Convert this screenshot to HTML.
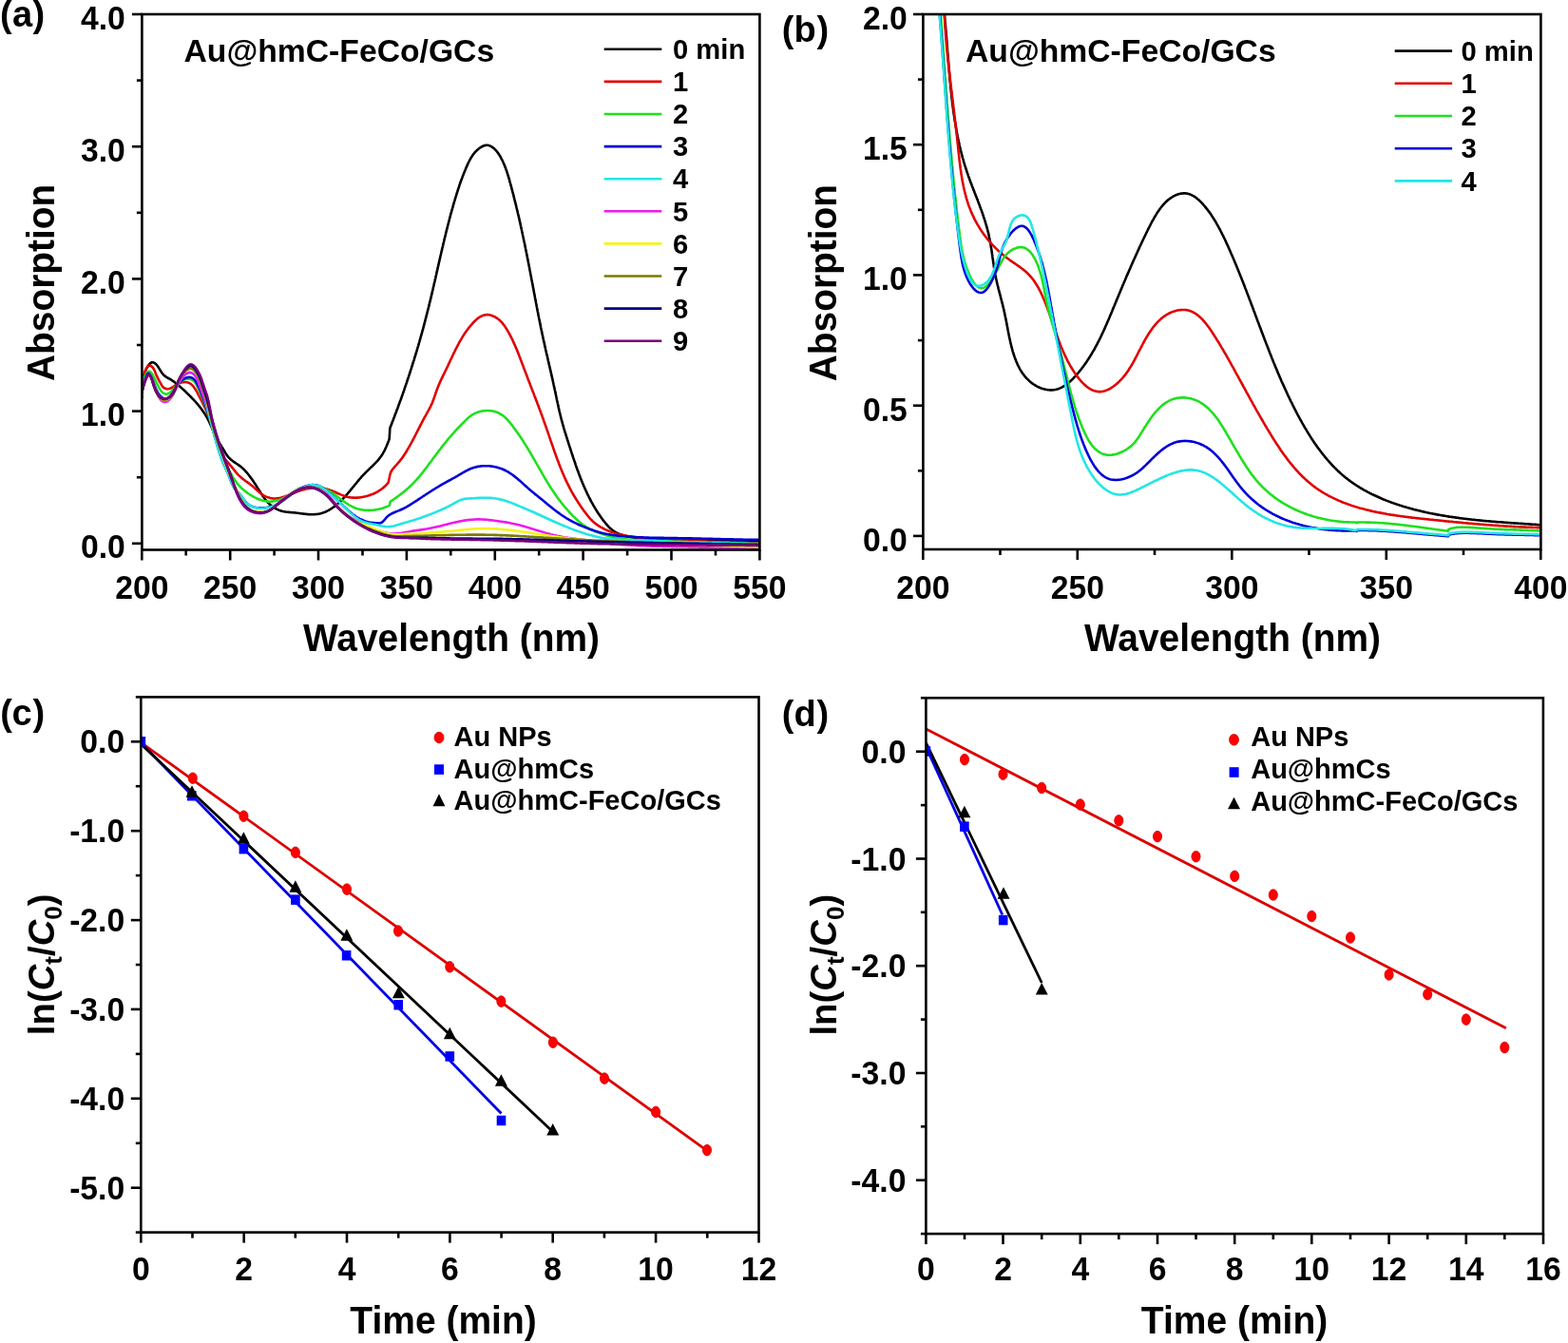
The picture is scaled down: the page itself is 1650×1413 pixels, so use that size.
<!DOCTYPE html>
<html><head><meta charset="utf-8"><title>Figure</title>
<style>html,body{margin:0;padding:0;background:#fff;width:1650px;height:1413px;overflow:hidden}svg{display:block}</style>
</head><body>
<svg width="1650" height="1413" viewBox="0 0 1650 1413">
<rect width="1650" height="1413" fill="#fff"/>
<defs>
<clipPath id="ca"><rect x="149.5" y="15" width="650" height="563.5"/></clipPath>
<clipPath id="cb"><rect x="971.5" y="15" width="650" height="563"/></clipPath>
<clipPath id="cc"><rect x="148.5" y="733.4" width="650.5" height="563.2"/></clipPath>
<clipPath id="cd"><rect x="974.5" y="734.3" width="649.5" height="563.8"/></clipPath>
</defs>
<g font-family="'Liberation Sans', Arial, Helvetica, sans-serif" font-weight="bold" fill="#000">
<path d="M149.5,402.3 149.8,401.2 150.2,400.1 150.5,398.9 150.8,397.7 151.1,396.6 151.4,395.4 151.7,394.2 152.1,393 152.5,391.9 152.9,390.7 153.3,389.6 153.8,388.5 154.4,387.4 155,386.3 155.6,385.3 156.3,384.3 157.1,383.3 157.9,382.4 158.9,381.7 159.8,381.3 160.8,381.2 161.8,381.5 162.8,382.1 163.7,382.8 164.6,383.6 165.3,384.5 166.1,385.5 166.8,386.6 167.5,387.7 168.2,388.9 168.9,390 169.5,391 170.2,392 170.9,393 171.6,393.8 172.4,394.7 173.3,395.4 174.2,396.1 175.2,396.8 176.2,397.4 177.3,398 178.4,398.6 179.4,399.2 180.5,399.9 181.5,400.6 182.5,401.2 183.5,401.9 184.5,402.7 185.4,403.4 186.4,404.1 187.3,404.9 188.2,405.7 189.1,406.5 190,407.3 190.9,408.1 191.8,408.9 192.7,409.7 193.6,410.5 194.5,411.3 195.3,412.1 196.2,413 197,413.8 197.9,414.7 198.8,415.5 199.6,416.4 200.5,417.2 201.3,418.1 202.2,419 203,419.8 203.8,420.7 204.7,421.6 205.5,422.5 206.3,423.4 207.1,424.3 207.9,425.2 208.7,426.2 209.4,427.1 210.2,428 210.9,429 211.7,429.9 212.4,430.9 213.1,431.9 213.8,432.9 214.5,433.9 215.2,434.9 215.8,435.9 216.4,436.9 217.1,438 217.7,439 218.2,440.1 218.8,441.1 219.3,442.2 219.9,443.3 220.4,444.4 220.9,445.5 221.4,446.6 221.9,447.7 222.4,448.8 222.9,449.9 223.3,451 223.8,452.1 224.3,453.2 224.8,454.3 225.3,455.4 225.8,456.5 226.3,457.6 226.8,458.7 227.3,459.8 227.9,460.9 228.4,461.9 229,463 229.6,464 230.2,465 230.9,466.1 231.5,467.1 232.1,468.1 232.8,469.1 233.4,470.1 234.1,471.2 234.7,472.2 235.3,473.2 236,474.3 236.6,475.3 237.2,476.4 237.8,477.4 238.5,478.4 239.2,479.4 239.9,480.4 240.7,481.3 241.5,482.1 242.4,483 243.3,483.7 244.2,484.5 245.2,485.2 246.1,485.9 247.1,486.6 248.1,487.3 249.1,488 250.2,488.7 251.2,489.4 252.2,490.1 253.1,490.8 254.1,491.6 255,492.4 255.9,493.2 256.8,494 257.6,494.9 258.4,495.8 259.2,496.7 260,497.6 260.8,498.5 261.5,499.5 262.3,500.4 263,501.4 263.7,502.4 264.4,503.3 265.1,504.3 265.8,505.3 266.5,506.3 267.2,507.3 267.8,508.3 268.5,509.3 269.2,510.3 269.8,511.3 270.5,512.4 271.1,513.4 271.8,514.4 272.4,515.4 273.1,516.4 273.7,517.5 274.4,518.5 275,519.5 275.7,520.5 276.3,521.5 277,522.5 277.7,523.5 278.4,524.5 279.1,525.5 279.9,526.4 280.7,527.4 281.5,528.3 282.3,529.1 283.1,530 284,530.8 285,531.6 285.9,532.4 286.9,533.1 287.9,533.8 288.9,534.4 290,535 291.1,535.6 292.2,536.1 293.3,536.6 294.4,537 295.6,537.4 296.8,537.8 297.9,538.1 299.1,538.3 300.3,538.5 301.5,538.7 302.7,538.8 303.9,538.9 305.1,539 306.3,539.1 307.5,539.2 308.7,539.3 309.9,539.4 311.1,539.5 312.3,539.7 313.5,539.8 314.7,540 315.9,540.2 317.1,540.3 318.3,540.5 319.5,540.6 320.7,540.8 321.9,540.9 323.1,541 324.3,541.1 325.5,541.2 326.7,541.2 328,541.3 329.2,541.3 330.4,541.2 331.6,541.1 332.8,541 334,540.9 335.2,540.7 336.4,540.5 337.5,540.2 338.7,539.9 339.8,539.5 341,539.1 342.1,538.7 343.2,538.2 344.3,537.6 345.4,537.1 346.5,536.5 347.5,535.9 348.6,535.2 349.6,534.5 350.6,533.8 351.6,533.1 352.5,532.4 353.5,531.6 354.4,530.8 355.3,530 356.3,529.2 357.1,528.4 358,527.6 358.9,526.8 359.7,525.9 360.6,525.1 361.4,524.2 362.2,523.3 363.1,522.4 363.9,521.6 364.7,520.7 365.5,519.7 366.2,518.8 367,517.9 367.8,517 368.6,516.1 369.3,515.1 370.1,514.2 370.8,513.3 371.6,512.3 372.4,511.4 373.1,510.5 373.9,509.5 374.7,508.6 375.4,507.7 376.2,506.7 377,505.8 377.7,504.9 378.5,504 379.3,503.1 380.1,502.1 380.9,501.2 381.7,500.4 382.5,499.5 383.4,498.6 384.2,497.7 385.1,496.9 385.9,496 386.8,495.2 387.7,494.3 388.6,493.5 389.4,492.6 390.3,491.8 391.2,491 392.1,490.1 392.9,489.3 393.8,488.4 394.6,487.6 395.5,486.7 396.3,485.8 397.1,485 397.9,484.1 398.7,483.1 399.4,482.2 400.1,481.3 400.9,480.3 401.5,479.3 402.2,478.3 402.8,477.3 403.4,476.2 404,475.2 404.6,474.1 405.1,473 405.6,471.9 406.1,470.8 406.6,469.7 407.1,468.5 407.5,467.4 408,466.3 408.4,465.2 408.9,464 409.3,462.9 409.7,461.8L409.7,461.8 409.8,460 409.9,458.3 410,456.5 410.1,454.7 410.2,453 410.3,451.2L410.3,451.2 410.5,450 411,448.9 411.4,447.8 411.8,446.7 412.3,445.5 412.7,444.4 413.1,443.3 413.6,442.2 414,441 414.4,439.9 414.9,438.8 415.3,437.7 415.7,436.5 416.1,435.4 416.6,434.3 417,433.2 417.4,432 417.8,430.9 418.3,429.8 418.7,428.7 419.1,427.5 419.5,426.4 419.9,425.3 420.3,424.1 420.7,423 421.1,421.9 421.6,420.7 422,419.6 422.4,418.5 422.8,417.3 423.2,416.2 423.6,415.1 424,413.9 424.4,412.8 424.8,411.7 425.2,410.5 425.6,409.4 425.9,408.3 426.3,407.1 426.7,406 427.1,404.9 427.5,403.7 427.9,402.6 428.3,401.4 428.7,400.3 429,399.2 429.4,398 429.8,396.9 430.2,395.7 430.5,394.6 430.9,393.5 431.3,392.3 431.7,391.2 432,390 432.4,388.9 432.8,387.7 433.1,386.6 433.5,385.4 433.9,384.3 434.2,383.2 434.6,382 434.9,380.9 435.3,379.7 435.7,378.6 436,377.4 436.4,376.3 436.7,375.1 437.1,374 437.4,372.8 437.8,371.7 438.1,370.5 438.5,369.4 438.8,368.2 439.1,367.1 439.5,365.9 439.8,364.8 440.2,363.6 440.5,362.4 440.8,361.3 441.2,360.1 441.5,359 441.8,357.8 442.2,356.7 442.5,355.5 442.8,354.4 443.1,353.2 443.5,352 443.8,350.9 444.1,349.7 444.4,348.6 444.7,347.4 445.1,346.2 445.4,345.1 445.7,343.9 446,342.8 446.3,341.6 446.6,340.4 446.9,339.3 447.2,338.1 447.5,336.9 447.8,335.8 448.1,334.6 448.4,333.5 448.7,332.3 449,331.1 449.3,330 449.6,328.8 449.9,327.6 450.2,326.5 450.5,325.3 450.8,324.1 451.1,323 451.4,321.8 451.7,320.6 451.9,319.4 452.2,318.3 452.5,317.1 452.8,315.9 453.1,314.8 453.4,313.6 453.6,312.4 453.9,311.3 454.2,310.1 454.5,308.9 454.7,307.7 455,306.6 455.3,305.4 455.6,304.2 455.8,303 456.1,301.9 456.4,300.7 456.6,299.5 456.9,298.4 457.2,297.2 457.5,296 457.7,294.8 458,293.7 458.3,292.5 458.5,291.3 458.8,290.1 459.1,289 459.3,287.8 459.6,286.6 459.9,285.4 460.1,284.3 460.4,283.1 460.7,281.9 460.9,280.7 461.2,279.6 461.5,278.4 461.7,277.2 462,276.1 462.3,274.9 462.5,273.7 462.8,272.5 463.1,271.4 463.3,270.2 463.6,269 463.9,267.8 464.1,266.7 464.4,265.5 464.7,264.3 465,263.2 465.2,262 465.5,260.8 465.8,259.6 466.1,258.5 466.3,257.3 466.6,256.1 466.9,255 467.2,253.8 467.4,252.6 467.7,251.5 468,250.3 468.3,249.1 468.6,247.9 468.9,246.8 469.1,245.6 469.4,244.4 469.7,243.3 470,242.1 470.3,240.9 470.6,239.8 470.9,238.6 471.2,237.5 471.5,236.3 471.8,235.1 472.1,234 472.4,232.8 472.7,231.6 473,230.5 473.3,229.3 473.6,228.2 473.9,227 474.2,225.8 474.5,224.7 474.9,223.5 475.2,222.4 475.5,221.2 475.8,220.1 476.2,218.9 476.5,217.7 476.8,216.6 477.1,215.4 477.5,214.3 477.8,213.1 478.1,212 478.5,210.8 478.8,209.7 479.2,208.5 479.5,207.4 479.9,206.2 480.2,205.1 480.6,204 480.9,202.8 481.3,201.7 481.7,200.5 482,199.4 482.4,198.2 482.8,197.1 483.2,196 483.5,194.8 483.9,193.7 484.3,192.5 484.7,191.4 485.1,190.3 485.5,189.1 486,188 486.4,186.9 486.8,185.7 487.2,184.6 487.7,183.5 488.1,182.3 488.6,181.2 489,180.1 489.5,179 490,177.8 490.4,176.7 490.9,175.6 491.4,174.5 491.9,173.4 492.4,172.2 492.9,171.1 493.5,170 494,169 494.6,167.9 495.2,166.8 495.8,165.8 496.5,164.8 497.1,163.8 497.8,162.8 498.5,161.8 499.3,160.9 500,160 500.9,159.1 501.7,158.3 502.6,157.5 503.5,156.7 504.4,156 505.4,155.3 506.5,154.6 507.6,154 508.7,153.5 509.8,153.1 510.9,152.9 512,152.8 513.2,152.8 514.3,153 515.4,153.4 516.5,153.9 517.6,154.5 518.6,155.2 519.5,155.9 520.5,156.8 521.3,157.6 522.2,158.5 522.9,159.5 523.7,160.5 524.4,161.5 525.1,162.5 525.7,163.6 526.4,164.6 527,165.7 527.5,166.8 528.1,167.9 528.7,169 529.2,170 529.7,171.2 530.2,172.3 530.6,173.4 531.1,174.5 531.5,175.6 532,176.7 532.4,177.9 532.8,179 533.2,180.1 533.6,181.3 533.9,182.4 534.3,183.5 534.6,184.7 535,185.8 535.3,187 535.7,188.1 536,189.3 536.3,190.4 536.6,191.6 537,192.8 537.3,193.9 537.6,195.1 537.9,196.2 538.2,197.4 538.5,198.6 538.8,199.7 539.1,200.9 539.4,202 539.7,203.2 540.1,204.4 540.4,205.5 540.6,206.7 540.9,207.8 541.2,209 541.5,210.2 541.8,211.3 542.1,212.5 542.4,213.7 542.7,214.8 543,216 543.3,217.2 543.5,218.3 543.8,219.5 544.1,220.7 544.4,221.8 544.7,223 544.9,224.2 545.2,225.4 545.5,226.5 545.8,227.7 546,228.9 546.3,230 546.6,231.2 546.8,232.4 547.1,233.6 547.4,234.7 547.6,235.9 547.9,237.1 548.1,238.3 548.4,239.4 548.7,240.6 548.9,241.8 549.2,243 549.4,244.1 549.7,245.3 549.9,246.5 550.2,247.7 550.4,248.8 550.7,250 550.9,251.2 551.2,252.4 551.4,253.5 551.7,254.7 551.9,255.9 552.2,257.1 552.4,258.3 552.6,259.4 552.9,260.6 553.1,261.8 553.4,263 553.6,264.2 553.8,265.3 554.1,266.5 554.3,267.7 554.5,268.9 554.8,270.1 555,271.2 555.2,272.4 555.5,273.6 555.7,274.8 555.9,276 556.2,277.1 556.4,278.3 556.6,279.5 556.9,280.7 557.1,281.9 557.3,283.1 557.5,284.2 557.8,285.4 558,286.6 558.2,287.8 558.4,289 558.7,290.1 558.9,291.3 559.1,292.5 559.3,293.7 559.6,294.9 559.8,296.1 560,297.2 560.2,298.4 560.5,299.6 560.7,300.8 560.9,302 561.1,303.2 561.4,304.3 561.6,305.5 561.8,306.7 562,307.9 562.2,309.1 562.5,310.2 562.7,311.4 562.9,312.6 563.1,313.8 563.4,315 563.6,316.1 563.8,317.3 564,318.5 564.3,319.7 564.5,320.9 564.7,322.1 564.9,323.2 565.2,324.4 565.4,325.6 565.6,326.8 565.8,328 566.1,329.1 566.3,330.3 566.5,331.5 566.8,332.7 567,333.9 567.2,335 567.5,336.2 567.7,337.4 567.9,338.6 568.2,339.7 568.4,340.9 568.7,342.1 568.9,343.3 569.1,344.5 569.4,345.6 569.6,346.8 569.9,348 570.1,349.2 570.4,350.3 570.6,351.5 570.9,352.7 571.1,353.9 571.4,355 571.6,356.2 571.9,357.4 572.1,358.6 572.4,359.7 572.7,360.9 572.9,362.1 573.2,363.3 573.4,364.4 573.7,365.6 574,366.8 574.2,368 574.5,369.1 574.8,370.3 575,371.5 575.3,372.6 575.6,373.8 575.9,375 576.1,376.2 576.4,377.3 576.7,378.5 576.9,379.7 577.2,380.9 577.5,382 577.7,383.2 578,384.4 578.3,385.5 578.6,386.7 578.8,387.9 579.1,389.1 579.4,390.2 579.6,391.4 579.9,392.6 580.2,393.8 580.4,394.9 580.7,396.1 581,397.3 581.2,398.4 581.5,399.6 581.8,400.8 582,402 582.3,403.1 582.5,404.3 582.8,405.5 583,406.7 583.3,407.8 583.6,409 583.8,410.2 584.1,411.4 584.3,412.6 584.6,413.7 584.8,414.9 585.1,416.1 585.3,417.3 585.6,418.4 585.8,419.6 586,420.8 586.3,422 586.6,423.1 586.8,424.3 587.1,425.5 587.3,426.7 587.6,427.8 587.8,429 588.1,430.2 588.4,431.4 588.6,432.5 588.9,433.7 589.2,434.9 589.5,436 589.8,437.2 590,438.4 590.3,439.5 590.6,440.7 590.9,441.9 591.3,443 591.6,444.2 591.9,445.3 592.2,446.5 592.5,447.7 592.9,448.8 593.2,450 593.5,451.1 593.9,452.3 594.2,453.4 594.6,454.6 594.9,455.7 595.3,456.9 595.6,458 596,459.2 596.4,460.3 596.7,461.5 597.1,462.6 597.4,463.8 597.8,464.9 598.2,466.1 598.5,467.2 598.9,468.3 599.3,469.5 599.7,470.6 600,471.8 600.4,472.9 600.8,474.1 601.1,475.2 601.5,476.4 601.9,477.5 602.3,478.6 602.6,479.8 603,480.9 603.4,482.1 603.8,483.2 604.2,484.4 604.6,485.5 605,486.6 605.3,487.8 605.7,488.9 606.1,490.1 606.5,491.2 606.9,492.3 607.3,493.5 607.7,494.6 608.2,495.7 608.6,496.8 609,498 609.4,499.1 609.8,500.2 610.3,501.3 610.7,502.5 611.1,503.6 611.6,504.7 612,505.8 612.5,506.9 612.9,508 613.4,509.1 613.9,510.2 614.3,511.3 614.8,512.4 615.3,513.5 615.8,514.6 616.3,515.7 616.8,516.8 617.3,517.9 617.8,519 618.3,520.1 618.8,521.2 619.4,522.2 619.9,523.3 620.5,524.4 621,525.5 621.6,526.5 622.1,527.6 622.7,528.6 623.3,529.7 623.9,530.7 624.5,531.8 625.1,532.8 625.7,533.9 626.3,534.9 626.9,535.9 627.6,537 628.2,538 628.9,539 629.5,540 630.2,541 630.9,542 631.6,543 632.3,544 633,545 633.7,545.9 634.4,546.9 635.1,547.9 635.9,548.8 636.7,549.8 637.4,550.7 638.2,551.6 639,552.6 639.8,553.4 640.6,554.3 641.5,555.2 642.4,556 643.3,556.8 644.2,557.5 645.1,558.3 646.1,558.9 647.1,559.6 648.1,560.2 649.2,560.7 650.2,561.2 651.4,561.7 652.5,562.2 653.6,562.6 654.8,562.9 655.9,563.3 657.1,563.6 658.3,563.9 659.5,564.2 660.7,564.5 661.9,564.7 663.1,564.9 664.2,565.1 665.4,565.3 666.6,565.5 667.8,565.7 669,565.9 670.2,566 671.4,566.2 672.6,566.3 673.8,566.4 675,566.5 676.2,566.6 677.4,566.7 678.6,566.8 679.8,566.9 681,566.9 682.2,567 683.4,567.1 684.6,567.1 685.8,567.2 687,567.2 688.2,567.3 689.4,567.4 690.6,567.4 691.8,567.5 693,567.5 694.2,567.6 695.4,567.6 696.6,567.6 697.8,567.7 699,567.7 700.2,567.8 701.4,567.8 702.6,567.9 703.8,567.9 705,568 706.2,568 707.4,568.1 708.6,568.1 709.8,568.1 711,568.2 712.2,568.2 713.4,568.2 714.6,568.3 715.8,568.3 717,568.3 718.2,568.4 719.4,568.4 720.6,568.4 721.8,568.5 723,568.5 724.2,568.5 725.4,568.5 726.6,568.6 727.8,568.6 729,568.6 730.2,568.6 731.5,568.7 732.7,568.7 733.9,568.7 735.1,568.7 736.3,568.7 737.5,568.8 738.7,568.8 739.9,568.8 741.1,568.8 742.3,568.8 743.5,568.8 744.7,568.8 745.9,568.9 747.1,568.9 748.3,568.9 749.5,568.9 750.7,568.9 751.9,568.9 753.1,568.9 754.3,569 755.5,569 756.7,569 757.9,569 759.1,569 760.3,569 761.5,569 762.7,569 763.9,569.1 765.1,569.1 766.3,569.1 767.5,569.1 768.7,569.1 769.9,569.1 771.1,569.1 772.3,569.1 773.5,569.1 774.7,569.2 775.9,569.2 777.1,569.2 778.4,569.2 779.6,569.2 780.8,569.2 782,569.2 783.2,569.3 784.4,569.3 785.6,569.3 786.8,569.3 788,569.3 789.2,569.3 790.4,569.4 791.6,569.4 792.8,569.4 794,569.4 795.2,569.4 796.4,569.5 797.6,569.5 798.8,569.5 800,569.5" fill="none" stroke="#000000" stroke-width="2.6" stroke-linejoin="round" stroke-linecap="round" clip-path="url(#ca)"/>
<path d="M149.5,402.3 150,401.3 150.4,400.2 150.8,399.1 151.1,397.9 151.3,396.7 151.6,395.5 151.8,394.2 152,393 152.3,391.8 152.7,390.6 153.1,389.4 153.6,388.3 154.2,387.2 155,386.2 155.8,385.3 156.7,384.8 157.7,384.6 158.7,384.9 159.7,385.6 160.6,386.5 161.3,387.5 161.9,388.5 162.5,389.7 163,390.8 163.5,392 163.9,393.2 164.4,394.3 164.9,395.4 165.4,396.4 165.9,397.5 166.4,398.5 166.9,399.6 167.5,400.6 168.1,401.7 168.7,402.7 169.3,403.8 169.9,404.9 170.6,406 171.3,407 172.2,407.9 173.2,408.5 174.2,408.9 175.4,409.1 176.6,409.2 177.7,409 178.9,408.7 180,408.2 181.1,407.7 182.1,407 183.1,406.3 184.2,405.6 185.2,405 186.2,404.3 187.2,403.8 188.3,403.3 189.4,402.9 190.6,402.5 191.8,402.2 193.1,402.1 194.3,402 195.5,402 196.7,402.2 197.9,402.5 198.9,402.9 199.9,403.4 200.9,404 201.8,404.8 202.6,405.6 203.4,406.4 204.1,407.4 204.8,408.4 205.5,409.4 206.1,410.5 206.8,411.6 207.4,412.7 208,413.8 208.5,414.9 209.1,416 209.7,417.1 210.3,418.2 210.8,419.3 211.4,420.3 212,421.4 212.5,422.5 213,423.5 213.6,424.6 214.1,425.6 214.6,426.7 215.1,427.8 215.6,428.9 216.1,429.9 216.6,431 217.1,432.1 217.5,433.2 218,434.3 218.4,435.4 218.9,436.5 219.3,437.7 219.7,438.8 220.2,439.9 220.6,441 221,442.2 221.4,443.3 221.8,444.4 222.2,445.6 222.6,446.7 223,447.9 223.4,449 223.8,450.2 224.2,451.3 224.5,452.5 224.9,453.6 225.3,454.8 225.7,455.9 226,457.1 226.4,458.2 226.8,459.4 227.2,460.5 227.5,461.7 227.9,462.8 228.3,464 228.7,465.2 229,466.3 229.4,467.5 229.8,468.6 230.2,469.7 230.6,470.9 231,472 231.4,473.1 231.9,474.2 232.4,475.3 232.9,476.4 233.4,477.5 233.9,478.5 234.5,479.6 235.1,480.6 235.8,481.6 236.5,482.6 237.2,483.5 238,484.4 238.8,485.4 239.6,486.3 240.3,487.2 241.2,488.1 241.9,489.1 242.7,490 243.5,490.9 244.3,491.9 245,492.8 245.8,493.8 246.5,494.7 247.3,495.6 248,496.6 248.8,497.5 249.6,498.4 250.4,499.3 251.2,500.1 252.1,500.9 253,501.7 253.9,502.5 254.8,503.3 255.7,504 256.7,504.8 257.7,505.5 258.6,506.2 259.6,506.9 260.6,507.6 261.6,508.3 262.6,509.1 263.5,509.8 264.5,510.5 265.4,511.3 266.4,512.1 267.3,512.9 268.2,513.7 269.1,514.5 270,515.3 270.8,516.1 271.7,516.9 272.6,517.7 273.6,518.5 274.5,519.2 275.5,520 276.4,520.6 277.5,521.3 278.5,521.9 279.6,522.4 280.8,522.9 281.9,523.3 283.1,523.6 284.3,524 285.5,524.2 286.7,524.4 288,524.5 289.2,524.5 290.4,524.5 291.6,524.4 292.7,524.3 293.9,524.1 295.1,523.8 296.2,523.5 297.4,523.1 298.5,522.8 299.6,522.4 300.8,522 301.9,521.5 303,521.1 304.2,520.6 305.3,520.2 306.4,519.7 307.6,519.3 308.7,518.9 309.8,518.4 311,518 312.1,517.6 313.3,517.1 314.4,516.7 315.6,516.3 316.7,516 317.9,515.6 319,515.3 320.2,514.9 321.3,514.6 322.5,514.3 323.7,514.1 324.8,513.9 326,513.7 327.2,513.5 328.3,513.3 329.5,513.2 330.7,513.1 331.9,513.1 333.1,513.1 334.3,513.1 335.5,513.2 336.7,513.3 337.9,513.4 339.1,513.6 340.3,513.8 341.5,514 342.7,514.3 343.9,514.6 345,514.9 346.2,515.3 347.4,515.7 348.5,516.1 349.7,516.5 350.8,517 352,517.5 353.1,518 354.2,518.5 355.3,519 356.4,519.5 357.5,519.9 358.6,520.4 359.8,520.9 360.9,521.3 362,521.7 363.1,522.1 364.3,522.4 365.4,522.7 366.6,523 367.8,523.2 368.9,523.4 370.1,523.5 371.3,523.6 372.5,523.6 373.7,523.7 374.9,523.6 376.1,523.6 377.3,523.5 378.5,523.4 379.7,523.2 380.9,523.1 382.1,522.8 383.3,522.6 384.5,522.3 385.6,522 386.8,521.7 388,521.3 389.1,521 390.3,520.5 391.4,520.1 392.5,519.7 393.6,519.2 394.7,518.7 395.8,518.1 396.8,517.6 397.9,517 398.9,516.3 399.9,515.7 400.9,515 401.9,514.3 402.8,513.6 403.7,512.8 404.6,512 405.5,511.2 406.3,510.3 407.2,509.4 407.9,508.5 408.7,507.5L408.7,507.5 409,506.2 409.2,505 409.5,503.8 409.8,502.5 410,501.3 410.3,500L410.3,500 410.6,498.8 411,497.6 411.4,496.5 412,495.5 412.6,494.5 413.3,493.5 414.1,492.6 414.8,491.7 415.6,490.8 416.5,489.9 417.3,489 418.1,488.1 418.9,487.2 419.7,486.2 420.5,485.3 421.2,484.4 421.9,483.4 422.7,482.5 423.4,481.5 424.1,480.5 424.8,479.5 425.4,478.5 426.1,477.5 426.7,476.5 427.4,475.5 428,474.5 428.6,473.4 429.2,472.4 429.8,471.4 430.4,470.3 431,469.3 431.6,468.2 432.2,467.2 432.8,466.1 433.3,465.1 433.9,464 434.5,463 435,461.9 435.6,460.8 436.1,459.8 436.7,458.7 437.2,457.6 437.8,456.5 438.3,455.5 438.9,454.4 439.4,453.3 440,452.2 440.5,451.2 441.1,450.1 441.6,449 442.2,448 442.7,446.9 443.3,445.8 443.8,444.7 444.4,443.7 444.9,442.6 445.5,441.5 446.1,440.5 446.6,439.4 447.2,438.4 447.8,437.3 448.4,436.3 449,435.2 449.6,434.2 450.1,433.1 450.7,432.1 451.3,431 451.9,430 452.4,428.9 453,427.8 453.5,426.7 454,425.7 454.5,424.6 455,423.5 455.4,422.3 455.8,421.2 456.3,420.1 456.7,418.9 457.1,417.8 457.5,416.7 457.9,415.5 458.2,414.4 458.6,413.3 459,412.1 459.4,411 459.9,409.9 460.3,408.7 460.7,407.6 461.1,406.5 461.6,405.4 462.1,404.3 462.5,403.2 463,402.1 463.5,401 464,399.9 464.5,398.8 465.1,397.7 465.6,396.6 466.1,395.5 466.6,394.4 467.2,393.4 467.7,392.3 468.2,391.2 468.8,390.1 469.3,389 469.8,387.9 470.4,386.9 470.9,385.8 471.4,384.7 471.9,383.6 472.4,382.5 472.9,381.4 473.4,380.3 473.9,379.2 474.4,378.1 475,377.1 475.5,376 476,374.9 476.5,373.8 477,372.7 477.5,371.6 478,370.6 478.6,369.5 479.1,368.4 479.6,367.3 480.2,366.3 480.7,365.2 481.3,364.1 481.8,363.1 482.4,362 482.9,361 483.5,359.9 484.1,358.9 484.7,357.8 485.3,356.8 485.9,355.8 486.5,354.7 487.2,353.7 487.8,352.7 488.5,351.7 489.1,350.7 489.8,349.7 490.5,348.7 491.2,347.7 491.9,346.8 492.7,345.8 493.4,344.8 494.2,343.9 495,342.9 495.8,342 496.6,341.1 497.4,340.2 498.3,339.2 499.1,338.3 500,337.5 500.9,336.6 501.8,335.8 502.8,335 503.7,334.3 504.7,333.7 505.7,333.1 506.8,332.5 507.8,332.1 508.9,331.7 509.9,331.4 511.1,331.2 512.2,331.1 513.3,331.1 514.5,331.3 515.7,331.5 516.9,331.8 518.1,332.2 519.2,332.7 520.4,333.2 521.5,333.9 522.6,334.5 523.6,335.3 524.6,336 525.6,336.8 526.5,337.6 527.4,338.5 528.2,339.4 529,340.3 529.7,341.3 530.5,342.2 531.2,343.2 531.8,344.2 532.5,345.2 533.1,346.2 533.8,347.3 534.4,348.3 535,349.4 535.6,350.4 536.1,351.5 536.7,352.5 537.3,353.6 537.8,354.7 538.3,355.7 538.9,356.8 539.4,357.9 539.9,359 540.4,360.1 540.9,361.2 541.4,362.3 541.9,363.4 542.4,364.5 542.8,365.6 543.3,366.7 543.8,367.8 544.2,368.9 544.7,370 545.1,371.1 545.5,372.3 546,373.4 546.4,374.5 546.9,375.6 547.3,376.8 547.7,377.9 548.1,379 548.6,380.1 549,381.3 549.4,382.4 549.8,383.5 550.3,384.6 550.7,385.8 551.1,386.9 551.5,388 552,389.1 552.4,390.3 552.8,391.4 553.3,392.5 553.7,393.6 554.1,394.8 554.6,395.9 555,397 555.4,398.1 555.8,399.2 556.3,400.4 556.7,401.5 557.1,402.6 557.6,403.7 558,404.8 558.4,406 558.9,407.1 559.3,408.2 559.7,409.3 560.2,410.5 560.6,411.6 561,412.7 561.5,413.8 561.9,414.9 562.3,416.1 562.7,417.2 563.2,418.3 563.6,419.4 564,420.5 564.5,421.7 564.9,422.8 565.3,423.9 565.7,425 566.2,426.2 566.6,427.3 567,428.4 567.4,429.5 567.8,430.7 568.3,431.8 568.7,432.9 569.1,434 569.5,435.2 569.9,436.3 570.4,437.4 570.8,438.6 571.2,439.7 571.6,440.8 572,441.9 572.4,443.1 572.8,444.2 573.2,445.3 573.6,446.5 574,447.6 574.4,448.8 574.8,449.9 575.2,451 575.6,452.2 576,453.3 576.4,454.4 576.8,455.6 577.2,456.7 577.6,457.9 578,459 578.3,460.1 578.7,461.3 579.1,462.4 579.5,463.6 579.9,464.7 580.3,465.9 580.7,467 581.1,468.1 581.5,469.3 581.9,470.4 582.3,471.6 582.7,472.7 583.1,473.8 583.5,475 583.9,476.1 584.3,477.2 584.7,478.4 585.1,479.5 585.5,480.6 585.9,481.8 586.3,482.9 586.7,484 587.2,485.1 587.6,486.3 588,487.4 588.4,488.5 588.9,489.6 589.3,490.7 589.8,491.9 590.2,493 590.7,494.1 591.1,495.2 591.6,496.3 592,497.4 592.5,498.5 593,499.6 593.5,500.7 593.9,501.8 594.4,502.9 594.9,504 595.4,505.1 595.9,506.2 596.4,507.2 597,508.3 597.5,509.4 598,510.5 598.6,511.5 599.1,512.6 599.6,513.7 600.2,514.7 600.8,515.8 601.3,516.8 601.9,517.9 602.5,518.9 603.1,520 603.7,521 604.3,522 604.9,523.1 605.6,524.1 606.2,525.1 606.8,526.1 607.5,527.1 608.1,528.2 608.8,529.2 609.5,530.2 610.1,531.2 610.8,532.2 611.5,533.2 612.2,534.2 612.9,535.2 613.6,536.2 614.3,537.2 615,538.2 615.8,539.1 616.5,540.1 617.3,541.1 618,542.1 618.8,543 619.6,544 620.3,544.9 621.2,545.8 622,546.7 622.8,547.5 623.7,548.4 624.6,549.2 625.5,549.9 626.4,550.7 627.3,551.4 628.3,552.1 629.3,552.8 630.2,553.4 631.2,554.1 632.3,554.7 633.3,555.2 634.3,555.8 635.4,556.3 636.4,556.9 637.5,557.4 638.6,557.8 639.7,558.3 640.8,558.7 641.9,559.2 643,559.6 644.2,560 645.3,560.3 646.5,560.7 647.6,561 648.8,561.4 650,561.7 651.1,562 652.3,562.3 653.5,562.6 654.7,562.8 655.9,563.1 657.1,563.3 658.3,563.5 659.5,563.7 660.7,564 661.9,564.2 663.1,564.3 664.3,564.5 665.5,564.7 666.8,564.9 668,565 669.2,565.2 670.4,565.3 671.6,565.5 672.8,565.6 674,565.7 675.2,565.9 676.4,566 677.6,566.1 678.8,566.2 680,566.3 681.1,566.4 682.3,566.5 683.5,566.6 684.7,566.7 685.9,566.8 687.1,566.8 688.3,566.9 689.5,567 690.7,567.1 691.9,567.1 693.1,567.2 694.3,567.3 695.5,567.3 696.7,567.4 697.8,567.4 699,567.5 700.2,567.6 701.4,567.6 702.6,567.7 703.8,567.7 705,567.8 706.2,567.8 707.4,567.9 708.6,567.9 709.8,568 711,568.1 712.2,568.1 713.4,568.2 714.6,568.2 715.8,568.3 717,568.3 718.2,568.4 719.4,568.5 720.6,568.5 721.8,568.6 723,568.6 724.2,568.7 725.4,568.8 726.6,568.8 727.9,568.9 729.1,568.9 730.3,569 731.5,569.1 732.7,569.1 733.9,569.2 735.1,569.2 736.3,569.3 737.5,569.3 738.7,569.4 739.9,569.5 741.1,569.5 742.3,569.6 743.5,569.6 744.7,569.7 745.9,569.7 747.1,569.7 748.3,569.8 749.5,569.8 750.7,569.9 751.9,569.9 753.1,570 754.3,570 755.5,570 756.7,570.1 757.9,570.1 759.1,570.2 760.3,570.2 761.5,570.2 762.7,570.3 763.9,570.3 765.1,570.4 766.3,570.4 767.5,570.4 768.7,570.5 769.9,570.5 771.1,570.5 772.3,570.6 773.5,570.6 774.7,570.7 775.9,570.7 777.1,570.7 778.3,570.8 779.5,570.8 780.7,570.8 781.9,570.9 783.1,570.9 784.4,571 785.6,571 786.8,571 788,571.1 789.2,571.1 790.4,571.2 791.6,571.2 792.8,571.2 794,571.3 795.2,571.3 796.4,571.4 797.6,571.4 798.8,571.5 800,571.5" fill="none" stroke="#e00000" stroke-width="2.6" stroke-linejoin="round" stroke-linecap="round" clip-path="url(#ca)"/>
<path d="M149.5,405 149.5,404.8 149.7,404.3 149.9,403.3 150.3,402.2 150.7,400.8 151.2,399.3 151.8,397.7 152.5,396.1 153.2,394.6 153.9,393.3 154.7,392.2 155.5,391.3 156.3,390.8 157.1,390.7 158,391 158.8,391.7 159.6,392.7 160.3,393.8 161.1,395.1 161.7,396.4 162.4,397.6 163,398.8 163.5,400 164,401 164.5,402.1 165,403.1 165.5,404.1 166,405.2 166.5,406.2 167.1,407.3 167.7,408.4 168.4,409.6 169.1,410.7 169.8,411.7 170.7,412.6 171.6,413.4 172.5,414 173.5,414.4 174.5,414.6 175.6,414.5 176.7,414.2 177.9,413.6 179,412.9 180,412.1 180.9,411.3 181.7,410.4 182.5,409.5 183.2,408.6 183.9,407.6 184.6,406.7 185.4,405.8 186.2,404.9 187.1,404 188,403.1 189,402.3 190,401.5 191.1,400.8 192.2,400.2 193.3,399.6 194.4,399.2 195.6,398.9 196.7,398.7 197.9,398.6 199,398.7 200.2,398.9 201.3,399.3 202.3,399.9 203.3,400.5 204.2,401.3 205,402.2 205.7,403.1 206.3,404.2 206.9,405.2 207.5,406.3 208,407.4 208.5,408.6 209,409.7 209.5,410.8 210,411.9 210.5,413.1 211,414.2 211.5,415.3 212,416.4 212.4,417.6 212.9,418.7 213.3,419.8 213.8,420.9 214.2,422.1 214.6,423.2 215,424.3 215.5,425.5 215.9,426.6 216.3,427.7 216.7,428.8 217.1,430 217.5,431.1 217.9,432.2 218.3,433.4 218.6,434.5 219,435.7 219.4,436.8 219.8,437.9 220.1,439.1 220.5,440.2 220.9,441.4 221.2,442.5 221.6,443.7 221.9,444.8 222.3,446 222.6,447.1 223,448.3 223.3,449.4 223.7,450.6 224,451.7 224.4,452.9 224.7,454.1 225.1,455.2 225.4,456.4 225.7,457.6 226.1,458.7 226.4,459.9 226.8,461 227.2,462.2 227.6,463.4 227.9,464.5 228.3,465.7 228.7,466.8 229.1,467.9 229.6,469 230,470.2 230.5,471.3 230.9,472.4 231.4,473.5 231.9,474.6 232.4,475.7 232.9,476.7 233.4,477.8 233.9,478.9 234.4,480 234.9,481.1 235.4,482.2 235.9,483.3 236.4,484.4 236.9,485.5 237.4,486.6 237.9,487.7 238.4,488.8 238.9,489.9 239.5,491 240,492.2 240.5,493.3 241,494.3 241.6,495.4 242.1,496.5 242.7,497.6 243.2,498.7 243.8,499.7 244.4,500.8 245,501.8 245.6,502.9 246.3,503.9 246.9,504.9 247.6,505.9 248.3,506.8 249,507.8 249.7,508.8 250.5,509.7 251.3,510.6 252.1,511.5 252.9,512.3 253.8,513.2 254.7,514 255.6,514.8 256.5,515.6 257.4,516.4 258.4,517.1 259.3,517.9 260.3,518.6 261.3,519.3 262.4,520 263.4,520.6 264.4,521.3 265.5,521.9 266.6,522.5 267.7,523.1 268.7,523.6 269.9,524.2 271,524.7 272.1,525.2 273.2,525.6 274.4,526 275.5,526.4 276.7,526.7 277.8,527 279,527.2 280.2,527.4 281.4,527.6 282.6,527.6 283.8,527.7 285,527.6 286.2,527.6 287.5,527.4 288.7,527.2 289.9,527 291.1,526.7 292.3,526.4 293.4,526.1 294.6,525.7 295.7,525.2 296.8,524.7 297.9,524.2 299,523.6 300.1,523.1 301.1,522.4 302.1,521.8 303.1,521.2 304.1,520.5 305.2,519.8 306.2,519.2 307.2,518.5 308.2,517.8 309.2,517.2 310.2,516.6 311.3,516 312.3,515.4 313.4,514.8 314.5,514.3 315.6,513.8 316.8,513.4 317.9,512.9 319.1,512.6 320.3,512.2 321.5,511.9 322.7,511.7 323.9,511.5 325.1,511.3 326.3,511.2 327.5,511.2 328.7,511.1 329.9,511.2 331.1,511.3 332.3,511.4 333.5,511.6 334.6,511.9 335.8,512.2 337,512.5 338.1,512.8 339.3,513.2 340.4,513.7 341.5,514.2 342.6,514.7 343.7,515.2 344.8,515.8 345.9,516.4 346.9,517 348,517.6 349,518.3 350,518.9 351,519.6 352,520.3 353,521.1 354,521.8 355,522.5 356,523.2 357,524 357.9,524.7 358.9,525.4 359.9,526.2 360.9,526.9 361.9,527.6 362.9,528.3 363.8,529 364.8,529.7 365.9,530.3 366.9,531 367.9,531.6 368.9,532.1 370,532.7 371,533.2 372.1,533.7 373.2,534.2 374.3,534.6 375.4,535 376.6,535.4 377.7,535.7 378.9,535.9 380.1,536.2 381.3,536.4 382.5,536.5 383.7,536.7 384.9,536.8 386.1,536.8 387.3,536.9 388.6,536.9 389.8,536.8 391,536.8 392.3,536.7 393.5,536.5 394.7,536.4 395.9,536.2 397.1,536 398.3,535.8 399.5,535.5 400.7,535.2 401.9,534.9 403.1,534.5 404.2,534.1 405.3,533.7 406.4,533.3 407.5,532.9 408.6,532.4 409.7,531.9L409.7,531.9 409.9,531.2 410.1,530.5 410.2,529.8 410.4,529.1 410.6,528.4 410.8,527.7L410.8,527.7 411.8,527 412.8,526.4 413.8,525.7 414.8,525 415.8,524.3 416.8,523.6 417.8,522.9 418.7,522.2 419.7,521.5 420.7,520.8 421.6,520.1 422.6,519.3 423.5,518.6 424.5,517.8 425.4,517.1 426.4,516.3 427.3,515.5 428.2,514.7 429.1,513.9 430,513.1 430.9,512.3 431.7,511.5 432.6,510.7 433.5,509.8 434.3,509 435.2,508.1 436,507.3 436.8,506.4 437.6,505.5 438.4,504.6 439.2,503.7 440,502.8 440.8,501.9 441.6,501 442.3,500 443.1,499.1 443.9,498.2 444.6,497.2 445.4,496.3 446.1,495.3 446.8,494.4 447.6,493.4 448.3,492.5 449,491.5 449.8,490.5 450.5,489.6 451.2,488.6 451.9,487.6 452.6,486.7 453.4,485.7 454.1,484.7 454.8,483.8 455.5,482.8 456.2,481.8 457,480.8 457.7,479.9 458.4,478.9 459.1,477.9 459.8,477 460.6,476 461.3,475.1 462,474.1 462.8,473.1 463.5,472.2 464.2,471.2 465,470.3 465.7,469.3 466.5,468.4 467.2,467.4 468,466.5 468.7,465.6 469.5,464.6 470.2,463.7 471,462.8 471.8,461.8 472.5,460.9 473.3,460 474.1,459.1 474.9,458.2 475.7,457.3 476.5,456.4 477.3,455.5 478.1,454.6 478.9,453.7 479.7,452.8 480.5,451.9 481.3,451 482.1,450.2 483,449.3 483.8,448.4 484.7,447.6 485.5,446.7 486.4,445.8 487.2,445 488.1,444.1 488.9,443.3 489.8,442.4 490.7,441.6 491.5,440.7 492.4,439.9 493.3,439.1 494.3,438.4 495.2,437.6 496.2,436.9 497.2,436.3 498.3,435.7 499.3,435.1 500.4,434.6 501.5,434.1 502.7,433.7 503.8,433.3 505,433 506.2,432.7 507.4,432.5 508.6,432.3 509.9,432.2 511.1,432.1 512.3,432 513.5,432 514.7,432.1 516,432.2 517.2,432.3 518.4,432.5 519.5,432.8 520.7,433.1 521.9,433.4 523,433.8 524.1,434.3 525.2,434.8 526.2,435.4 527.3,436 528.2,436.6 529.2,437.3 530.2,438 531.1,438.8 532,439.6 532.8,440.5 533.7,441.3 534.5,442.2 535.3,443.1 536.1,444.1 536.9,445 537.7,446 538.5,447 539.2,448 540,448.9 540.7,449.9 541.4,450.9 542.1,451.9 542.9,452.9 543.6,453.9 544.3,454.9 545,455.9 545.6,456.9 546.3,457.8 547,458.8 547.7,459.8 548.4,460.8 549,461.8 549.7,462.8 550.3,463.8 551,464.8 551.6,465.9 552.3,466.9 552.9,467.9 553.5,468.9 554.2,469.9 554.8,470.9 555.4,472 556,473 556.6,474 557.2,475.1 557.9,476.1 558.5,477.1 559.1,478.2 559.7,479.2 560.3,480.3 560.9,481.3 561.5,482.3 562.1,483.4 562.7,484.4 563.3,485.5 563.9,486.5 564.5,487.6 565.1,488.6 565.7,489.7 566.3,490.7 566.9,491.8 567.5,492.8 568.1,493.9 568.7,494.9 569.3,496 569.9,497 570.5,498.1 571.1,499.1 571.7,500.1 572.3,501.2 572.9,502.2 573.5,503.3 574.1,504.3 574.8,505.3 575.4,506.4 576,507.4 576.6,508.4 577.3,509.4 577.9,510.5 578.5,511.5 579.2,512.5 579.8,513.5 580.5,514.5 581.2,515.5 581.8,516.5 582.5,517.5 583.2,518.5 583.8,519.5 584.5,520.5 585.2,521.5 585.9,522.5 586.6,523.5 587.3,524.4 588,525.4 588.8,526.4 589.5,527.3 590.2,528.3 591,529.2 591.7,530.2 592.5,531.1 593.2,532.1 594,533 594.8,533.9 595.6,534.8 596.4,535.7 597.2,536.6 598,537.5 598.8,538.4 599.6,539.3 600.4,540.2 601.3,541.1 602.1,541.9 603,542.8 603.8,543.6 604.7,544.5 605.6,545.3 606.4,546.1 607.3,547 608.2,547.8 609.1,548.6 610.1,549.4 611,550.1 611.9,550.9 612.9,551.6 613.8,552.4 614.8,553.1 615.8,553.8 616.8,554.4 617.8,555.1 618.8,555.7 619.9,556.3 620.9,556.8 622,557.4 623.1,557.9 624.2,558.4 625.3,558.8 626.4,559.3 627.6,559.7 628.7,560.1 629.8,560.5 631,560.9 632.1,561.3 633.3,561.6 634.4,562 635.6,562.4 636.7,562.8 637.9,563.2 639,563.5 640.2,563.9 641.4,564.2 642.5,564.5 643.7,564.8 644.9,565.1 646,565.4 647.2,565.6 648.4,565.8 649.6,566.1 650.7,566.3 651.9,566.5 653.1,566.6 654.3,566.8 655.5,567 656.7,567.1 657.9,567.2 659.1,567.4 660.3,567.5 661.5,567.6 662.7,567.7 663.9,567.8 665.1,567.9 666.3,567.9 667.5,568 668.7,568.1 669.9,568.1 671.1,568.2 672.3,568.2 673.5,568.3 674.7,568.3 675.9,568.4 677.1,568.4 678.3,568.5 679.6,568.5 680.8,568.6 682,568.6 683.2,568.7 684.4,568.7 685.6,568.8 686.8,568.8 688,568.9 689.2,568.9 690.4,569 691.6,569 692.8,569.1 694,569.1 695.2,569.2 696.4,569.2 697.6,569.3 698.8,569.3 700,569.4 701.2,569.4 702.4,569.5 703.6,569.5 704.8,569.5 706,569.6 707.2,569.6 708.4,569.7 709.6,569.7 710.9,569.8 712.1,569.8 713.3,569.8 714.5,569.9 715.7,569.9 716.9,569.9 718.1,570 719.3,570 720.5,570.1 721.7,570.1 722.9,570.1 724.1,570.2 725.3,570.2 726.5,570.2 727.7,570.3 728.9,570.3 730.1,570.3 731.3,570.3 732.5,570.4 733.7,570.4 734.9,570.4 736.1,570.5 737.3,570.5 738.6,570.5 739.8,570.5 741,570.6 742.2,570.6 743.4,570.6 744.6,570.7 745.8,570.7 747,570.7 748.2,570.7 749.4,570.8 750.6,570.8 751.8,570.8 753,570.8 754.2,570.9 755.4,570.9 756.6,570.9 757.8,570.9 759,571 760.2,571 761.5,571 762.7,571 763.9,571.1 765.1,571.1 766.3,571.1 767.5,571.2 768.7,571.2 769.9,571.2 771.1,571.2 772.3,571.3 773.5,571.3 774.7,571.3 775.9,571.4 777.1,571.4 778.3,571.4 779.5,571.4 780.7,571.5 781.9,571.5 783.1,571.5 784.3,571.6 785.5,571.6 786.8,571.6 788,571.7 789.2,571.7 790.4,571.7 791.6,571.8 792.8,571.8 794,571.8 795.2,571.9 796.4,571.9 797.6,572 798.8,572 800,572" fill="none" stroke="#1ee01e" stroke-width="2.6" stroke-linejoin="round" stroke-linecap="round" clip-path="url(#ca)"/>
<path d="M149.5,410 147.5,415.6 146.2,418.7 145.7,419.8 145.8,419.2 146.4,417.2 147.3,414.1 148.5,410.5 149.9,406.5 151.3,402.6 152.5,399.2 153.6,396.5 154.5,394.6 155.3,393.5 155.9,392.9 156.4,392.9 157,393.2 157.6,393.8 158.1,394.6 158.7,395.7 159.3,396.8 159.9,398.1 160.4,399.4 161,400.7 161.5,402 161.9,403.3 162.4,404.5 162.8,405.7 163.3,406.9 163.7,408 164.1,409.1 164.6,410.1 165.1,411.2 165.6,412.2 166.2,413.1 166.8,414.1 167.4,415 168.2,415.9 169,416.7 169.8,417.5 170.8,418.3 171.9,419.1 173,419.6 174.1,420 175.2,419.9 176.3,419.5 177.3,418.8 178.3,417.9 179.2,416.9 180.1,415.9 180.9,414.8 181.6,413.8 182.3,412.7 182.9,411.7 183.5,410.7 184.1,409.7 184.7,408.7 185.3,407.7 185.9,406.7 186.5,405.8 187.1,404.8 187.8,403.8 188.6,402.9 189.4,402 190.2,401.1 191.2,400.3 192.1,399.5 193.2,398.8 194.3,398.2 195.5,397.6 196.7,397.2 197.9,397 199.1,396.9 200.2,396.9 201.3,397.2 202.3,397.7 203.2,398.3 204.1,399 204.9,399.9 205.6,400.8 206.3,401.9 207,403 207.6,404.1 208.2,405.3 208.8,406.4 209.3,407.6 209.8,408.7 210.3,409.8 210.8,410.9 211.2,412.1 211.6,413.2 212,414.3 212.4,415.4 212.8,416.5 213.2,417.6 213.6,418.7 214,419.8 214.4,420.9 214.8,422 215.2,423.1 215.5,424.3 215.9,425.4 216.3,426.5 216.7,427.7 217.1,428.8 217.4,429.9 217.8,431.1 218.2,432.2 218.6,433.4 218.9,434.5 219.3,435.7 219.7,436.8 220,438 220.4,439.2 220.7,440.3 221.1,441.5 221.4,442.6 221.8,443.8 222.1,445 222.4,446.1 222.8,447.3 223.1,448.4 223.4,449.6 223.7,450.8 224.1,451.9 224.4,453.1 224.7,454.3 225,455.4 225.3,456.6 225.6,457.7 225.9,458.9 226.3,460.1 226.6,461.2 226.9,462.4 227.2,463.5 227.5,464.7 227.9,465.8 228.2,467 228.5,468.2 228.9,469.3 229.2,470.5 229.5,471.6 229.9,472.7 230.2,473.9 230.6,475 231,476.2 231.3,477.3 231.7,478.4 232.1,479.6 232.5,480.7 232.9,481.8 233.3,483 233.7,484.1 234.2,485.2 234.6,486.3 235.1,487.4 235.5,488.5 236,489.6 236.5,490.7 237,491.8 237.5,492.9 238,494 238.5,495.1 239,496.2 239.5,497.3 240,498.4 240.5,499.5 240.9,500.7 241.4,501.8 241.8,502.9 242.2,504.1 242.6,505.2 243.1,506.3 243.5,507.5 244,508.6 244.5,509.6 245,510.7 245.6,511.7 246.2,512.7 246.9,513.7 247.6,514.6 248.4,515.6 249.2,516.5 250,517.4 250.8,518.3 251.6,519.2 252.4,520.1 253.2,521 254,522 254.7,523 255.4,524 256.1,525 256.8,526 257.6,526.9 258.3,527.9 259.1,528.7 259.9,529.6 260.8,530.4 261.7,531.1 262.7,531.7 263.8,532.2 264.8,532.7 266,533.1 267.1,533.5 268.3,533.8 269.6,534 270.8,534.2 272.1,534.3 273.3,534.4 274.6,534.4 275.8,534.4 277.1,534.4 278.3,534.3 279.5,534.2 280.7,534 281.9,533.8 283.1,533.6 284.3,533.4 285.4,533.1 286.6,532.7 287.7,532.3 288.8,531.9 289.9,531.5 290.9,530.9 292,530.4 293.1,529.8 294.1,529.2 295.1,528.5 296.1,527.8 297.1,527.1 298.1,526.4 299.1,525.6 300.1,524.9 301,524.1 302,523.4 302.9,522.7 303.8,521.9 304.8,521.2 305.7,520.5 306.7,519.8 307.6,519.1 308.6,518.4 309.5,517.7 310.5,517 311.5,516.4 312.5,515.8 313.6,515.1 314.6,514.5 315.7,514 316.8,513.4 318,512.9 319.1,512.4 320.2,512 321.4,511.6 322.6,511.2 323.7,510.9 324.9,510.6 326.1,510.4 327.3,510.2 328.5,510.1 329.6,510.1 330.8,510.2 332,510.3 333.1,510.5 334.3,510.7 335.4,511.1 336.5,511.6 337.5,512.1 338.6,512.7 339.6,513.4 340.7,514.1 341.7,514.9 342.6,515.7 343.6,516.5 344.6,517.2 345.5,518 346.4,518.8 347.4,519.5 348.3,520.3 349.2,521.1 350.1,521.8 351,522.6 351.8,523.4 352.7,524.1 353.6,524.9 354.5,525.7 355.3,526.6 356.2,527.4 357.1,528.2 357.9,529 358.8,529.9 359.7,530.7 360.6,531.6 361.4,532.4 362.3,533.2 363.2,534.1 364.1,534.9 365,535.7 365.9,536.6 366.8,537.4 367.7,538.2 368.6,538.9 369.6,539.7 370.5,540.5 371.4,541.2 372.4,541.9 373.4,542.6 374.3,543.3 375.3,544 376.3,544.6 377.4,545.2 378.4,545.8 379.4,546.3 380.5,546.8 381.6,547.3 382.7,547.8 383.8,548.2 384.9,548.6 386.1,548.9 387.2,549.2 388.4,549.5 389.6,549.7 390.8,549.9 392.1,550 393.3,550.1 394.6,550.2 395.8,550.3 397.1,550.4 398.3,550.5 399.4,550.4 400.5,550.2 401.6,549.8 402.5,549.2 403.3,548.4 404.2,547.5 405,546.5 405.8,545.5 406.6,544.5 407.5,543.6 408.4,542.8 409.4,542.1 410.4,541.4 411.4,540.8 412.5,540.2 413.6,539.7 414.7,539.2 415.8,538.8 416.9,538.3 418,537.9 419.2,537.4 420.3,537 421.4,536.5 422.5,536 423.6,535.5 424.7,535 425.8,534.5 426.8,533.9 427.9,533.3 428.9,532.7 429.9,532.1 431,531.5 432,530.8 433,530.2 434,529.5 435,528.9 436.1,528.2 437.1,527.6 438.1,526.9 439.1,526.3 440.1,525.6 441.1,524.9 442.1,524.3 443.1,523.6 444.1,523 445.1,522.3 446.1,521.6 447.1,521 448.1,520.3 449.1,519.6 450.1,519 451.2,518.3 452.2,517.7 453.2,517 454.2,516.4 455.2,515.7 456.2,515.1 457.2,514.5 458.3,513.8 459.3,513.2 460.3,512.6 461.3,512 462.4,511.3 463.4,510.7 464.4,510.1 465.5,509.5 466.5,508.9 467.6,508.4 468.6,507.8 469.6,507.2 470.7,506.6 471.8,506 472.8,505.5 473.9,504.9 474.9,504.3 476,503.7 477,503.2 478.1,502.6 479.1,502 480.2,501.4 481.2,500.8 482.3,500.1 483.3,499.5 484.4,498.9 485.4,498.3 486.4,497.7 487.5,497.1 488.5,496.5 489.6,495.9 490.7,495.3 491.7,494.8 492.8,494.2 493.9,493.7 495,493.3 496.1,492.8 497.2,492.4 498.4,492 499.5,491.7 500.7,491.4 501.8,491.1 503,490.9 504.2,490.7 505.4,490.5 506.6,490.4 507.8,490.3 509,490.2 510.2,490.2 511.4,490.2 512.6,490.2 513.8,490.3 515,490.3 516.2,490.5 517.4,490.6 518.6,490.8 519.8,491 521,491.3 522.2,491.5 523.4,491.8 524.6,492.2 525.7,492.5 526.9,492.9 528,493.3 529.1,493.8 530.2,494.3 531.3,494.8 532.4,495.3 533.4,495.9 534.5,496.4 535.5,497.1 536.5,497.7 537.5,498.4 538.5,499 539.5,499.7 540.4,500.4 541.4,501.2 542.3,501.9 543.3,502.7 544.2,503.4 545.1,504.2 546,505 547,505.8 547.9,506.6 548.8,507.4 549.7,508.2 550.6,509.1 551.5,509.9 552.4,510.7 553.3,511.5 554.2,512.3 555.1,513.1 556,513.9 556.9,514.7 557.8,515.5 558.7,516.2 559.6,517 560.5,517.8 561.5,518.5 562.4,519.3 563.3,520.1 564.2,520.8 565.2,521.6 566.1,522.3 567,523.1 568,523.8 568.9,524.6 569.8,525.3 570.8,526.1 571.7,526.8 572.6,527.6 573.6,528.4 574.5,529.1 575.4,529.9 576.4,530.7 577.3,531.4 578.2,532.2 579.2,532.9 580.1,533.7 581.1,534.5 582,535.2 583,536 583.9,536.7 584.9,537.4 585.8,538.2 586.8,538.9 587.8,539.6 588.7,540.3 589.7,541 590.7,541.7 591.7,542.4 592.7,543 593.7,543.7 594.7,544.3 595.7,545 596.7,545.6 597.8,546.2 598.8,546.8 599.9,547.4 600.9,548 602,548.5 603,549.1 604.1,549.6 605.2,550.1 606.3,550.7 607.3,551.2 608.4,551.7 609.5,552.2 610.6,552.7 611.7,553.1 612.8,553.6 614,554.1 615.1,554.5 616.2,555 617.3,555.4 618.4,555.8 619.6,556.2 620.7,556.7 621.8,557.1 623,557.5 624.1,557.9 625.2,558.3 626.4,558.7 627.5,559 628.7,559.4 629.8,559.8 631,560.1 632.1,560.4 633.3,560.7 634.5,561 635.6,561.3 636.8,561.5 638,561.8 639.2,562 640.3,562.2 641.5,562.4 642.7,562.6 643.9,562.8 645.1,563 646.3,563.2 647.5,563.3 648.6,563.5 649.8,563.6 651,563.7 652.2,563.9 653.4,564 654.6,564.1 655.8,564.2 657,564.3 658.2,564.4 659.4,564.5 660.6,564.6 661.8,564.7 663,564.8 664.2,564.8 665.4,564.9 666.6,565 667.8,565.1 669,565.1 670.2,565.2 671.4,565.2 672.6,565.3 673.8,565.3 675,565.4 676.2,565.4 677.4,565.5 678.6,565.5 679.8,565.6 681,565.6 682.2,565.6 683.4,565.7 684.6,565.7 685.8,565.7 687,565.8 688.2,565.8 689.4,565.8 690.6,565.8 691.8,565.9 693,565.9 694.2,565.9 695.4,565.9 696.6,565.9 697.8,565.9 699,566 700.2,566 701.4,566 702.6,566 703.8,566 705.1,566 706.3,566.1 707.5,566.1 708.7,566.1 709.9,566.1 711.1,566.1 712.3,566.1 713.5,566.2 714.7,566.2 715.9,566.2 717.1,566.2 718.3,566.2 719.5,566.3 720.7,566.3 721.9,566.3 723.1,566.3 724.3,566.4 725.5,566.4 726.7,566.4 727.9,566.4 729.1,566.5 730.3,566.5 731.5,566.5 732.7,566.5 733.9,566.6 735.1,566.6 736.3,566.6 737.5,566.6 738.7,566.7 739.9,566.7 741.1,566.7 742.3,566.8 743.5,566.8 744.7,566.8 745.9,566.8 747.1,566.9 748.3,566.9 749.5,566.9 750.7,567 751.9,567 753.1,567 754.3,567 755.5,567.1 756.7,567.1 757.9,567.1 759.1,567.2 760.3,567.2 761.5,567.2 762.7,567.2 763.9,567.3 765.1,567.3 766.3,567.3 767.5,567.4 768.7,567.4 770,567.4 771.2,567.4 772.4,567.5 773.6,567.5 774.8,567.5 776,567.5 777.2,567.6 778.4,567.6 779.6,567.6 780.8,567.6 782,567.7 783.2,567.7 784.4,567.7 785.6,567.7 786.8,567.8 788,567.8 789.2,567.8 790.4,567.8 791.6,567.8 792.8,567.9 794,567.9 795.2,567.9 796.4,567.9 797.6,567.9 798.8,567.9 800,568" fill="none" stroke="#0000d8" stroke-width="2.6" stroke-linejoin="round" stroke-linecap="round" clip-path="url(#ca)"/>
<path d="M149.5,412 149.2,412.1 149.1,411.8 149.2,411.1 149.3,410.1 149.6,408.8 150,407.4 150.4,405.8 150.9,404.1 151.5,402.4 152.2,400.7 152.9,399.1 153.6,397.7 154.3,396.4 155.1,395.4 155.8,394.7 156.5,394.3 157.2,394.3 157.8,394.8 158.5,395.5 159,396.6 159.6,397.8 160.1,399.1 160.6,400.5 161,401.9 161.5,403.2 161.9,404.5 162.3,405.7 162.7,406.9 163.1,408.1 163.5,409.2 163.9,410.2 164.4,411.3 164.9,412.3 165.5,413.4 166.1,414.4 166.8,415.4 167.6,416.4 168.5,417.4 169.4,418.2 170.3,418.9 171.4,419.5 172.4,419.8 173.5,420 174.6,419.9 175.7,419.6 176.8,419.1 177.8,418.5 178.8,417.7 179.7,416.8 180.5,415.9 181.3,415 182.1,414 182.7,413 183.4,411.9 184,410.9 184.6,409.8 185.1,408.7 185.7,407.7 186.2,406.6 186.7,405.5 187.3,404.4 187.8,403.3 188.4,402.3 189,401.2 189.6,400.2 190.3,399.2 191,398.2 191.8,397.2 192.6,396.3 193.5,395.4 194.5,394.5 195.5,393.7 196.6,393.1 197.6,392.5 198.7,392.2 199.8,392.1 200.9,392.2 202,392.5 203,393.1 203.9,393.8 204.8,394.6 205.6,395.6 206.3,396.6 206.9,397.6 207.5,398.7 208,399.9 208.4,401 208.9,402.2 209.3,403.4 209.7,404.6 210.2,405.7 210.6,406.9 211,408 211.4,409.2 211.8,410.3 212.2,411.4 212.6,412.6 213,413.7 213.4,414.8 213.8,415.9 214.1,417 214.5,418.2 214.9,419.3 215.3,420.4 215.6,421.6 216,422.7 216.3,423.8 216.7,425 217,426.1 217.3,427.3 217.7,428.4 218,429.6 218.3,430.7 218.6,431.9 219,433.1 219.3,434.2 219.6,435.4 219.9,436.6 220.2,437.7 220.5,438.9 220.8,440.1 221.1,441.2 221.4,442.4 221.8,443.6 222.1,444.7 222.4,445.9 222.7,447.1 223,448.3 223.3,449.4 223.6,450.6 223.9,451.8 224.2,452.9 224.5,454.1 224.8,455.3 225.1,456.4 225.4,457.6 225.7,458.8 226,459.9 226.3,461.1 226.7,462.2 227,463.4 227.3,464.6 227.6,465.7 228,466.9 228.3,468 228.7,469.2 229,470.3 229.4,471.5 229.7,472.6 230.1,473.7 230.5,474.9 230.8,476 231.2,477.2 231.6,478.3 232,479.4 232.4,480.6 232.8,481.7 233.2,482.8 233.7,483.9 234.1,485 234.6,486.2 235,487.3 235.5,488.4 235.9,489.5 236.4,490.6 236.9,491.7 237.4,492.8 237.9,493.9 238.4,495 238.9,496.1 239.4,497.2 239.9,498.3 240.4,499.4 240.9,500.5 241.3,501.6 241.8,502.8 242.2,503.9 242.6,505 243,506.2 243.5,507.3 243.9,508.4 244.4,509.5 244.9,510.6 245.5,511.6 246.1,512.6 246.8,513.6 247.5,514.5 248.3,515.5 249.1,516.4 249.9,517.3 250.7,518.2 251.5,519.1 252.3,520 253.1,521 253.8,521.9 254.6,522.9 255.3,523.9 256,524.8 256.8,525.8 257.5,526.8 258.2,527.7 259,528.6 259.8,529.4 260.7,530.2 261.6,530.9 262.6,531.6 263.7,532.2 264.7,532.7 265.9,533.2 267,533.6 268.2,533.9 269.4,534.2 270.7,534.4 271.9,534.6 273.2,534.7 274.5,534.8 275.7,534.8 276.9,534.8 278.2,534.7 279.4,534.5 280.6,534.4 281.8,534.1 283,533.9 284.1,533.6 285.3,533.2 286.4,532.8 287.5,532.4 288.6,532 289.7,531.5 290.8,531 291.9,530.4 292.9,529.9 294,529.3 295,528.7 296,528 297,527.4 298,526.7 299,526 300,525.3 300.9,524.6 301.9,523.9 302.8,523.1 303.8,522.4 304.7,521.7 305.6,520.9 306.6,520.2 307.5,519.5 308.5,518.7 309.4,518 310.4,517.3 311.4,516.6 312.4,516 313.5,515.3 314.5,514.7 315.6,514.1 316.7,513.6 317.8,513.1 319,512.6 320.1,512.1 321.3,511.7 322.5,511.4 323.6,511 324.8,510.8 326,510.6 327.2,510.4 328.4,510.4 329.6,510.3 330.7,510.4 331.9,510.5 333,510.7 334.2,511 335.3,511.3 336.4,511.8 337.5,512.3 338.5,512.9 339.5,513.6 340.6,514.3 341.6,515 342.5,515.8 343.5,516.6 344.5,517.3 345.4,518.1 346.4,518.9 347.3,519.7 348.2,520.4 349.1,521.2 350,522 350.9,522.7 351.8,523.5 352.7,524.3 353.6,525.1 354.5,525.9 355.3,526.7 356.2,527.6 357.1,528.4 357.9,529.2 358.8,530.1 359.6,530.9 360.5,531.7 361.3,532.6 362.2,533.4 363.1,534.3 363.9,535.1 364.8,536 365.7,536.8 366.6,537.6 367.4,538.4 368.3,539.3 369.2,540.1 370.1,540.9 371.1,541.6 372,542.4 372.9,543.2 373.9,543.9 374.8,544.7 375.8,545.4 376.8,546.1 377.8,546.7 378.9,547.3 379.9,547.9 381,548.4 382.1,548.8 383.2,549.2 384.3,549.6 385.5,549.9 386.6,550.2 387.8,550.5 389,550.7 390.2,551 391.4,551.2 392.6,551.5 393.8,551.7 395,551.9 396.2,552.2 397.4,552.4 398.6,552.7 399.8,553 401,553.3 402.1,553.5 403.3,553.7 404.5,553.9 405.7,554.1 406.9,554.2 408.1,554.2 409.2,554.2 410.4,554.1 411.6,553.9 412.8,553.7 413.9,553.5 415.1,553.2 416.3,552.9 417.4,552.6 418.6,552.2 419.8,551.8 420.9,551.5 422.1,551.1 423.3,550.7 424.4,550.4 425.6,550 426.8,549.7 427.9,549.4 429.1,549.1 430.2,548.7 431.4,548.4 432.5,548.1 433.7,547.7 434.8,547.4 436,547 437.1,546.7 438.3,546.3 439.4,545.9 440.6,545.5 441.7,545.2 442.8,544.8 444,544.4 445.1,544 446.2,543.5 447.4,543.1 448.5,542.7 449.6,542.3 450.7,541.9 451.9,541.4 453,541 454.1,540.6 455.2,540.1 456.4,539.7 457.5,539.3 458.6,538.8 459.7,538.4 460.8,537.9 461.9,537.4 463,537 464.1,536.5 465.2,536 466.3,535.5 467.4,535 468.5,534.5 469.6,534 470.7,533.4 471.7,532.9 472.8,532.3 473.9,531.8 474.9,531.2 476,530.6 477,530 478.1,529.4 479.1,528.8 480.2,528.2 481.3,527.6 482.3,527.1 483.4,526.6 484.5,526.1 485.7,525.7 486.8,525.4 488,525.1 489.1,524.9 490.3,524.8 491.5,524.6 492.7,524.5 494,524.5 495.2,524.4 496.4,524.4 497.6,524.3 498.8,524.2 500,524.1 501.2,524 502.4,524 503.6,523.9 504.8,523.8 506,523.8 507.2,523.7 508.4,523.7 509.6,523.7 510.8,523.7 512,523.7 513.2,523.7 514.4,523.8 515.6,523.9 516.8,523.9 518,524.1 519.2,524.2 520.4,524.3 521.6,524.5 522.8,524.7 524,524.9 525.2,525.1 526.3,525.4 527.5,525.7 528.7,525.9 529.9,526.3 531,526.6 532.2,526.9 533.3,527.3 534.4,527.7 535.6,528.1 536.7,528.5 537.8,528.9 538.9,529.4 540,529.8 541.2,530.3 542.3,530.7 543.4,531.2 544.5,531.7 545.6,532.1 546.7,532.6 547.8,533.1 548.9,533.5 550,534 551.1,534.5 552.2,535 553.4,535.4 554.5,535.9 555.6,536.4 556.7,536.9 557.8,537.4 558.9,537.8 560,538.3 561.1,538.8 562.2,539.3 563.3,539.8 564.4,540.3 565.5,540.8 566.6,541.3 567.7,541.8 568.8,542.3 569.9,542.8 571,543.3 572,543.8 573.1,544.3 574.2,544.8 575.3,545.3 576.4,545.8 577.5,546.2 578.6,546.7 579.7,547.2 580.8,547.7 581.9,548.2 583,548.7 584.1,549.2 585.2,549.7 586.3,550.2 587.4,550.6 588.5,551.1 589.6,551.6 590.7,552.1 591.8,552.5 592.9,553 594,553.4 595.2,553.9 596.3,554.4 597.4,554.8 598.5,555.3 599.6,555.7 600.7,556.1 601.9,556.6 603,557 604.1,557.4 605.2,557.8 606.4,558.2 607.5,558.7 608.6,559.1 609.8,559.4 610.9,559.8 612.1,560.2 613.2,560.6 614.4,561 615.5,561.3 616.7,561.7 617.8,562 619,562.4 620.1,562.7 621.3,563 622.5,563.3 623.6,563.6 624.8,563.9 626,564.2 627.1,564.5 628.3,564.8 629.5,565 630.7,565.3 631.8,565.5 633,565.7 634.2,566 635.4,566.2 636.6,566.4 637.7,566.5 638.9,566.7 640.1,566.9 641.3,567 642.5,567.2 643.7,567.3 644.9,567.4 646.1,567.5 647.3,567.6 648.5,567.7 649.7,567.8 650.9,567.9 652.1,568 653.3,568 654.5,568.1 655.7,568.2 656.9,568.2 658.1,568.3 659.3,568.3 660.5,568.4 661.7,568.4 662.9,568.5 664.1,568.5 665.3,568.5 666.5,568.6 667.7,568.6 668.9,568.7 670.1,568.7 671.3,568.8 672.5,568.8 673.7,568.9 674.9,568.9 676.1,569 677.3,569 678.5,569 679.7,569.1 680.9,569.1 682.1,569.2 683.3,569.2 684.5,569.3 685.7,569.3 686.9,569.4 688.2,569.4 689.4,569.5 690.6,569.5 691.8,569.6 693,569.6 694.2,569.7 695.4,569.7 696.6,569.8 697.8,569.8 699,569.8 700.2,569.9 701.4,569.9 702.6,570 703.8,570 705,570.1 706.2,570.1 707.4,570.1 708.6,570.2 709.8,570.2 711,570.3 712.2,570.3 713.4,570.3 714.6,570.4 715.8,570.4 717,570.5 718.2,570.5 719.4,570.5 720.6,570.6 721.8,570.6 723,570.6 724.2,570.7 725.4,570.7 726.6,570.7 727.8,570.8 729,570.8 730.2,570.8 731.4,570.8 732.6,570.9 733.8,570.9 735,570.9 736.2,571 737.5,571 738.7,571 739.9,571 741.1,571.1 742.3,571.1 743.5,571.1 744.7,571.2 745.9,571.2 747.1,571.2 748.3,571.2 749.5,571.3 750.7,571.3 751.9,571.3 753.1,571.3 754.3,571.4 755.5,571.4 756.7,571.4 757.9,571.4 759.1,571.5 760.3,571.5 761.5,571.5 762.7,571.6 763.9,571.6 765.1,571.6 766.3,571.6 767.5,571.7 768.7,571.7 769.9,571.7 771.1,571.7 772.3,571.8 773.5,571.8 774.7,571.8 775.9,571.9 777.1,571.9 778.4,571.9 779.6,571.9 780.8,572 782,572 783.2,572 784.4,572.1 785.6,572.1 786.8,572.1 788,572.2 789.2,572.2 790.4,572.2 791.6,572.3 792.8,572.3 794,572.3 795.2,572.4 796.4,572.4 797.6,572.5 798.8,572.5 800,572.5" fill="none" stroke="#22e6e6" stroke-width="2.6" stroke-linejoin="round" stroke-linecap="round" clip-path="url(#ca)"/>
<path d="M149.5,414 149.3,414.4 149.2,414.3 149.2,413.8 149.3,413 149.6,411.8 149.9,410.4 150.3,408.9 150.7,407.1 151.2,405.3 151.8,403.5 152.4,401.7 153,400 153.7,398.4 154.3,396.9 155,395.8 155.7,394.9 156.3,394.4 156.9,394.3 157.5,394.6 158.1,395.3 158.7,396.2 159.2,397.4 159.7,398.8 160.2,400.2 160.6,401.7 161.1,403.1 161.5,404.5 161.9,405.8 162.3,407 162.8,408.1 163.2,409.2 163.6,410.2 164,411.3 164.5,412.3 164.9,413.3 165.4,414.4 165.9,415.5 166.5,416.6 167,417.7 167.7,418.8 168.4,419.9 169.2,420.8 170.1,421.6 171,422.3 172.1,422.7 173.2,423 174.4,422.9 175.4,422.6 176.5,422.1 177.4,421.4 178.3,420.5 179.2,419.5 180,418.5 180.7,417.5 181.4,416.4 182,415.3 182.6,414.3 183.2,413.2 183.7,412.1 184.2,411.1 184.7,410 185.2,408.9 185.7,407.8 186.2,406.8 186.7,405.7 187.2,404.6 187.7,403.6 188.2,402.5 188.8,401.5 189.4,400.5 190.1,399.5 190.8,398.5 191.6,397.5 192.4,396.5 193.3,395.5 194.3,394.6 195.3,393.8 196.4,393 197.4,392.5 198.6,392.1 199.7,391.9 200.8,392 201.9,392.4 202.9,393 203.9,393.7 204.8,394.6 205.5,395.6 206.2,396.6 206.9,397.6 207.4,398.7 207.9,399.8 208.3,400.9 208.8,402.1 209.2,403.2 209.6,404.4 210,405.5 210.4,406.7 210.8,407.8 211.2,409 211.6,410.1 212,411.2 212.5,412.3 212.9,413.5 213.3,414.6 213.8,415.7 214.2,416.8 214.6,418 215,419.1 215.5,420.2 215.9,421.3 216.3,422.4 216.8,423.6 217.2,424.7 217.6,425.8 218,426.9 218.4,428.1 218.8,429.2 219.2,430.3 219.6,431.4 220,432.6 220.4,433.7 220.8,434.9 221.1,436 221.5,437.1 221.9,438.3 222.2,439.4 222.6,440.6 222.9,441.7 223.3,442.9 223.6,444.1 223.9,445.2 224.3,446.4 224.6,447.5 224.9,448.7 225.3,449.8 225.6,451 225.9,452.2 226.3,453.3 226.6,454.5 226.9,455.6 227.3,456.8 227.6,458 228,459.1 228.3,460.3 228.7,461.4 229,462.6 229.4,463.7 229.7,464.9 230.1,466 230.5,467.2 230.9,468.3 231.2,469.4 231.6,470.6 232,471.7 232.4,472.8 232.8,474 233.2,475.1 233.6,476.2 234.1,477.4 234.5,478.5 234.9,479.6 235.3,480.7 235.7,481.9 236.1,483 236.6,484.1 237,485.3 237.4,486.4 237.8,487.5 238.2,488.6 238.6,489.8 239.1,490.9 239.5,492 239.9,493.2 240.3,494.3 240.7,495.4 241.1,496.6 241.5,497.7 241.9,498.8 242.4,500 242.8,501.1 243.2,502.2 243.6,503.4 244,504.5 244.4,505.6 244.8,506.8 245.2,507.9 245.6,509 246,510.2 246.4,511.3 246.8,512.4 247.2,513.5 247.6,514.7 248,515.8 248.4,516.9 248.8,518 249.3,519.2 249.7,520.3 250.2,521.4 250.7,522.5 251.2,523.6 251.8,524.7 252.3,525.8 252.9,526.9 253.6,528 254.2,529 254.9,530.1 255.6,531 256.3,532 257.1,532.9 258,533.8 258.8,534.6 259.7,535.4 260.7,536.1 261.7,536.8 262.7,537.4 263.8,538 264.9,538.4 266,538.9 267.2,539.2 268.4,539.5 269.6,539.8 270.8,539.9 272,540 273.3,540.1 274.5,540.1 275.7,540 276.9,539.8 278.1,539.6 279.3,539.3 280.4,538.9 281.5,538.4 282.6,537.9 283.6,537.3 284.6,536.6 285.6,535.9 286.5,535.2 287.4,534.4 288.3,533.6 289.2,532.7 290.1,531.9 291,531 291.9,530.2 292.8,529.4 293.7,528.6 294.6,527.8 295.5,527 296.4,526.3 297.4,525.5 298.3,524.8 299.2,524.1 300.2,523.4 301.2,522.7 302.2,522 303.2,521.3 304.2,520.7 305.2,520 306.2,519.4 307.3,518.7 308.3,518.1 309.4,517.5 310.5,516.8 311.6,516.3 312.7,515.7 313.8,515.1 315,514.6 316.1,514.1 317.3,513.7 318.4,513.3 319.6,513 320.8,512.7 321.9,512.5 323.1,512.3 324.3,512.3 325.5,512.3 326.6,512.3 327.8,512.4 329,512.6 330.1,512.8 331.3,513.1 332.4,513.5 333.6,513.9 334.7,514.3 335.8,514.8 336.9,515.3 337.9,515.9 339,516.5 340,517.2 341,517.9 342,518.6 343,519.4 343.9,520.1 344.8,520.9 345.7,521.8 346.6,522.6 347.4,523.5 348.2,524.3 349,525.2 349.8,526.1 350.6,527 351.4,527.9 352.2,528.8 353,529.7 353.8,530.6 354.6,531.5 355.4,532.4 356.3,533.3 357.1,534.2 358,535 358.8,535.9 359.7,536.7 360.6,537.5 361.5,538.4 362.4,539.2 363.3,539.9 364.2,540.7 365.1,541.5 366.1,542.2 367,543 368,543.7 369,544.4 370,545 371,545.7 372,546.3 373,546.9 374,547.6 375,548.2 376.1,548.8 377.1,549.4 378.2,550 379.2,550.6 380.2,551.2 381.3,551.8 382.3,552.5 383.3,553.1 384.4,553.7 385.4,554.3 386.5,554.9 387.6,555.4 388.7,555.9 389.8,556.4 390.9,556.8 392,557.1 393.2,557.5 394.4,557.8 395.5,558 396.7,558.3 397.9,558.6 399.1,558.8 400.2,559.1 401.4,559.4 402.6,559.7 403.8,560 404.9,560.3 406.1,560.6 407.3,560.8 408.5,561.1 409.6,561.3 410.8,561.4 412,561.5 413.2,561.6 414.4,561.6 415.6,561.6 416.7,561.5 417.9,561.4 419.1,561.3 420.3,561.2 421.5,561 422.7,560.8 423.9,560.6 425.1,560.4 426.3,560.1 427.5,559.9 428.7,559.7 429.9,559.5 431.1,559.2 432.3,559 433.5,558.8 434.7,558.6 435.9,558.4 437.1,558.3 438.3,558.1 439.4,557.9 440.6,557.8 441.8,557.6 443,557.4 444.2,557.3 445.3,557.1 446.5,556.9 447.7,556.7 448.9,556.5 450.1,556.2 451.3,556 452.4,555.8 453.6,555.6 454.8,555.3 456,555.1 457.2,554.8 458.4,554.6 459.5,554.3 460.7,554 461.9,553.7 463.1,553.5 464.2,553.2 465.4,552.9 466.6,552.6 467.7,552.3 468.9,552 470.1,551.7 471.2,551.4 472.4,551.1 473.6,550.8 474.7,550.6 475.9,550.3 477.1,550 478.2,549.7 479.4,549.4 480.6,549.2 481.7,548.9 482.9,548.7 484.1,548.4 485.3,548.2 486.5,548 487.6,547.8 488.8,547.6 490,547.4 491.2,547.3 492.4,547.1 493.6,547 494.8,546.9 496,546.8 497.2,546.7 498.4,546.6 499.6,546.5 500.8,546.5 502,546.4 503.2,546.4 504.4,546.4 505.6,546.4 506.8,546.5 508,546.5 509.2,546.6 510.4,546.6 511.6,546.7 512.8,546.8 514,547 515.2,547.1 516.4,547.2 517.6,547.4 518.8,547.5 520,547.7 521.2,547.9 522.4,548 523.6,548.2 524.7,548.4 525.9,548.5 527.1,548.7 528.3,548.9 529.5,549 530.7,549.2 531.9,549.4 533.1,549.6 534.3,549.8 535.4,550 536.6,550.2 537.8,550.5 539,550.7 540.2,551 541.3,551.2 542.5,551.5 543.7,551.8 544.8,552.1 546,552.3 547.2,552.6 548.3,553 549.5,553.3 550.6,553.6 551.8,553.9 553,554.2 554.1,554.6 555.3,554.9 556.4,555.3 557.6,555.6 558.7,556 559.9,556.3 561,556.7 562.2,557 563.3,557.4 564.5,557.7 565.6,558.1 566.8,558.4 568,558.8 569.1,559.1 570.3,559.5 571.4,559.8 572.6,560.2 573.7,560.5 574.9,560.9 576,561.2 577.2,561.5 578.4,561.8 579.5,562.2 580.7,562.5 581.8,562.8 583,563.1 584.2,563.3 585.4,563.6 586.5,563.9 587.7,564.1 588.9,564.4 590,564.6 591.2,564.8 592.4,565.1 593.6,565.3 594.8,565.5 596,565.6 597.2,565.8 598.3,566 599.5,566.1 600.7,566.3 601.9,566.5 603.1,566.6 604.3,566.8 605.5,566.9 606.7,567.1 607.9,567.2 609.1,567.4 610.3,567.5 611.5,567.7 612.7,567.8 613.9,568 615.1,568.1 616.2,568.3 617.4,568.5 618.6,568.6 619.8,568.8 621,569 622.2,569.1 623.4,569.3 624.6,569.5 625.8,569.6 627,569.8 628.2,570 629.4,570.1 630.6,570.3 631.7,570.5 632.9,570.6 634.1,570.8 635.3,571 636.5,571.1 637.7,571.3 638.9,571.4 640.1,571.6 641.3,571.7 642.5,571.8 643.7,572 644.9,572.1 646.1,572.2 647.3,572.3 648.5,572.5 649.7,572.6 650.9,572.7 652.1,572.8 653.3,572.9 654.5,573 655.7,573.1 656.9,573.2 658.1,573.2 659.3,573.3 660.5,573.4 661.7,573.5 662.9,573.5 664.1,573.6 665.3,573.7 666.5,573.8 667.7,573.8 668.9,573.9 670.1,573.9 671.3,574 672.5,574.1 673.7,574.1 674.9,574.2 676.1,574.2 677.3,574.3 678.5,574.3 679.7,574.4 680.9,574.4 682.1,574.4 683.3,574.5 684.5,574.5 685.7,574.6 686.9,574.6 688.1,574.6 689.3,574.7 690.5,574.7 691.7,574.7 692.9,574.8 694.1,574.8 695.3,574.8 696.5,574.8 697.7,574.9 698.9,574.9 700.1,574.9 701.3,575 702.5,575 703.7,575 704.9,575 706.1,575 707.4,575.1 708.6,575.1 709.8,575.1 711,575.1 712.2,575.2 713.4,575.2 714.6,575.2 715.8,575.2 717,575.2 718.2,575.3 719.4,575.3 720.6,575.3 721.8,575.3 723,575.3 724.2,575.4 725.4,575.4 726.6,575.4 727.8,575.4 729,575.4 730.2,575.5 731.4,575.5 732.6,575.5 733.8,575.5 735,575.5 736.2,575.6 737.4,575.6 738.6,575.6 739.8,575.6 741,575.6 742.2,575.6 743.4,575.7 744.7,575.7 745.9,575.7 747.1,575.7 748.3,575.7 749.5,575.8 750.7,575.8 751.9,575.8 753.1,575.8 754.3,575.8 755.5,575.8 756.7,575.9 757.9,575.9 759.1,575.9 760.3,575.9 761.5,575.9 762.7,575.9 763.9,576 765.1,576 766.3,576 767.5,576 768.7,576 769.9,576 771.1,576.1 772.3,576.1 773.5,576.1 774.7,576.1 775.9,576.1 777.1,576.2 778.3,576.2 779.5,576.2 780.7,576.2 782,576.2 783.2,576.2 784.4,576.3 785.6,576.3 786.8,576.3 788,576.3 789.2,576.3 790.4,576.4 791.6,576.4 792.8,576.4 794,576.4 795.2,576.4 796.4,576.4 797.6,576.5 798.8,576.5 800,576.5" fill="none" stroke="#ee1aee" stroke-width="2.6" stroke-linejoin="round" stroke-linecap="round" clip-path="url(#ca)"/>
<path d="M149.5,416 149.2,416.5 149,416.5 148.9,416.2 148.9,415.5 149.1,414.4 149.3,413.2 149.6,411.7 149.9,410 150.4,408.2 150.9,406.4 151.4,404.5 152,402.7 152.6,400.9 153.3,399.3 153.9,397.8 154.6,396.5 155.2,395.5 155.9,394.8 156.5,394.5 157.2,394.5 157.8,394.9 158.3,395.7 158.9,396.7 159.4,397.9 159.9,399.2 160.4,400.7 160.8,402.1 161.2,403.5 161.6,404.8 162,406.1 162.4,407.3 162.8,408.4 163.2,409.5 163.7,410.6 164.1,411.7 164.6,412.8 165.1,413.8 165.7,414.9 166.4,415.9 167.1,417 167.8,418 168.7,418.9 169.5,419.7 170.5,420.3 171.5,420.8 172.6,421 173.7,421 174.8,420.8 175.9,420.4 176.9,419.8 177.9,419.1 178.9,418.2 179.8,417.3 180.6,416.3 181.3,415.3 182,414.3 182.7,413.3 183.2,412.2 183.8,411.1 184.3,410.1 184.7,409 185.2,407.9 185.6,406.8 186,405.6 186.4,404.5 186.9,403.4 187.3,402.3 187.7,401.2 188.2,400.1 188.7,399 189.2,397.9 189.8,396.8 190.4,395.8 191.1,394.7 191.9,393.7 192.7,392.7 193.6,391.7 194.6,390.7 195.6,389.9 196.6,389.1 197.7,388.5 198.8,388 199.8,387.8 200.9,387.8 201.9,388 202.8,388.5 203.7,389.2 204.5,390 205.4,391 206.1,392 206.8,393.1 207.5,394.3 208.2,395.4 208.8,396.5 209.3,397.6 209.9,398.7 210.4,399.8 210.9,401 211.3,402.1 211.8,403.2 212.2,404.3 212.6,405.4 213,406.5 213.4,407.7 213.8,408.8 214.1,409.9 214.5,411.1 214.8,412.2 215.2,413.4 215.5,414.5 215.8,415.7 216.1,416.8 216.5,418 216.8,419.1 217.1,420.3 217.4,421.4 217.7,422.6 218,423.8 218.2,424.9 218.5,426.1 218.8,427.3 219.1,428.5 219.4,429.6 219.7,430.8 220,432 220.2,433.1 220.5,434.3 220.8,435.5 221.1,436.6 221.4,437.8 221.7,439 222,440.1 222.3,441.3 222.7,442.5 223,443.6 223.3,444.8 223.6,445.9 223.9,447.1 224.3,448.3 224.6,449.4 224.9,450.6 225.2,451.7 225.6,452.9 225.9,454 226.3,455.2 226.6,456.3 227,457.5 227.3,458.6 227.7,459.8 228,460.9 228.4,462.1 228.8,463.2 229.1,464.4 229.5,465.5 229.9,466.7 230.2,467.8 230.6,468.9 231,470.1 231.4,471.2 231.8,472.4 232.1,473.5 232.5,474.6 232.9,475.8 233.3,476.9 233.7,478 234.1,479.2 234.5,480.3 234.9,481.4 235.3,482.6 235.7,483.7 236.2,484.8 236.6,485.9 237,487.1 237.4,488.2 237.8,489.3 238.3,490.4 238.7,491.5 239.1,492.7 239.5,493.8 240,494.9 240.4,496 240.9,497.1 241.3,498.2 241.8,499.4 242.2,500.5 242.7,501.6 243.1,502.7 243.6,503.8 244.1,504.9 244.5,506 245,507.1 245.5,508.3 246,509.4 246.5,510.5 247,511.6 247.4,512.7 247.9,513.8 248.4,514.9 249,516 249.5,517.1 250,518.2 250.5,519.3 251,520.4 251.5,521.5 252.1,522.6 252.6,523.7 253.2,524.8 253.8,525.8 254.4,526.9 255,527.9 255.6,528.9 256.3,529.9 257,530.8 257.8,531.7 258.6,532.5 259.5,533.3 260.4,534.1 261.4,534.8 262.4,535.4 263.5,536 264.6,536.6 265.7,537 266.9,537.5 268.1,537.8 269.4,538.1 270.6,538.3 271.8,538.5 273.1,538.6 274.3,538.7 275.5,538.7 276.7,538.6 277.9,538.5 279.1,538.3 280.2,538 281.3,537.7 282.4,537.2 283.5,536.7 284.5,536.2 285.6,535.5 286.6,534.9 287.5,534.2 288.5,533.4 289.5,532.7 290.4,531.9 291.4,531.1 292.3,530.3 293.3,529.5 294.2,528.8 295.1,528 296.1,527.2 297,526.5 298,525.7 298.9,525 299.9,524.3 300.8,523.6 301.8,522.9 302.8,522.2 303.7,521.5 304.7,520.8 305.7,520.2 306.8,519.5 307.8,518.9 308.8,518.3 309.9,517.7 310.9,517.1 312,516.5 313.1,516 314.2,515.5 315.4,515 316.5,514.6 317.6,514.2 318.8,513.9 320,513.6 321.1,513.3 322.3,513.1 323.5,512.9 324.7,512.8 326,512.8 327.2,512.8 328.4,512.9 329.6,513.1 330.8,513.3 332,513.6 333.1,513.9 334.2,514.4 335.3,514.9 336.4,515.4 337.4,516 338.4,516.7 339.4,517.4 340.4,518.1 341.3,518.9 342.2,519.7 343.1,520.6 344,521.4 344.9,522.3 345.7,523.2 346.5,524 347.3,524.9 348.1,525.8 348.9,526.7 349.8,527.6 350.6,528.5 351.4,529.4 352.2,530.3 353,531.1 353.9,531.9 354.7,532.8 355.6,533.6 356.5,534.3 357.4,535.1 358.3,535.9 359.2,536.7 360.1,537.5 361.1,538.3 362,539.1 362.9,539.9 363.8,540.7 364.7,541.5 365.6,542.4 366.5,543.2 367.4,543.9 368.4,544.7 369.3,545.4 370.3,546.1 371.3,546.8 372.3,547.4 373.3,548 374.4,548.5 375.5,549.1 376.5,549.6 377.6,550 378.7,550.5 379.8,550.9 381,551.4 382.1,551.8 383.2,552.2 384.3,552.6 385.5,553 386.6,553.4 387.8,553.8 388.9,554.3 390,554.7 391.2,555.1 392.3,555.6 393.4,556 394.6,556.5 395.7,557 396.8,557.4 397.9,557.9 399.1,558.4 400.2,558.8 401.3,559.2 402.4,559.7 403.6,560.1 404.7,560.4 405.8,560.8 407,561.1 408.1,561.4 409.3,561.6 410.4,561.8 411.6,562 412.8,562.1 414,562.2 415.2,562.3 416.4,562.3 417.6,562.3 418.8,562.3 420,562.2 421.2,562.2 422.4,562.1 423.6,562 424.9,562 426.1,561.9 427.3,561.9 428.5,561.8 429.7,561.8 430.9,561.8 432.1,561.7 433.3,561.7 434.5,561.7 435.7,561.7 436.9,561.6 438.1,561.6 439.3,561.5 440.5,561.5 441.7,561.4 442.9,561.3 444.1,561.2 445.3,561.1 446.5,561 447.7,560.9 448.9,560.8 450.1,560.7 451.3,560.6 452.5,560.5 453.7,560.4 454.9,560.3 456.1,560.2 457.3,560.1 458.5,560 459.7,559.9 460.9,559.8 462.1,559.7 463.3,559.6 464.5,559.5 465.7,559.5 466.9,559.4 468.1,559.3 469.3,559.2 470.5,559.1 471.7,559 472.8,558.9 474,558.8 475.2,558.7 476.4,558.6 477.6,558.5 478.8,558.3 480,558.2 481.2,558.1 482.4,558 483.6,557.8 484.8,557.7 486,557.6 487.2,557.4 488.4,557.3 489.6,557.2 490.8,557.1 492,557 493.2,556.9 494.4,556.7 495.6,556.6 496.8,556.6 498,556.5 499.2,556.4 500.4,556.3 501.6,556.3 502.8,556.2 504,556.2 505.2,556.2 506.4,556.1 507.6,556.1 508.8,556.1 510,556.1 511.2,556.1 512.4,556.1 513.6,556.1 514.8,556.1 516,556.2 517.2,556.2 518.4,556.3 519.6,556.3 520.8,556.4 522,556.4 523.2,556.5 524.4,556.6 525.6,556.7 526.8,556.8 528,556.9 529.2,557 530.4,557.1 531.6,557.2 532.8,557.3 534,557.4 535.2,557.6 536.4,557.7 537.6,557.8 538.7,558 539.9,558.1 541.1,558.3 542.3,558.4 543.5,558.6 544.7,558.7 545.9,558.9 547.1,559 548.3,559.2 549.5,559.4 550.7,559.5 551.8,559.7 553,559.9 554.2,560.1 555.4,560.3 556.6,560.4 557.8,560.6 559,560.8 560.2,561 561.4,561.2 562.6,561.4 563.7,561.5 564.9,561.7 566.1,561.9 567.3,562.1 568.5,562.3 569.7,562.5 570.9,562.6 572.1,562.8 573.3,563 574.4,563.2 575.6,563.4 576.8,563.6 578,563.7 579.2,563.9 580.4,564.1 581.6,564.2 582.8,564.4 584,564.6 585.2,564.7 586.4,564.9 587.5,565.1 588.7,565.2 589.9,565.4 591.1,565.5 592.3,565.7 593.5,565.8 594.7,566 595.9,566.1 597.1,566.3 598.3,566.4 599.5,566.6 600.7,566.7 601.9,566.8 603.1,567 604.3,567.1 605.5,567.2 606.6,567.4 607.8,567.5 609,567.6 610.2,567.7 611.4,567.8 612.6,568 613.8,568.1 615,568.2 616.2,568.3 617.4,568.4 618.6,568.5 619.8,568.6 621,568.7 622.2,568.8 623.4,568.9 624.6,569 625.8,569.1 627,569.2 628.2,569.3 629.4,569.4 630.6,569.5 631.8,569.6 633,569.7 634.2,569.8 635.4,569.8 636.6,569.9 637.8,570 639,570.1 640.2,570.2 641.4,570.2 642.6,570.3 643.8,570.4 645,570.4 646.2,570.5 647.4,570.6 648.6,570.6 649.8,570.7 651,570.8 652.2,570.8 653.4,570.9 654.6,571 655.8,571 657,571.1 658.2,571.1 659.4,571.2 660.6,571.2 661.8,571.3 663,571.3 664.2,571.4 665.4,571.4 666.6,571.5 667.8,571.5 669,571.6 670.2,571.6 671.4,571.7 672.6,571.7 673.8,571.8 675,571.8 676.2,571.9 677.4,571.9 678.6,571.9 679.8,572 681,572 682.2,572.1 683.4,572.1 684.6,572.1 685.8,572.2 687,572.2 688.2,572.2 689.4,572.3 690.6,572.3 691.8,572.3 693,572.4 694.2,572.4 695.4,572.4 696.6,572.5 697.8,572.5 699,572.5 700.2,572.6 701.4,572.6 702.6,572.6 703.9,572.7 705.1,572.7 706.3,572.7 707.5,572.8 708.7,572.8 709.9,572.8 711.1,572.9 712.3,572.9 713.5,572.9 714.7,573 715.9,573 717.1,573 718.3,573.1 719.5,573.1 720.7,573.1 721.9,573.2 723.1,573.2 724.3,573.2 725.5,573.3 726.7,573.3 727.9,573.3 729.1,573.4 730.3,573.4 731.5,573.5 732.7,573.5 733.9,573.5 735.1,573.6 736.3,573.6 737.5,573.6 738.7,573.7 739.9,573.7 741.1,573.7 742.3,573.8 743.5,573.8 744.7,573.8 745.9,573.9 747.1,573.9 748.3,574 749.5,574 750.7,574 751.9,574.1 753.1,574.1 754.3,574.1 755.5,574.2 756.7,574.2 757.9,574.2 759.1,574.3 760.3,574.3 761.5,574.4 762.7,574.4 763.9,574.4 765.1,574.5 766.3,574.5 767.5,574.5 768.7,574.6 769.9,574.6 771.2,574.7 772.4,574.7 773.6,574.7 774.8,574.8 776,574.8 777.2,574.8 778.4,574.9 779.6,574.9 780.8,574.9 782,575 783.2,575 784.4,575 785.6,575.1 786.8,575.1 788,575.2 789.2,575.2 790.4,575.2 791.6,575.3 792.8,575.3 794,575.3 795.2,575.4 796.4,575.4 797.6,575.4 798.8,575.5 800,575.5" fill="none" stroke="#f4f41a" stroke-width="2.6" stroke-linejoin="round" stroke-linecap="round" clip-path="url(#ca)"/>
<path d="M149.5,417 149.1,417.6 148.9,417.8 148.7,417.6 148.7,416.9 148.8,416 149,414.8 149.2,413.3 149.6,411.7 150,410 150.4,408.1 150.9,406.2 151.5,404.3 152.1,402.4 152.7,400.6 153.4,399 154,397.5 154.7,396.3 155.4,395.3 156,394.7 156.7,394.4 157.3,394.5 157.9,395 158.4,395.8 159,396.9 159.5,398.1 160,399.5 160.4,400.9 160.9,402.3 161.3,403.7 161.7,405 162.1,406.3 162.5,407.5 162.9,408.6 163.3,409.7 163.8,410.8 164.3,411.9 164.8,412.9 165.3,414 165.9,415 166.6,416.1 167.3,417.2 168.1,418.1 169,419 169.9,419.7 170.8,420.2 171.9,420.5 172.9,420.6 174,420.5 175.2,420.2 176.3,419.7 177.3,419.1 178.4,418.4 179.4,417.6 180.3,416.7 181.1,415.8 181.8,414.8 182.5,413.8 183.1,412.7 183.6,411.7 184.1,410.5 184.6,409.4 185,408.3 185.4,407.1 185.8,406 186.2,404.8 186.6,403.7 187.1,402.6 187.5,401.5 188,400.4 188.5,399.3 189,398.3 189.6,397.2 190.2,396.2 190.9,395.1 191.6,394.1 192.4,393.1 193.3,392.1 194.2,391.1 195.2,390.2 196.2,389.4 197.2,388.7 198.3,388.2 199.4,387.8 200.4,387.7 201.4,387.9 202.4,388.3 203.4,388.9 204.3,389.6 205.2,390.6 206,391.6 206.7,392.7 207.5,393.8 208.1,394.9 208.7,396.1 209.2,397.2 209.7,398.3 210.2,399.4 210.6,400.6 211,401.7 211.4,402.8 211.8,403.9 212.2,405 212.5,406.2 212.9,407.3 213.3,408.4 213.7,409.5 214,410.7 214.4,411.8 214.8,412.9 215.2,414.1 215.5,415.2 215.9,416.4 216.3,417.5 216.6,418.7 217,419.8 217.4,421 217.7,422.1 218,423.3 218.4,424.4 218.7,425.6 219,426.8 219.3,427.9 219.6,429.1 219.8,430.3 220.1,431.4 220.4,432.6 220.7,433.8 220.9,435 221.2,436.1 221.4,437.3 221.7,438.5 222,439.7 222.2,440.8 222.5,442 222.8,443.2 223.1,444.4 223.3,445.5 223.6,446.7 223.9,447.8 224.2,449 224.6,450.2 224.9,451.3 225.2,452.5 225.5,453.6 225.9,454.8 226.2,455.9 226.6,457.1 226.9,458.2 227.3,459.4 227.7,460.5 228.1,461.7 228.4,462.8 228.8,463.9 229.2,465.1 229.6,466.2 230,467.3 230.4,468.5 230.8,469.6 231.2,470.7 231.6,471.9 232,473 232.5,474.1 232.9,475.3 233.3,476.4 233.7,477.5 234.1,478.6 234.6,479.8 235,480.9 235.4,482 235.9,483.1 236.3,484.3 236.7,485.4 237.2,486.5 237.6,487.6 238,488.7 238.4,489.9 238.9,491 239.3,492.1 239.7,493.2 240.2,494.3 240.6,495.5 241,496.6 241.4,497.7 241.8,498.8 242.3,500 242.7,501.1 243.1,502.2 243.5,503.3 243.9,504.4 244.4,505.6 244.8,506.7 245.2,507.8 245.7,508.9 246.1,510 246.6,511.1 247,512.3 247.5,513.4 248,514.5 248.4,515.6 248.9,516.7 249.4,517.8 249.9,518.9 250.4,520 251,521.1 251.5,522.2 252.1,523.3 252.6,524.4 253.2,525.5 253.8,526.5 254.4,527.6 255.1,528.6 255.8,529.6 256.5,530.5 257.3,531.5 258.1,532.3 258.9,533.2 259.8,534 260.7,534.7 261.7,535.4 262.7,536.1 263.8,536.6 264.9,537.2 266,537.6 267.1,538 268.3,538.4 269.5,538.6 270.7,538.9 272,539 273.2,539.1 274.4,539.1 275.6,539.1 276.9,539 278.1,538.8 279.2,538.5 280.4,538.2 281.5,537.8 282.6,537.4 283.7,536.8 284.7,536.2 285.7,535.6 286.7,534.9 287.7,534.2 288.7,533.5 289.6,532.7 290.5,531.9 291.5,531.1 292.4,530.3 293.3,529.6 294.3,528.8 295.2,528 296.2,527.3 297.1,526.6 298.1,525.8 299,525.1 300,524.4 300.9,523.7 301.9,523 302.9,522.3 303.9,521.6 304.9,521 305.9,520.3 306.9,519.6 307.9,519 309,518.4 310,517.7 311.1,517.1 312.2,516.6 313.2,516 314.3,515.5 315.4,515 316.6,514.5 317.7,514.1 318.9,513.8 320,513.5 321.2,513.2 322.4,513 323.6,512.9 324.8,512.8 326.1,512.8 327.3,512.9 328.5,513 329.7,513.2 330.9,513.5 332.1,513.8 333.2,514.2 334.3,514.6 335.4,515.1 336.5,515.7 337.5,516.3 338.5,516.9 339.4,517.6 340.4,518.3 341.3,519 342.2,519.8 343.1,520.6 343.9,521.5 344.8,522.3 345.6,523.2 346.5,524.1 347.3,525 348.1,525.9 348.9,526.8 349.7,527.8 350.6,528.7 351.4,529.6 352.2,530.5 353,531.4 353.9,532.3 354.7,533.1 355.5,534 356.4,534.8 357.3,535.6 358.2,536.4 359.1,537.2 359.9,538 360.9,538.8 361.8,539.5 362.7,540.3 363.6,541 364.5,541.8 365.5,542.5 366.4,543.2 367.4,544 368.4,544.7 369.3,545.4 370.3,546.1 371.3,546.8 372.3,547.5 373.3,548.1 374.3,548.8 375.3,549.4 376.4,550 377.4,550.7 378.4,551.3 379.5,551.8 380.5,552.4 381.6,553 382.7,553.5 383.8,554 384.8,554.6 385.9,555.1 387,555.6 388.1,556 389.2,556.5 390.4,557 391.5,557.4 392.6,557.9 393.7,558.3 394.9,558.7 396,559.1 397.1,559.5 398.3,559.9 399.4,560.3 400.5,560.7 401.7,561.1 402.8,561.5 404,561.9 405.1,562.2 406.3,562.6 407.4,562.9 408.6,563.2 409.7,563.4 410.9,563.6 412.1,563.8 413.2,564 414.4,564.1 415.6,564.2 416.8,564.2 418,564.2 419.2,564.2 420.4,564.2 421.6,564.2 422.8,564.2 424.1,564.2 425.3,564.1 426.5,564.1 427.7,564.1 428.9,564.1 430.1,564 431.3,564 432.5,564 433.7,564 434.9,563.9 436.1,563.9 437.3,563.9 438.5,563.9 439.7,563.8 440.9,563.8 442.1,563.8 443.3,563.7 444.5,563.7 445.7,563.7 446.9,563.6 448.1,563.6 449.3,563.6 450.5,563.5 451.7,563.5 452.9,563.5 454.1,563.4 455.3,563.4 456.5,563.4 457.7,563.3 458.9,563.3 460.1,563.3 461.3,563.2 462.5,563.2 463.7,563.2 464.9,563.2 466.1,563.1 467.3,563.1 468.5,563.1 469.7,563 470.9,563 472.1,563 473.3,562.9 474.5,562.9 475.8,562.9 477,562.9 478.2,562.8 479.4,562.8 480.6,562.8 481.8,562.8 483,562.8 484.2,562.7 485.4,562.7 486.6,562.7 487.8,562.7 489,562.7 490.2,562.7 491.4,562.6 492.6,562.6 493.8,562.6 495,562.6 496.2,562.6 497.4,562.6 498.6,562.6 499.8,562.6 501,562.6 502.2,562.6 503.4,562.6 504.6,562.6 505.8,562.6 507,562.6 508.2,562.6 509.4,562.6 510.6,562.7 511.8,562.7 513,562.7 514.2,562.7 515.4,562.7 516.6,562.8 517.8,562.8 519,562.8 520.2,562.9 521.4,562.9 522.6,562.9 523.8,563 525,563 526.2,563.1 527.4,563.1 528.6,563.1 529.8,563.2 531,563.2 532.2,563.3 533.4,563.4 534.6,563.4 535.8,563.5 537,563.5 538.2,563.6 539.4,563.6 540.6,563.7 541.8,563.8 543,563.8 544.2,563.9 545.4,564 546.6,564 547.8,564.1 549,564.2 550.2,564.2 551.4,564.3 552.6,564.4 553.8,564.5 555,564.5 556.2,564.6 557.4,564.7 558.6,564.8 559.8,564.8 561,564.9 562.2,565 563.4,565.1 564.6,565.1 565.8,565.2 567,565.3 568.2,565.4 569.4,565.4 570.6,565.5 571.8,565.6 573,565.7 574.2,565.7 575.4,565.8 576.6,565.9 577.8,566 579,566 580.2,566.1 581.4,566.2 582.6,566.3 583.8,566.3 585,566.4 586.2,566.5 587.4,566.5 588.6,566.6 589.8,566.7 591,566.8 592.2,566.8 593.4,566.9 594.6,567 595.8,567 597,567.1 598.2,567.2 599.4,567.2 600.6,567.3 601.8,567.4 603,567.4 604.2,567.5 605.4,567.6 606.6,567.6 607.8,567.7 609,567.8 610.2,567.8 611.4,567.9 612.6,568 613.8,568 615,568.1 616.2,568.1 617.4,568.2 618.6,568.3 619.8,568.3 621,568.4 622.2,568.4 623.4,568.5 624.6,568.5 625.8,568.6 627,568.7 628.2,568.7 629.4,568.8 630.6,568.8 631.8,568.9 633,568.9 634.2,569 635.4,569 636.6,569.1 637.8,569.1 639,569.2 640.2,569.2 641.4,569.3 642.6,569.3 643.8,569.4 645,569.4 646.2,569.5 647.4,569.5 648.6,569.6 649.8,569.6 651,569.7 652.2,569.7 653.4,569.8 654.6,569.8 655.8,569.9 657,569.9 658.2,570 659.4,570 660.6,570.1 661.8,570.1 663,570.1 664.2,570.2 665.4,570.2 666.6,570.3 667.8,570.3 669,570.4 670.2,570.4 671.4,570.4 672.6,570.5 673.8,570.5 675,570.6 676.2,570.6 677.4,570.6 678.7,570.7 679.9,570.7 681.1,570.8 682.3,570.8 683.5,570.8 684.7,570.9 685.9,570.9 687.1,571 688.3,571 689.5,571 690.7,571.1 691.9,571.1 693.1,571.1 694.3,571.2 695.5,571.2 696.7,571.2 697.9,571.3 699.1,571.3 700.3,571.4 701.5,571.4 702.7,571.4 703.9,571.5 705.1,571.5 706.3,571.5 707.5,571.6 708.7,571.6 709.9,571.6 711.1,571.7 712.3,571.7 713.5,571.7 714.7,571.8 715.9,571.8 717.1,571.8 718.3,571.9 719.5,571.9 720.7,571.9 721.9,572 723.1,572 724.3,572 725.5,572.1 726.7,572.1 727.9,572.1 729.1,572.1 730.3,572.2 731.5,572.2 732.7,572.2 733.9,572.3 735.1,572.3 736.3,572.3 737.5,572.4 738.7,572.4 739.9,572.4 741.1,572.5 742.3,572.5 743.5,572.5 744.7,572.5 745.9,572.6 747.1,572.6 748.3,572.6 749.5,572.7 750.7,572.7 751.9,572.7 753.1,572.8 754.3,572.8 755.5,572.8 756.7,572.9 757.9,572.9 759.1,572.9 760.4,572.9 761.6,573 762.8,573 764,573 765.2,573.1 766.4,573.1 767.6,573.1 768.8,573.2 770,573.2 771.2,573.2 772.4,573.2 773.6,573.3 774.8,573.3 776,573.3 777.2,573.4 778.4,573.4 779.6,573.4 780.8,573.5 782,573.5 783.2,573.5 784.4,573.6 785.6,573.6 786.8,573.6 788,573.7 789.2,573.7 790.4,573.7 791.6,573.8 792.8,573.8 794,573.8 795.2,573.8 796.4,573.9 797.6,573.9 798.8,573.9 800,574" fill="none" stroke="#7a7a00" stroke-width="2.6" stroke-linejoin="round" stroke-linecap="round" clip-path="url(#ca)"/>
<path d="M149.5,418 149.1,418.8 148.8,419.2 148.6,419.1 148.5,418.6 148.6,417.7 148.7,416.6 148.9,415.2 149.2,413.6 149.6,411.9 150,410 150.5,408 151,406 151.6,404 152.2,402.1 152.8,400.3 153.5,398.7 154.2,397.2 154.8,396 155.5,395.1 156.2,394.6 156.8,394.4 157.4,394.6 158,395.1 158.5,396 159.1,397.1 159.6,398.4 160.1,399.8 160.5,401.3 161,402.7 161.4,404.1 161.8,405.4 162.2,406.6 162.6,407.7 163,408.9 163.4,410 163.9,411 164.4,412 165,413.1 165.6,414.1 166.3,415.1 167,416.2 167.8,417.1 168.7,418 169.7,418.8 170.7,419.3 171.7,419.6 172.8,419.8 173.9,419.7 175.1,419.4 176.2,419 177.3,418.5 178.3,417.8 179.3,417.1 180.2,416.2 181,415.3 181.7,414.3 182.4,413.3 183,412.2 183.6,411.1 184.1,410 184.5,408.9 185,407.7 185.4,406.6 185.8,405.4 186.2,404.3 186.7,403.2 187.1,402.1 187.6,401.1 188,400 188.5,399 189.1,397.9 189.6,396.9 190.2,395.8 190.8,394.7 191.5,393.7 192.2,392.6 193,391.5 193.8,390.4 194.7,389.3 195.6,388.2 196.5,387.3 197.4,386.5 198.4,385.8 199.4,385.3 200.3,385.1 201.3,385.1 202.2,385.5 203.1,386 204,386.8 204.9,387.7 205.7,388.8 206.5,389.9 207.2,391.1 207.9,392.3 208.6,393.5 209.2,394.7 209.7,395.8 210.2,396.9 210.7,398.1 211.1,399.2 211.5,400.3 211.9,401.4 212.3,402.5 212.6,403.6 213,404.7 213.4,405.8 213.7,406.9 214.1,408 214.5,409.2 214.8,410.3 215.2,411.4 215.6,412.6 216,413.7 216.3,414.9 216.7,416 217,417.2 217.4,418.4 217.7,419.5 218,420.7 218.3,421.9 218.6,423 218.9,424.2 219.2,425.4 219.5,426.5 219.8,427.7 220.1,428.9 220.3,430 220.6,431.2 220.9,432.4 221.2,433.5 221.5,434.7 221.7,435.9 222,437 222.3,438.2 222.6,439.4 222.9,440.5 223.2,441.7 223.5,442.9 223.8,444 224.1,445.2 224.5,446.3 224.8,447.5 225.1,448.7 225.4,449.8 225.8,451 226.1,452.1 226.4,453.3 226.8,454.4 227.1,455.6 227.5,456.7 227.8,457.9 228.2,459 228.5,460.2 228.9,461.3 229.2,462.5 229.6,463.6 230,464.8 230.3,465.9 230.7,467.1 231.1,468.2 231.5,469.4 231.8,470.5 232.2,471.6 232.6,472.8 233,473.9 233.4,475.1 233.8,476.2 234.2,477.3 234.6,478.5 235,479.6 235.4,480.7 235.8,481.9 236.2,483 236.7,484.1 237.1,485.2 237.5,486.4 237.9,487.5 238.3,488.6 238.8,489.8 239.2,490.9 239.6,492 240.1,493.1 240.5,494.3 240.9,495.4 241.3,496.5 241.8,497.6 242.2,498.8 242.6,499.9 243,501 243.4,502.1 243.8,503.3 244.3,504.4 244.7,505.5 245.1,506.7 245.5,507.8 245.8,508.9 246.2,510.1 246.6,511.2 247,512.3 247.4,513.5 247.8,514.6 248.2,515.7 248.6,516.9 249,518 249.5,519.1 250,520.2 250.5,521.3 251,522.4 251.6,523.5 252.2,524.6 252.8,525.7 253.5,526.7 254.1,527.7 254.9,528.8 255.6,529.7 256.4,530.7 257.2,531.6 258,532.5 258.9,533.3 259.8,534.1 260.7,534.9 261.6,535.6 262.6,536.2 263.6,536.8 264.7,537.4 265.7,537.9 266.8,538.3 267.9,538.7 269.1,539 270.3,539.2 271.5,539.3 272.7,539.4 273.9,539.4 275.2,539.3 276.5,539.2 277.7,539 278.9,538.7 280.2,538.4 281.3,538 282.5,537.5 283.6,537 284.6,536.4 285.6,535.8 286.6,535.1 287.6,534.4 288.5,533.6 289.5,532.9 290.4,532.1 291.3,531.4 292.2,530.6 293.1,529.9 294,529.1 295,528.4 295.9,527.6 296.8,526.9 297.7,526.2 298.7,525.4 299.6,524.7 300.6,524 301.6,523.3 302.6,522.6 303.6,522 304.6,521.3 305.6,520.6 306.6,519.9 307.7,519.3 308.8,518.6 309.8,518 310.9,517.3 312,516.7 313.2,516.1 314.3,515.6 315.4,515.1 316.6,514.6 317.7,514.2 318.9,513.8 320,513.5 321.2,513.2 322.4,513 323.6,512.9 324.7,512.8 325.9,512.9 327,512.9 328.2,513.1 329.4,513.3 330.5,513.6 331.6,513.9 332.8,514.3 333.9,514.8 335,515.3 336,515.8 337.1,516.4 338.2,517 339.2,517.7 340.2,518.4 341.2,519.1 342.1,519.9 343.1,520.6 344,521.5 344.9,522.3 345.7,523.1 346.6,524 347.4,524.9 348.2,525.8 349,526.7 349.8,527.6 350.5,528.5 351.3,529.4 352.1,530.3 352.9,531.2 353.7,532.1 354.5,533 355.4,533.9 356.2,534.7 357.1,535.6 357.9,536.4 358.8,537.2 359.7,538 360.6,538.8 361.5,539.6 362.4,540.4 363.4,541.2 364.3,541.9 365.2,542.7 366.2,543.4 367.2,544.1 368.1,544.9 369.1,545.6 370.1,546.3 371.1,547 372,547.7 373,548.3 374,549 375.1,549.7 376.1,550.3 377.1,551 378.1,551.6 379.1,552.2 380.2,552.8 381.2,553.4 382.3,554 383.3,554.6 384.4,555.2 385.4,555.7 386.5,556.3 387.6,556.8 388.7,557.3 389.8,557.8 390.9,558.3 392,558.8 393.1,559.2 394.2,559.7 395.3,560.1 396.5,560.5 397.6,560.9 398.7,561.3 399.9,561.7 401,562 402.2,562.4 403.3,562.7 404.5,563 405.7,563.3 406.8,563.6 408,563.8 409.2,564 410.4,564.3 411.6,564.5 412.7,564.7 413.9,564.8 415.1,565 416.3,565.1 417.5,565.2 418.7,565.4 419.9,565.4 421.1,565.5 422.3,565.6 423.5,565.7 424.7,565.7 425.9,565.8 427.1,565.8 428.3,565.8 429.5,565.8 430.7,565.8 431.9,565.9 433.1,565.9 434.3,565.9 435.5,565.9 436.7,565.9 437.9,565.9 439.1,565.8 440.3,565.8 441.5,565.8 442.8,565.8 444,565.9 445.2,565.9 446.4,565.9 447.6,565.9 448.8,565.9 450,565.9 451.2,566 452.4,566 453.6,566 454.8,566 456,566.1 457.2,566.1 458.4,566.1 459.6,566.2 460.8,566.2 462,566.2 463.2,566.2 464.4,566.3 465.6,566.3 466.8,566.3 468,566.4 469.2,566.4 470.4,566.4 471.6,566.4 472.8,566.4 474,566.5 475.2,566.5 476.4,566.5 477.6,566.5 478.8,566.5 480,566.5 481.2,566.5 482.4,566.6 483.6,566.6 484.8,566.6 486,566.6 487.2,566.6 488.4,566.6 489.7,566.6 490.9,566.6 492.1,566.6 493.3,566.6 494.5,566.6 495.7,566.6 496.9,566.6 498.1,566.7 499.3,566.7 500.5,566.7 501.7,566.7 502.9,566.7 504.1,566.7 505.3,566.7 506.5,566.7 507.7,566.7 508.9,566.7 510.1,566.7 511.3,566.7 512.5,566.7 513.7,566.8 514.9,566.8 516.1,566.8 517.3,566.8 518.5,566.8 519.7,566.8 520.9,566.8 522.1,566.8 523.3,566.9 524.5,566.9 525.8,566.9 527,566.9 528.2,566.9 529.4,567 530.6,567 531.8,567 533,567 534.2,567.1 535.4,567.1 536.6,567.1 537.8,567.1 539,567.2 540.2,567.2 541.4,567.2 542.6,567.2 543.8,567.3 545,567.3 546.2,567.3 547.4,567.4 548.6,567.4 549.8,567.4 551,567.5 552.2,567.5 553.4,567.5 554.6,567.6 555.8,567.6 557,567.6 558.2,567.7 559.4,567.7 560.6,567.7 561.8,567.8 563,567.8 564.2,567.8 565.4,567.9 566.6,567.9 567.8,568 569.1,568 570.3,568 571.5,568.1 572.7,568.1 573.9,568.1 575.1,568.2 576.3,568.2 577.5,568.3 578.7,568.3 579.9,568.3 581.1,568.4 582.3,568.4 583.5,568.5 584.7,568.5 585.9,568.5 587.1,568.6 588.3,568.6 589.5,568.7 590.7,568.7 591.9,568.7 593.1,568.8 594.3,568.8 595.5,568.9 596.7,568.9 597.9,568.9 599.1,569 600.3,569 601.5,569.1 602.7,569.1 603.9,569.1 605.1,569.2 606.3,569.2 607.5,569.2 608.7,569.3 609.9,569.3 611.1,569.4 612.3,569.4 613.5,569.4 614.7,569.5 616,569.5 617.2,569.5 618.4,569.6 619.6,569.6 620.8,569.6 622,569.7 623.2,569.7 624.4,569.7 625.6,569.8 626.8,569.8 628,569.8 629.2,569.9 630.4,569.9 631.6,569.9 632.8,570 634,570 635.2,570 636.4,570.1 637.6,570.1 638.8,570.1 640,570.1 641.2,570.2 642.4,570.2 643.6,570.2 644.8,570.3 646,570.3 647.2,570.3 648.4,570.3 649.6,570.4 650.8,570.4 652,570.4 653.2,570.5 654.4,570.5 655.6,570.5 656.8,570.5 658,570.6 659.2,570.6 660.5,570.6 661.7,570.6 662.9,570.7 664.1,570.7 665.3,570.7 666.5,570.7 667.7,570.8 668.9,570.8 670.1,570.8 671.3,570.8 672.5,570.9 673.7,570.9 674.9,570.9 676.1,570.9 677.3,571 678.5,571 679.7,571 680.9,571 682.1,571 683.3,571.1 684.5,571.1 685.7,571.1 686.9,571.1 688.1,571.2 689.3,571.2 690.5,571.2 691.7,571.2 692.9,571.2 694.1,571.3 695.3,571.3 696.5,571.3 697.7,571.3 698.9,571.3 700.1,571.4 701.4,571.4 702.6,571.4 703.8,571.4 705,571.5 706.2,571.5 707.4,571.5 708.6,571.5 709.8,571.5 711,571.6 712.2,571.6 713.4,571.6 714.6,571.6 715.8,571.6 717,571.6 718.2,571.7 719.4,571.7 720.6,571.7 721.8,571.7 723,571.7 724.2,571.8 725.4,571.8 726.6,571.8 727.8,571.8 729,571.8 730.2,571.9 731.4,571.9 732.6,571.9 733.8,571.9 735,571.9 736.2,572 737.4,572 738.6,572 739.8,572 741.1,572 742.3,572 743.5,572.1 744.7,572.1 745.9,572.1 747.1,572.1 748.3,572.1 749.5,572.2 750.7,572.2 751.9,572.2 753.1,572.2 754.3,572.2 755.5,572.3 756.7,572.3 757.9,572.3 759.1,572.3 760.3,572.3 761.5,572.4 762.7,572.4 763.9,572.4 765.1,572.4 766.3,572.4 767.5,572.4 768.7,572.5 769.9,572.5 771.1,572.5 772.3,572.5 773.5,572.5 774.7,572.6 775.9,572.6 777.1,572.6 778.3,572.6 779.5,572.6 780.8,572.7 782,572.7 783.2,572.7 784.4,572.7 785.6,572.8 786.8,572.8 788,572.8 789.2,572.8 790.4,572.8 791.6,572.9 792.8,572.9 794,572.9 795.2,572.9 796.4,572.9 797.6,573 798.8,573 800,573" fill="none" stroke="#000080" stroke-width="2.6" stroke-linejoin="round" stroke-linecap="round" clip-path="url(#ca)"/>
<path d="M148.6,418.5 148.3,419.5 148.1,419.9 148,419.9 147.9,419.5 148,418.8 148.2,417.7 148.4,416.4 148.8,414.8 149.2,413.1 149.6,411.2 150.1,409.2 150.6,407.2 151.2,405.2 151.8,403.2 152.5,401.4 153.1,399.6 153.8,398 154.5,396.7 155.1,395.6 155.8,394.8 156.4,394.4 157.1,394.4 157.7,394.8 158.2,395.5 158.8,396.5 159.3,397.7 159.8,399 160.3,400.5 160.7,401.9 161.1,403.3 161.6,404.7 161.9,406 162.3,407.2 162.8,408.3 163.2,409.4 163.6,410.5 164.1,411.6 164.7,412.6 165.2,413.6 165.9,414.5 166.6,415.5 167.4,416.5 168.3,417.3 169.2,418.1 170.2,418.7 171.3,419.2 172.4,419.5 173.6,419.5 174.7,419.4 175.8,419 176.9,418.5 177.9,417.8 178.9,417 179.8,416.1 180.6,415.2 181.4,414.2 182.1,413.2 182.7,412.1 183.3,411 183.9,410 184.4,408.9 184.9,407.8 185.3,406.7 185.8,405.6 186.2,404.5 186.7,403.4 187.1,402.4 187.6,401.3 188,400.3 188.5,399.2 189,398.2 189.6,397.1 190.1,396 190.7,395 191.3,393.9 191.9,392.7 192.6,391.6 193.3,390.4 194.1,389.2 194.9,388 195.7,386.9 196.6,385.9 197.5,385 198.4,384.3 199.3,383.7 200.2,383.4 201.1,383.4 202.1,383.6 203,384.1 203.9,384.8 204.8,385.6 205.6,386.6 206.5,387.7 207.3,388.9 208,390.1 208.7,391.3 209.3,392.5 209.9,393.7 210.5,394.9 211,396 211.4,397.1 211.8,398.2 212.2,399.3 212.6,400.5 213,401.5 213.3,402.6 213.7,403.7 214,404.8 214.4,405.9 214.8,407 215.1,408.2 215.5,409.3 215.9,410.4 216.3,411.5 216.7,412.7 217.1,413.8 217.5,415 217.9,416.2 218.2,417.3 218.5,418.5 218.8,419.6 219.1,420.8 219.4,422 219.7,423.2 219.9,424.3 220.2,425.5 220.4,426.7 220.7,427.9 220.9,429.1 221.1,430.3 221.3,431.4 221.5,432.6 221.8,433.8 222,435 222.2,436.2 222.5,437.3 222.7,438.5 222.9,439.7 223.2,440.9 223.5,442 223.8,443.2 224,444.4 224.3,445.5 224.6,446.7 224.9,447.9 225.3,449 225.6,450.2 225.9,451.3 226.2,452.5 226.6,453.6 226.9,454.8 227.3,456 227.6,457.1 228,458.2 228.3,459.4 228.7,460.5 229.1,461.7 229.5,462.8 229.8,464 230.2,465.1 230.6,466.3 231,467.4 231.4,468.5 231.8,469.7 232.2,470.8 232.6,472 233,473.1 233.4,474.2 233.8,475.4 234.2,476.5 234.6,477.6 235,478.8 235.4,479.9 235.8,481 236.2,482.2 236.6,483.3 237,484.4 237.4,485.6 237.8,486.7 238.1,487.8 238.5,489 238.9,490.1 239.3,491.2 239.7,492.4 240.1,493.5 240.5,494.6 240.9,495.8 241.3,496.9 241.7,498 242.1,499.2 242.5,500.3 242.9,501.4 243.3,502.6 243.7,503.7 244.1,504.8 244.5,506 245,507.1 245.4,508.2 245.8,509.3 246.3,510.5 246.7,511.6 247.1,512.7 247.6,513.8 248.1,514.9 248.5,516.1 249,517.2 249.5,518.3 250,519.4 250.5,520.5 251,521.6 251.5,522.8 252,523.9 252.5,525 253.1,526.1 253.6,527.1 254.2,528.2 254.9,529.2 255.5,530.2 256.2,531.2 257,532.1 257.7,533 258.6,533.9 259.4,534.6 260.4,535.4 261.3,536.1 262.4,536.7 263.5,537.2 264.6,537.7 265.8,538.2 267,538.5 268.2,538.9 269.4,539.1 270.7,539.3 271.9,539.4 273.2,539.5 274.4,539.5 275.6,539.4 276.8,539.3 278,539.1 279.1,538.8 280.3,538.5 281.4,538.1 282.5,537.6 283.5,537.1 284.6,536.5 285.6,535.8 286.6,535.1 287.5,534.4 288.5,533.7 289.5,532.9 290.4,532.1 291.4,531.3 292.3,530.5 293.2,529.8 294.2,529 295.1,528.3 296,527.5 296.9,526.8 297.9,526.1 298.8,525.4 299.8,524.7 300.7,524 301.7,523.3 302.7,522.6 303.7,521.9 304.7,521.2 305.7,520.5 306.7,519.9 307.8,519.2 308.8,518.6 309.9,517.9 311,517.3 312.1,516.7 313.2,516.1 314.4,515.5 315.5,515 316.7,514.5 317.8,514.1 319,513.7 320.1,513.4 321.3,513.2 322.5,513 323.6,512.9 324.8,512.8 326,512.8 327.1,512.9 328.3,513.1 329.4,513.3 330.6,513.6 331.7,514 332.8,514.4 333.9,514.8 335,515.3 336.1,515.9 337.2,516.5 338.2,517.1 339.2,517.8 340.2,518.5 341.2,519.2 342.2,520 343.1,520.8 344,521.6 344.9,522.4 345.7,523.3 346.6,524.1 347.4,525 348.2,525.9 349,526.8 349.8,527.7 350.6,528.6 351.4,529.5 352.1,530.4 352.9,531.3 353.7,532.2 354.6,533.1 355.4,534 356.2,534.8 357.1,535.7 358,536.5 358.8,537.4 359.7,538.2 360.6,539 361.5,539.8 362.5,540.6 363.4,541.3 364.3,542.1 365.3,542.9 366.2,543.6 367.2,544.3 368.1,545.1 369.1,545.8 370.1,546.5 371.1,547.2 372.1,547.9 373,548.6 374,549.2 375,549.9 376.1,550.5 377.1,551.2 378.1,551.8 379.1,552.4 380.1,553 381.2,553.6 382.2,554.2 383.3,554.8 384.3,555.3 385.4,555.9 386.5,556.4 387.5,556.9 388.6,557.5 389.7,558 390.8,558.5 391.9,559 393,559.5 394.1,559.9 395.3,560.4 396.4,560.8 397.5,561.2 398.7,561.6 399.8,562 401,562.4 402.1,562.8 403.3,563.1 404.4,563.5 405.6,563.8 406.8,564 408,564.3 409.1,564.6 410.3,564.8 411.5,565 412.7,565.1 413.9,565.3 415.1,565.4 416.3,565.5 417.4,565.6 418.6,565.7 419.8,565.8 421,565.8 422.2,565.9 423.4,565.9 424.6,565.9 425.8,566 427,566 428.2,566 429.4,566 430.6,566.1 431.9,566.1 433.1,566.1 434.3,566.2 435.5,566.2 436.7,566.3 437.9,566.3 439.1,566.4 440.3,566.5 441.5,566.5 442.7,566.6 443.9,566.7 445.1,566.7 446.3,566.8 447.5,566.9 448.7,566.9 449.9,567 451.1,567 452.3,567 453.5,567.1 454.7,567.1 455.9,567.2 457.1,567.2 458.3,567.2 459.5,567.3 460.7,567.3 461.9,567.3 463.1,567.3 464.3,567.4 465.5,567.4 466.7,567.4 467.9,567.4 469.1,567.5 470.3,567.5 471.6,567.5 472.8,567.5 474,567.5 475.2,567.6 476.4,567.6 477.6,567.6 478.8,567.6 480,567.6 481.2,567.7 482.4,567.7 483.6,567.7 484.8,567.7 486,567.7 487.2,567.7 488.4,567.8 489.6,567.8 490.8,567.8 492,567.8 493.2,567.8 494.4,567.9 495.6,567.9 496.8,567.9 498,567.9 499.2,567.9 500.4,568 501.6,568 502.8,568 504,568 505.2,568 506.4,568.1 507.6,568.1 508.8,568.1 510.1,568.1 511.3,568.2 512.5,568.2 513.7,568.2 514.9,568.2 516.1,568.3 517.3,568.3 518.5,568.3 519.7,568.4 520.9,568.4 522.1,568.4 523.3,568.5 524.5,568.5 525.7,568.5 526.9,568.6 528.1,568.6 529.3,568.6 530.5,568.7 531.7,568.7 532.9,568.7 534.1,568.8 535.3,568.8 536.5,568.9 537.7,568.9 538.9,568.9 540.1,569 541.3,569 542.5,569.1 543.7,569.1 544.9,569.1 546.1,569.2 547.3,569.2 548.5,569.3 549.7,569.3 550.9,569.3 552.2,569.4 553.4,569.4 554.6,569.5 555.8,569.5 557,569.6 558.2,569.6 559.4,569.7 560.6,569.7 561.8,569.8 563,569.8 564.2,569.8 565.4,569.9 566.6,569.9 567.8,570 569,570 570.2,570.1 571.4,570.1 572.6,570.2 573.8,570.2 575,570.3 576.2,570.3 577.4,570.4 578.6,570.4 579.8,570.4 581,570.5 582.2,570.5 583.4,570.6 584.6,570.6 585.8,570.7 587,570.7 588.2,570.8 589.4,570.8 590.6,570.8 591.8,570.9 593,570.9 594.2,571 595.4,571 596.7,571.1 597.9,571.1 599.1,571.2 600.3,571.2 601.5,571.2 602.7,571.3 603.9,571.3 605.1,571.4 606.3,571.4 607.5,571.4 608.7,571.5 609.9,571.5 611.1,571.6 612.3,571.6 613.5,571.6 614.7,571.7 615.9,571.7 617.1,571.7 618.3,571.8 619.5,571.8 620.7,571.8 621.9,571.9 623.1,571.9 624.3,571.9 625.5,572 626.7,572 627.9,572 629.1,572.1 630.3,572.1 631.5,572.1 632.7,572.1 633.9,572.2 635.1,572.2 636.3,572.2 637.5,572.3 638.8,572.3 640,572.3 641.2,572.3 642.4,572.4 643.6,572.4 644.8,572.4 646,572.4 647.2,572.5 648.4,572.5 649.6,572.5 650.8,572.5 652,572.6 653.2,572.6 654.4,572.6 655.6,572.6 656.8,572.6 658,572.7 659.2,572.7 660.4,572.7 661.6,572.7 662.8,572.7 664,572.8 665.2,572.8 666.4,572.8 667.6,572.8 668.8,572.8 670,572.9 671.2,572.9 672.4,572.9 673.6,572.9 674.8,572.9 676.1,572.9 677.3,573 678.5,573 679.7,573 680.9,573 682.1,573 683.3,573 684.5,573 685.7,573.1 686.9,573.1 688.1,573.1 689.3,573.1 690.5,573.1 691.7,573.1 692.9,573.1 694.1,573.1 695.3,573.2 696.5,573.2 697.7,573.2 698.9,573.2 700.1,573.2 701.3,573.2 702.5,573.2 703.7,573.2 704.9,573.3 706.1,573.3 707.3,573.3 708.5,573.3 709.7,573.3 710.9,573.3 712.2,573.3 713.4,573.3 714.6,573.3 715.8,573.3 717,573.4 718.2,573.4 719.4,573.4 720.6,573.4 721.8,573.4 723,573.4 724.2,573.4 725.4,573.4 726.6,573.4 727.8,573.4 729,573.4 730.2,573.5 731.4,573.5 732.6,573.5 733.8,573.5 735,573.5 736.2,573.5 737.4,573.5 738.6,573.5 739.8,573.5 741,573.5 742.2,573.5 743.4,573.5 744.6,573.6 745.8,573.6 747.1,573.6 748.3,573.6 749.5,573.6 750.7,573.6 751.9,573.6 753.1,573.6 754.3,573.6 755.5,573.6 756.7,573.6 757.9,573.6 759.1,573.7 760.3,573.7 761.5,573.7 762.7,573.7 763.9,573.7 765.1,573.7 766.3,573.7 767.5,573.7 768.7,573.7 769.9,573.7 771.1,573.7 772.3,573.8 773.5,573.8 774.7,573.8 775.9,573.8 777.1,573.8 778.3,573.8 779.5,573.8 780.7,573.8 781.9,573.8 783.2,573.8 784.4,573.9 785.6,573.9 786.8,573.9 788,573.9 789.2,573.9 790.4,573.9 791.6,573.9 792.8,573.9 794,573.9 795.2,574 796.4,574 797.6,574 798.8,574 800,574" fill="none" stroke="#780078" stroke-width="2.6" stroke-linejoin="round" stroke-linecap="round" clip-path="url(#ca)"/>
<rect x="149.4" y="15" width="650" height="563.5" fill="none" stroke="#000" stroke-width="2.6"/>
<line x1="138.9" y1="571.8" x2="149.4" y2="571.8" stroke="#000" stroke-width="2.6"/>
<line x1="138.9" y1="432.6" x2="149.4" y2="432.6" stroke="#000" stroke-width="2.6"/>
<line x1="138.9" y1="293.4" x2="149.4" y2="293.4" stroke="#000" stroke-width="2.6"/>
<line x1="138.9" y1="154.2" x2="149.4" y2="154.2" stroke="#000" stroke-width="2.6"/>
<line x1="138.9" y1="15" x2="149.4" y2="15" stroke="#000" stroke-width="2.6"/>
<line x1="143.9" y1="502.2" x2="149.4" y2="502.2" stroke="#000" stroke-width="2.6"/>
<line x1="143.9" y1="363" x2="149.4" y2="363" stroke="#000" stroke-width="2.6"/>
<line x1="143.9" y1="223.8" x2="149.4" y2="223.8" stroke="#000" stroke-width="2.6"/>
<line x1="143.9" y1="84.6" x2="149.4" y2="84.6" stroke="#000" stroke-width="2.6"/>
<line x1="149.3" y1="578.5" x2="149.3" y2="589.5" stroke="#000" stroke-width="2.6"/>
<line x1="242.2" y1="578.5" x2="242.2" y2="589.5" stroke="#000" stroke-width="2.6"/>
<line x1="335" y1="578.5" x2="335" y2="589.5" stroke="#000" stroke-width="2.6"/>
<line x1="427.9" y1="578.5" x2="427.9" y2="589.5" stroke="#000" stroke-width="2.6"/>
<line x1="520.8" y1="578.5" x2="520.8" y2="589.5" stroke="#000" stroke-width="2.6"/>
<line x1="613.6" y1="578.5" x2="613.6" y2="589.5" stroke="#000" stroke-width="2.6"/>
<line x1="706.5" y1="578.5" x2="706.5" y2="589.5" stroke="#000" stroke-width="2.6"/>
<line x1="799.4" y1="578.5" x2="799.4" y2="589.5" stroke="#000" stroke-width="2.6"/>
<line x1="195.7" y1="578.5" x2="195.7" y2="584.5" stroke="#000" stroke-width="2.6"/>
<line x1="288.6" y1="578.5" x2="288.6" y2="584.5" stroke="#000" stroke-width="2.6"/>
<line x1="381.5" y1="578.5" x2="381.5" y2="584.5" stroke="#000" stroke-width="2.6"/>
<line x1="474.3" y1="578.5" x2="474.3" y2="584.5" stroke="#000" stroke-width="2.6"/>
<line x1="567.2" y1="578.5" x2="567.2" y2="584.5" stroke="#000" stroke-width="2.6"/>
<line x1="660.1" y1="578.5" x2="660.1" y2="584.5" stroke="#000" stroke-width="2.6"/>
<line x1="753" y1="578.5" x2="753" y2="584.5" stroke="#000" stroke-width="2.6"/>
<text transform="translate(131.8 587.3) scale(1 1.06)" font-size="33.7" text-anchor="end">0.0</text>
<text transform="translate(131.8 448.1) scale(1 1.06)" font-size="33.7" text-anchor="end">1.0</text>
<text transform="translate(131.8 308.9) scale(1 1.06)" font-size="33.7" text-anchor="end">2.0</text>
<text transform="translate(131.8 169.7) scale(1 1.06)" font-size="33.7" text-anchor="end">3.0</text>
<text transform="translate(131.8 30.5) scale(1 1.06)" font-size="33.7" text-anchor="end">4.0</text>
<text transform="translate(149.3 630) scale(1 1.06)" font-size="33.7" text-anchor="middle">200</text>
<text transform="translate(242.2 630) scale(1 1.06)" font-size="33.7" text-anchor="middle">250</text>
<text transform="translate(335 630) scale(1 1.06)" font-size="33.7" text-anchor="middle">300</text>
<text transform="translate(427.9 630) scale(1 1.06)" font-size="33.7" text-anchor="middle">350</text>
<text transform="translate(520.8 630) scale(1 1.06)" font-size="33.7" text-anchor="middle">400</text>
<text transform="translate(613.6 630) scale(1 1.06)" font-size="33.7" text-anchor="middle">450</text>
<text transform="translate(706.5 630) scale(1 1.06)" font-size="33.7" text-anchor="middle">500</text>
<text transform="translate(799.4 630) scale(1 1.06)" font-size="33.7" text-anchor="middle">550</text>
<text transform="translate(475 684.7) scale(1 1.035)" font-size="38.9" text-anchor="middle">Wavelength (nm)</text>
<text transform="translate(56.7 297.3) rotate(-90) scale(1 1.03)" font-size="38.9" text-anchor="middle">Absorption</text>
<text x="0.05 12.9 34.5" y="28.3" font-size="38">(a)</text>
<text x="193.5" y="65" font-size="33.7" text-anchor="start">Au@hmC-FeCo/GCs</text>
<line x1="635.7" y1="51.8" x2="696.3" y2="51.8" stroke="#000000" stroke-width="2.6"/>
<text x="708" y="62" font-size="29.2" text-anchor="start">0 min</text>
<line x1="635.7" y1="85.9" x2="696.3" y2="85.9" stroke="#e00000" stroke-width="2.6"/>
<text x="708" y="96.1" font-size="29.2" text-anchor="start">1</text>
<line x1="635.7" y1="120" x2="696.3" y2="120" stroke="#1ee01e" stroke-width="2.6"/>
<text x="708" y="130.2" font-size="29.2" text-anchor="start">2</text>
<line x1="635.7" y1="154.1" x2="696.3" y2="154.1" stroke="#0000d8" stroke-width="2.6"/>
<text x="708" y="164.3" font-size="29.2" text-anchor="start">3</text>
<line x1="635.7" y1="188.2" x2="696.3" y2="188.2" stroke="#22e6e6" stroke-width="2.6"/>
<text x="708" y="198.4" font-size="29.2" text-anchor="start">4</text>
<line x1="635.7" y1="222.3" x2="696.3" y2="222.3" stroke="#ee1aee" stroke-width="2.6"/>
<text x="708" y="232.5" font-size="29.2" text-anchor="start">5</text>
<line x1="635.7" y1="256.4" x2="696.3" y2="256.4" stroke="#f4f41a" stroke-width="2.6"/>
<text x="708" y="266.6" font-size="29.2" text-anchor="start">6</text>
<line x1="635.7" y1="290.5" x2="696.3" y2="290.5" stroke="#7a7a00" stroke-width="2.6"/>
<text x="708" y="300.7" font-size="29.2" text-anchor="start">7</text>
<line x1="635.7" y1="324.6" x2="696.3" y2="324.6" stroke="#000080" stroke-width="2.6"/>
<text x="708" y="334.8" font-size="29.2" text-anchor="start">8</text>
<line x1="635.7" y1="358.7" x2="696.3" y2="358.7" stroke="#780078" stroke-width="2.6"/>
<text x="708" y="368.9" font-size="29.2" text-anchor="start">9</text>
<path d="M993.2,5 992.8,6.4 993,7.6 993.1,8.7 993.2,9.9 993.4,11.1 993.5,12.3 993.6,13.5 993.7,14.6 993.9,15.8 994,17 994.1,18.2 994.2,19.4 994.3,20.5 994.4,21.7 994.5,22.9 994.7,24.1 994.8,25.3 994.9,26.5 995,27.7 995.1,28.8 995.2,30 995.3,31.2 995.4,32.4 995.5,33.6 995.6,34.8 995.7,36 995.8,37.2 995.9,38.4 996,39.6 996.1,40.8 996.2,42 996.3,43.2 996.4,44.4 996.5,45.6 996.6,46.8 996.7,48 996.8,49.2 996.9,50.4 996.9,51.6 997,52.8 997.1,54 997.2,55.2 997.3,56.4 997.4,57.6 997.5,58.8 997.6,60 997.7,61.2 997.8,62.4 997.9,63.6 998,64.8 998.1,66 998.2,67.2 998.3,68.4 998.4,69.6 998.5,70.8 998.6,72 998.7,73.2 998.8,74.4 998.9,75.6 999,76.8 999.1,78 999.2,79.2 999.3,80.4 999.4,81.6 999.5,82.8 999.6,84 999.7,85.2 999.8,86.4 1000,87.6 1000.1,88.8 1000.2,90 1000.3,91.2 1000.4,92.4 1000.6,93.7 1000.7,94.9 1000.8,96.1 1000.9,97.3 1001.1,98.5 1001.2,99.7 1001.3,100.9 1001.4,102.1 1001.6,103.3 1001.7,104.5 1001.9,105.7 1002,106.8 1002.1,108 1002.3,109.2 1002.4,110.4 1002.6,111.6 1002.7,112.8 1002.9,114 1003.1,115.2 1003.2,116.4 1003.4,117.6 1003.5,118.8 1003.7,120 1003.9,121.2 1004.1,122.4 1004.2,123.6 1004.4,124.7 1004.6,125.9 1004.8,127.1 1005,128.3 1005.2,129.5 1005.4,130.7 1005.6,131.9 1005.8,133 1006,134.2 1006.2,135.4 1006.4,136.6 1006.6,137.8 1006.8,138.9 1007,140.1 1007.3,141.3 1007.5,142.5 1007.7,143.6 1008,144.8 1008.2,146 1008.5,147.2 1008.7,148.3 1009,149.5 1009.2,150.7 1009.5,151.8 1009.7,153 1010,154.2 1010.3,155.3 1010.6,156.5 1010.8,157.6 1011.1,158.8 1011.4,160 1011.7,161.1 1012,162.3 1012.3,163.4 1012.6,164.6 1012.9,165.7 1013.2,166.9 1013.6,168 1013.9,169.2 1014.2,170.3 1014.6,171.5 1014.9,172.6 1015.2,173.7 1015.6,174.9 1016,176 1016.3,177.2 1016.7,178.3 1017.1,179.4 1017.4,180.5 1017.8,181.7 1018.2,182.8 1018.6,183.9 1019,185.1 1019.4,186.2 1019.8,187.3 1020.2,188.4 1020.6,189.5 1021,190.7 1021.4,191.8 1021.9,192.9 1022.3,194 1022.7,195.1 1023.1,196.2 1023.6,197.4 1024,198.5 1024.4,199.6 1024.9,200.7 1025.3,201.8 1025.7,202.9 1026.2,204.1 1026.6,205.2 1027,206.3 1027.5,207.4 1027.9,208.5 1028.3,209.6 1028.8,210.8 1029.2,211.9 1029.6,213 1030,214.1 1030.5,215.2 1030.9,216.4 1031.3,217.5 1031.7,218.6 1032.1,219.7 1032.6,220.9 1033,222 1033.4,223.1 1033.8,224.3 1034.2,225.4 1034.5,226.5 1034.9,227.7 1035.3,228.8 1035.7,230 1036.1,231.1 1036.4,232.2 1036.8,233.4 1037.1,234.6 1037.5,235.7 1037.8,236.9 1038.1,238 1038.5,239.2 1038.8,240.4 1039.1,241.5 1039.4,242.7 1039.7,243.9 1040,245.1 1040.3,246.2 1040.5,247.4 1040.8,248.6 1041,249.8 1041.3,251 1041.5,252.2 1041.8,253.4 1042,254.6 1042.2,255.8 1042.4,257 1042.6,258.2 1042.8,259.5 1043,260.7 1043.2,261.9 1043.4,263.1 1043.6,264.3 1043.7,265.5 1043.9,266.7 1044.1,267.9 1044.3,269.2 1044.4,270.4 1044.6,271.6 1044.8,272.8 1045,274 1045.1,275.2 1045.3,276.4 1045.5,277.6 1045.7,278.8 1045.8,280 1046,281.2 1046.2,282.3 1046.4,283.5 1046.6,284.7 1046.8,285.9 1047,287 1047.2,288.2 1047.4,289.3 1047.7,290.5 1047.9,291.6 1048.1,292.8 1048.4,293.9 1048.6,295 1048.9,296.2 1049.1,297.3 1049.4,298.4 1049.6,299.5 1049.9,300.6 1050.2,301.8 1050.5,302.9 1050.7,304 1051,305.1 1051.3,306.2 1051.6,307.3 1051.9,308.4 1052.2,309.5 1052.5,310.6 1052.8,311.7 1053,312.9 1053.3,314 1053.6,315.1 1053.9,316.2 1054.2,317.3 1054.5,318.5 1054.8,319.6 1055.1,320.7 1055.3,321.9 1055.6,323 1055.9,324.2 1056.2,325.4 1056.5,326.5 1056.7,327.7 1057,328.9 1057.2,330.1 1057.5,331.3 1057.7,332.5 1058,333.7 1058.2,334.9 1058.5,336.1 1058.7,337.4 1059,338.6 1059.2,339.8 1059.4,341.1 1059.7,342.3 1059.9,343.6 1060.2,344.8 1060.4,346.1 1060.6,347.3 1060.9,348.6 1061.1,349.8 1061.4,351.1 1061.6,352.3 1061.9,353.6 1062.1,354.8 1062.4,356.1 1062.7,357.3 1063,358.6 1063.2,359.8 1063.5,361.1 1063.8,362.3 1064.1,363.5 1064.4,364.8 1064.7,366 1065.1,367.2 1065.4,368.4 1065.7,369.6 1066.1,370.8 1066.5,372 1066.8,373.2 1067.2,374.3 1067.6,375.5 1068,376.6 1068.4,377.8 1068.9,378.9 1069.3,380 1069.8,381.1 1070.3,382.2 1070.7,383.3 1071.2,384.4 1071.8,385.5 1072.3,386.5 1072.8,387.5 1073.4,388.6 1074,389.6 1074.6,390.5 1075.2,391.5 1075.8,392.5 1076.5,393.4 1077.2,394.3 1077.9,395.2 1078.6,396.1 1079.3,397 1080.1,397.8 1080.9,398.6 1081.7,399.4 1082.5,400.2 1083.3,401 1084.2,401.7 1085.1,402.5 1086,403.2 1086.9,403.8 1087.9,404.5 1088.9,405.1 1089.8,405.7 1090.9,406.3 1091.9,406.8 1092.9,407.3 1094,407.8 1095,408.2 1096.1,408.6 1097.2,409 1098.3,409.3 1099.4,409.6 1100.5,409.8 1101.6,410 1102.7,410.2 1103.8,410.3 1104.9,410.4 1106,410.4 1107.1,410.4 1108.2,410.3 1109.2,410.2 1110.3,410 1111.4,409.8 1112.4,409.5 1113.5,409.2 1114.5,408.8 1115.6,408.4 1116.6,407.9 1117.6,407.4 1118.6,406.8 1119.6,406.2 1120.6,405.6 1121.5,404.9 1122.5,404.2 1123.5,403.5 1124.4,402.8 1125.3,402 1126.3,401.1 1127.2,400.3 1128.1,399.4 1129,398.6 1129.8,397.7 1130.7,396.7 1131.6,395.8 1132.4,394.9 1133.3,393.9 1134.1,392.9 1134.9,392 1135.7,391 1136.5,390 1137.3,389 1138.1,388 1138.8,387 1139.6,386 1140.3,385 1141.1,384 1141.8,382.9 1142.5,381.9 1143.2,380.9 1143.9,379.9 1144.6,378.8 1145.3,377.8 1146,376.8 1146.6,375.7 1147.3,374.7 1147.9,373.6 1148.6,372.6 1149.2,371.5 1149.8,370.4 1150.4,369.4 1151.1,368.3 1151.7,367.3 1152.2,366.2 1152.8,365.1 1153.4,364 1154,363 1154.6,361.9 1155.1,360.8 1155.7,359.7 1156.2,358.6 1156.8,357.6 1157.3,356.5 1157.9,355.4 1158.4,354.3 1158.9,353.2 1159.4,352.1 1159.9,351 1160.5,349.9 1161,348.8 1161.5,347.7 1162,346.6 1162.5,345.6 1162.9,344.5 1163.4,343.4 1163.9,342.3 1164.4,341.2 1164.9,340.1 1165.3,339 1165.8,337.9 1166.3,336.8 1166.8,335.7 1167.2,334.6 1167.7,333.5 1168.1,332.4 1168.6,331.3 1169.1,330.2 1169.5,329.1 1170,328 1170.4,326.9 1170.9,325.8 1171.3,324.7 1171.8,323.6 1172.2,322.5 1172.7,321.5 1173.1,320.4 1173.6,319.3 1174,318.2 1174.5,317.1 1174.9,316 1175.4,314.9 1175.8,313.9 1176.3,312.8 1176.7,311.7 1177.2,310.6 1177.6,309.5 1178.1,308.5 1178.5,307.4 1179,306.3 1179.4,305.2 1179.9,304.2 1180.3,303.1 1180.8,302 1181.2,300.9 1181.7,299.9 1182.1,298.8 1182.6,297.7 1183.1,296.6 1183.5,295.5 1184,294.5 1184.4,293.4 1184.9,292.3 1185.3,291.2 1185.8,290.2 1186.3,289.1 1186.7,288 1187.2,286.9 1187.7,285.8 1188.1,284.8 1188.6,283.7 1189.1,282.6 1189.6,281.5 1190,280.4 1190.5,279.3 1191,278.2 1191.5,277.2 1191.9,276.1 1192.4,275 1192.9,273.9 1193.4,272.8 1193.9,271.7 1194.4,270.6 1194.9,269.5 1195.4,268.4 1195.9,267.3 1196.4,266.2 1196.9,265.1 1197.4,264 1197.9,262.9 1198.4,261.8 1198.9,260.6 1199.4,259.5 1200,258.4 1200.5,257.3 1201,256.2 1201.5,255.1 1202.1,253.9 1202.6,252.8 1203.1,251.7 1203.7,250.5 1204.2,249.4 1204.8,248.3 1205.3,247.1 1205.9,246 1206.4,244.8 1207,243.7 1207.6,242.5 1208.1,241.4 1208.7,240.2 1209.3,239.1 1209.8,237.9 1210.4,236.8 1211,235.6 1211.6,234.5 1212.2,233.3 1212.8,232.2 1213.5,231.1 1214.1,230 1214.7,228.9 1215.4,227.8 1216,226.7 1216.7,225.6 1217.3,224.5 1218,223.5 1218.7,222.4 1219.4,221.4 1220.1,220.4 1220.8,219.4 1221.6,218.5 1222.3,217.5 1223.1,216.6 1223.8,215.7 1224.6,214.8 1225.4,214 1226.2,213.1 1227.1,212.3 1227.9,211.5 1228.7,210.8 1229.6,210 1230.5,209.4 1231.4,208.7 1232.3,208.1 1233.2,207.5 1234.2,206.9 1235.1,206.4 1236.1,205.9 1237.1,205.4 1238.1,205 1239.1,204.6 1240.1,204.3 1241.1,204 1242.1,203.8 1243.2,203.6 1244.2,203.5 1245.2,203.4 1246.2,203.4 1247.2,203.4 1248.2,203.5 1249.3,203.6 1250.2,203.9 1251.2,204.1 1252.2,204.5 1253.2,204.9 1254.2,205.3 1255.1,205.8 1256.1,206.3 1257,206.9 1257.9,207.5 1258.8,208.2 1259.7,208.9 1260.6,209.7 1261.5,210.4 1262.4,211.3 1263.3,212.1 1264.1,213 1265,213.9 1265.8,214.8 1266.6,215.7 1267.4,216.7 1268.2,217.6 1269,218.6 1269.8,219.6 1270.6,220.6 1271.3,221.6 1272.1,222.6 1272.8,223.6 1273.5,224.6 1274.2,225.6 1274.9,226.6 1275.6,227.7 1276.3,228.7 1276.9,229.8 1277.6,230.8 1278.2,231.8 1278.9,232.9 1279.5,233.9 1280.1,235 1280.7,236.1 1281.3,237.1 1281.9,238.2 1282.5,239.3 1283.1,240.3 1283.7,241.4 1284.2,242.5 1284.8,243.6 1285.3,244.7 1285.9,245.8 1286.4,246.8 1287,247.9 1287.5,249 1288,250.1 1288.6,251.2 1289.1,252.3 1289.6,253.4 1290.1,254.5 1290.6,255.6 1291.1,256.7 1291.6,257.8 1292.1,258.9 1292.6,260 1293.1,261.1 1293.6,262.3 1294.1,263.4 1294.6,264.5 1295.1,265.6 1295.5,266.7 1296,267.8 1296.5,268.9 1297,270 1297.5,271.1 1297.9,272.2 1298.4,273.3 1298.9,274.5 1299.3,275.6 1299.8,276.7 1300.3,277.8 1300.7,278.9 1301.2,280 1301.6,281.1 1302.1,282.2 1302.6,283.4 1303,284.5 1303.5,285.6 1303.9,286.7 1304.4,287.8 1304.8,288.9 1305.3,290.1 1305.7,291.2 1306.2,292.3 1306.6,293.4 1307,294.5 1307.5,295.6 1307.9,296.8 1308.4,297.9 1308.8,299 1309.2,300.1 1309.7,301.2 1310.1,302.4 1310.5,303.5 1311,304.6 1311.4,305.7 1311.8,306.8 1312.2,307.9 1312.7,309.1 1313.1,310.2 1313.5,311.3 1314,312.4 1314.4,313.6 1314.8,314.7 1315.2,315.8 1315.7,316.9 1316.1,318 1316.5,319.2 1316.9,320.3 1317.3,321.4 1317.8,322.5 1318.2,323.6 1318.6,324.8 1319,325.9 1319.4,327 1319.9,328.1 1320.3,329.2 1320.7,330.4 1321.1,331.5 1321.5,332.6 1322,333.7 1322.4,334.8 1322.8,336 1323.2,337.1 1323.6,338.2 1324.1,339.3 1324.5,340.4 1324.9,341.6 1325.3,342.7 1325.7,343.8 1326.2,344.9 1326.6,346 1327,347.2 1327.4,348.3 1327.8,349.4 1328.3,350.5 1328.7,351.6 1329.1,352.8 1329.5,353.9 1330,355 1330.4,356.1 1330.8,357.2 1331.2,358.3 1331.7,359.5 1332.1,360.6 1332.5,361.7 1333,362.8 1333.4,363.9 1333.8,365 1334.3,366.1 1334.7,367.3 1335.1,368.4 1335.6,369.5 1336,370.6 1336.4,371.7 1336.9,372.8 1337.3,373.9 1337.8,375 1338.2,376.2 1338.6,377.3 1339.1,378.4 1339.5,379.5 1340,380.6 1340.4,381.7 1340.9,382.8 1341.3,383.9 1341.8,385 1342.2,386.1 1342.7,387.2 1343.2,388.3 1343.6,389.4 1344.1,390.5 1344.6,391.7 1345,392.8 1345.5,393.9 1346,395 1346.4,396.1 1346.9,397.2 1347.4,398.3 1347.9,399.4 1348.3,400.5 1348.8,401.6 1349.3,402.6 1349.8,403.7 1350.3,404.8 1350.8,405.9 1351.3,407 1351.8,408.1 1352.3,409.2 1352.8,410.3 1353.3,411.4 1353.8,412.5 1354.3,413.6 1354.8,414.7 1355.3,415.8 1355.8,416.8 1356.3,417.9 1356.8,419 1357.4,420.1 1357.9,421.2 1358.4,422.3 1359,423.3 1359.5,424.4 1360,425.5 1360.6,426.6 1361.1,427.7 1361.6,428.7 1362.2,429.8 1362.7,430.9 1363.3,432 1363.9,433 1364.4,434.1 1365,435.2 1365.5,436.3 1366.1,437.3 1366.7,438.4 1367.3,439.5 1367.8,440.5 1368.4,441.6 1369,442.7 1369.6,443.7 1370.2,444.8 1370.8,445.8 1371.4,446.9 1372,448 1372.6,449 1373.2,450.1 1373.8,451.1 1374.5,452.1 1375.1,453.2 1375.7,454.2 1376.4,455.3 1377,456.3 1377.6,457.3 1378.3,458.4 1378.9,459.4 1379.6,460.4 1380.2,461.4 1380.9,462.4 1381.6,463.4 1382.2,464.5 1382.9,465.5 1383.6,466.5 1384.3,467.5 1385,468.4 1385.7,469.4 1386.4,470.4 1387.1,471.4 1387.8,472.4 1388.5,473.3 1389.2,474.3 1390,475.3 1390.7,476.2 1391.4,477.2 1392.2,478.1 1392.9,479 1393.7,480 1394.4,480.9 1395.2,481.8 1396,482.7 1396.7,483.6 1397.5,484.5 1398.3,485.4 1399.1,486.3 1399.9,487.2 1400.7,488.1 1401.5,489 1402.3,489.8 1403.1,490.7 1404,491.5 1404.8,492.4 1405.6,493.2 1406.5,494.1 1407.3,494.9 1408.2,495.7 1409.1,496.5 1409.9,497.3 1410.8,498.1 1411.7,498.9 1412.6,499.7 1413.5,500.4 1414.4,501.2 1415.3,501.9 1416.2,502.7 1417.2,503.4 1418.1,504.1 1419,504.9 1420,505.6 1420.9,506.3 1421.9,507 1422.9,507.7 1423.8,508.3 1424.8,509 1425.8,509.7 1426.8,510.3 1427.8,511 1428.8,511.6 1429.8,512.2 1430.8,512.9 1431.8,513.5 1432.9,514.1 1433.9,514.7 1434.9,515.3 1436,515.9 1437,516.4 1438.1,517 1439.1,517.6 1440.2,518.1 1441.2,518.7 1442.3,519.2 1443.4,519.8 1444.4,520.3 1445.5,520.8 1446.6,521.3 1447.7,521.8 1448.8,522.3 1449.9,522.8 1451,523.3 1452.1,523.8 1453.2,524.3 1454.3,524.8 1455.4,525.2 1456.5,525.7 1457.7,526.1 1458.8,526.6 1459.9,527 1461,527.4 1462.2,527.9 1463.3,528.3 1464.4,528.7 1465.6,529.1 1466.7,529.5 1467.9,529.9 1469,530.3 1470.2,530.7 1471.3,531.1 1472.5,531.5 1473.6,531.8 1474.8,532.2 1475.9,532.5 1477.1,532.9 1478.2,533.2 1479.4,533.6 1480.6,533.9 1481.7,534.3 1482.9,534.6 1484.1,534.9 1485.2,535.2 1486.4,535.5 1487.6,535.9 1488.7,536.2 1489.9,536.5 1491.1,536.8 1492.2,537.1 1493.4,537.3 1494.6,537.6 1495.7,537.9 1496.9,538.2 1498.1,538.4 1499.3,538.7 1500.4,539 1501.6,539.2 1502.8,539.5 1504,539.7 1505.1,540 1506.3,540.2 1507.5,540.4 1508.7,540.7 1509.8,540.9 1511,541.1 1512.2,541.4 1513.4,541.6 1514.6,541.8 1515.7,542 1516.9,542.2 1518.1,542.4 1519.3,542.6 1520.5,542.8 1521.6,543 1522.8,543.2 1524,543.4 1525.2,543.6 1526.4,543.7 1527.6,543.9 1528.7,544.1 1529.9,544.3 1531.1,544.4 1532.3,544.6 1533.5,544.8 1534.7,544.9 1535.9,545.1 1537.1,545.2 1538.2,545.4 1539.4,545.5 1540.6,545.7 1541.8,545.8 1543,546 1544.2,546.1 1545.4,546.3 1546.6,546.4 1547.8,546.5 1548.9,546.7 1550.1,546.8 1551.3,546.9 1552.5,547 1553.7,547.2 1554.9,547.3 1556.1,547.4 1557.3,547.5 1558.5,547.6 1559.7,547.7 1560.9,547.9 1562.1,548 1563.3,548.1 1564.5,548.2 1565.7,548.3 1566.9,548.4 1568,548.5 1569.2,548.6 1570.4,548.7 1571.6,548.8 1572.8,548.9 1574,549 1575.2,549.1 1576.4,549.2 1577.6,549.3 1578.8,549.3 1580,549.4 1581.2,549.5 1582.4,549.6 1583.6,549.7 1584.8,549.8 1586,549.9 1587.2,550 1588.4,550 1589.6,550.1 1590.8,550.2 1592,550.3 1593.2,550.4 1594.4,550.5 1595.6,550.5 1596.8,550.6 1598,550.7 1599.2,550.8 1600.4,550.9 1601.6,550.9 1602.8,551 1604,551.1 1605.2,551.2 1606.4,551.3 1607.6,551.3 1608.8,551.4 1610,551.5 1611.2,551.6 1612.4,551.7 1613.6,551.7 1614.8,551.8 1616,551.9 1617.2,552 1618.4,552.1 1619.6,552.2 1620.8,552.2 1622,552.2" fill="none" stroke="#000000" stroke-width="2.6" stroke-linejoin="round" stroke-linecap="round" clip-path="url(#cb)"/>
<path d="M993.2,5 993.5,6 993.5,7.2 993.6,8.5 993.6,9.7 993.7,10.9 993.7,12.1 993.8,13.3 993.8,14.6 993.9,15.8 993.9,17 994,18.2 994.1,19.4 994.1,20.6 994.2,21.9 994.3,23.1 994.3,24.3 994.4,25.5 994.5,26.7 994.5,27.9 994.6,29.1 994.7,30.3 994.8,31.5 994.9,32.7 995,33.9 995,35.1 995.1,36.3 995.2,37.5 995.3,38.7 995.4,39.9 995.5,41.1 995.6,42.3 995.7,43.5 995.8,44.7 995.9,45.9 996,47.1 996.1,48.3 996.2,49.5 996.4,50.7 996.5,51.9 996.6,53.1 996.7,54.3 996.8,55.5 996.9,56.7 997,57.8 997.2,59 997.3,60.2 997.4,61.4 997.5,62.6 997.6,63.8 997.8,65 997.9,66.2 998,67.4 998.1,68.5 998.3,69.7 998.4,70.9 998.5,72.1 998.7,73.3 998.8,74.5 998.9,75.7 999.1,76.8 999.2,78 999.3,79.2 999.5,80.4 999.6,81.6 999.7,82.8 999.9,83.9 1000,85.1 1000.2,86.3 1000.3,87.5 1000.4,88.7 1000.6,89.9 1000.7,91 1000.9,92.2 1001,93.4 1001.2,94.6 1001.3,95.8 1001.4,97 1001.6,98.1 1001.7,99.3 1001.9,100.5 1002,101.7 1002.2,102.9 1002.3,104.1 1002.4,105.3 1002.6,106.4 1002.7,107.6 1002.9,108.8 1003,110 1003.2,111.2 1003.3,112.4 1003.5,113.6 1003.6,114.8 1003.7,116 1003.9,117.1 1004,118.3 1004.2,119.5 1004.3,120.7 1004.5,121.9 1004.6,123.1 1004.8,124.3 1004.9,125.5 1005,126.7 1005.2,127.9 1005.3,129.1 1005.5,130.3 1005.6,131.5 1005.7,132.7 1005.9,133.9 1006,135.1 1006.1,136.3 1006.3,137.5 1006.4,138.7 1006.6,139.9 1006.7,141.1 1006.8,142.3 1007,143.5 1007.1,144.7 1007.2,145.9 1007.3,147.1 1007.5,148.3 1007.6,149.5 1007.7,150.7 1007.9,151.9 1008,153.1 1008.1,154.4 1008.2,155.6 1008.4,156.8 1008.5,158 1008.6,159.2 1008.7,160.4 1008.9,161.6 1009,162.9 1009.1,164.1 1009.3,165.3 1009.4,166.5 1009.5,167.7 1009.7,168.9 1009.8,170.1 1010,171.4 1010.1,172.6 1010.3,173.8 1010.4,175 1010.6,176.2 1010.7,177.4 1010.9,178.6 1011.1,179.8 1011.2,181 1011.4,182.2 1011.6,183.4 1011.8,184.6 1012,185.8 1012.2,187 1012.4,188.2 1012.6,189.4 1012.8,190.6 1013,191.8 1013.2,192.9 1013.5,194.1 1013.7,195.3 1014,196.5 1014.2,197.6 1014.5,198.8 1014.7,200 1015,201.1 1015.3,202.3 1015.6,203.5 1015.9,204.6 1016.2,205.8 1016.5,206.9 1016.8,208.1 1017.1,209.2 1017.5,210.3 1017.8,211.5 1018.2,212.6 1018.6,213.7 1018.9,214.8 1019.3,216 1019.7,217.1 1020.1,218.2 1020.6,219.3 1021,220.4 1021.4,221.5 1021.9,222.6 1022.3,223.7 1022.8,224.7 1023.3,225.8 1023.8,226.9 1024.3,227.9 1024.8,229 1025.3,230.1 1025.8,231.1 1026.4,232.2 1026.9,233.2 1027.5,234.2 1028.1,235.3 1028.7,236.3 1029.3,237.3 1029.9,238.3 1030.5,239.3 1031.1,240.3 1031.7,241.3 1032.4,242.3 1033,243.3 1033.7,244.2 1034.4,245.2 1035,246.2 1035.7,247.1 1036.4,248.1 1037.1,249 1037.9,249.9 1038.6,250.9 1039.3,251.8 1040.1,252.7 1040.8,253.6 1041.6,254.5 1042.4,255.4 1043.2,256.3 1043.9,257.1 1044.8,258 1045.6,258.9 1046.4,259.7 1047.2,260.6 1048.1,261.4 1048.9,262.2 1049.8,263.1 1050.6,263.9 1051.5,264.7 1052.4,265.5 1053.3,266.3 1054.2,267.1 1055.1,267.8 1056,268.6 1057,269.3 1057.9,270.1 1058.9,270.8 1059.8,271.6 1060.8,272.3 1061.8,273 1062.7,273.7 1063.7,274.4 1064.7,275.1 1065.7,275.8 1066.7,276.4 1067.7,277.1 1068.7,277.8 1069.7,278.5 1070.7,279.2 1071.7,279.9 1072.7,280.6 1073.7,281.3 1074.6,282 1075.6,282.7 1076.5,283.4 1077.5,284.2 1078.4,285 1079.3,285.7 1080.2,286.5 1081.1,287.4 1081.9,288.2 1082.7,289 1083.6,289.9 1084.4,290.8 1085.1,291.7 1085.9,292.6 1086.6,293.6 1087.4,294.5 1088.1,295.5 1088.8,296.5 1089.4,297.5 1090.1,298.5 1090.7,299.5 1091.4,300.6 1092,301.6 1092.6,302.7 1093.2,303.7 1093.7,304.8 1094.3,305.9 1094.9,307 1095.4,308.1 1095.9,309.2 1096.4,310.3 1096.9,311.4 1097.4,312.6 1097.9,313.7 1098.4,314.8 1098.9,315.9 1099.4,317 1099.8,318.2 1100.3,319.3 1100.7,320.4 1101.1,321.5 1101.6,322.7 1102,323.8 1102.4,324.9 1102.8,326 1103.2,327.1 1103.7,328.3 1104.1,329.4 1104.5,330.5 1104.9,331.6 1105.2,332.8 1105.6,333.9 1106,335 1106.4,336.1 1106.8,337.2 1107.2,338.4 1107.6,339.5 1107.9,340.6 1108.3,341.7 1108.7,342.8 1109.1,344 1109.5,345.1 1109.8,346.2 1110.2,347.3 1110.6,348.4 1111,349.6 1111.4,350.7 1111.8,351.8 1112.2,352.9 1112.6,354 1113,355.2 1113.4,356.3 1113.8,357.4 1114.2,358.5 1114.6,359.6 1115.1,360.7 1115.5,361.8 1115.9,363 1116.4,364.1 1116.8,365.2 1117.3,366.3 1117.7,367.4 1118.2,368.5 1118.7,369.6 1119.2,370.7 1119.7,371.8 1120.2,373 1120.7,374.1 1121.2,375.2 1121.8,376.3 1122.3,377.4 1122.9,378.5 1123.4,379.6 1124,380.7 1124.6,381.8 1125.2,382.9 1125.8,384 1126.4,385.1 1127.1,386.2 1127.7,387.3 1128.4,388.4 1129.1,389.5 1129.8,390.6 1130.5,391.7 1131.2,392.7 1131.9,393.8 1132.7,394.8 1133.4,395.9 1134.2,396.9 1135,397.9 1135.8,398.9 1136.6,399.8 1137.4,400.8 1138.2,401.7 1139,402.6 1139.9,403.4 1140.7,404.2 1141.6,405 1142.5,405.8 1143.3,406.5 1144.2,407.2 1145.1,407.9 1146.1,408.5 1147,409.1 1147.9,409.6 1148.8,410.1 1149.8,410.5 1150.7,410.9 1151.7,411.2 1152.7,411.5 1153.7,411.8 1154.6,411.9 1155.6,412.1 1156.6,412.1 1157.7,412.1 1158.7,412.1 1159.7,411.9 1160.7,411.8 1161.8,411.5 1162.8,411.2 1163.8,410.8 1164.9,410.4 1165.9,410 1166.9,409.5 1168,408.9 1169,408.3 1170,407.7 1171,407 1172,406.3 1173,405.5 1174,404.8 1174.9,404 1175.8,403.2 1176.8,402.3 1177.7,401.5 1178.5,400.6 1179.4,399.7 1180.2,398.8 1181.1,397.9 1181.9,397 1182.6,396 1183.4,395.1 1184.2,394.1 1184.9,393.2 1185.6,392.2 1186.3,391.2 1187,390.2 1187.7,389.2 1188.3,388.1 1189,387.1 1189.6,386.1 1190.3,385 1190.9,384 1191.5,382.9 1192.1,381.9 1192.7,380.8 1193.3,379.7 1193.9,378.6 1194.4,377.5 1195,376.5 1195.6,375.4 1196.2,374.3 1196.7,373.2 1197.3,372 1197.9,370.9 1198.4,369.8 1199,368.7 1199.6,367.6 1200.2,366.5 1200.7,365.4 1201.3,364.3 1201.9,363.1 1202.5,362 1203.1,360.9 1203.7,359.8 1204.3,358.7 1204.9,357.6 1205.5,356.5 1206.2,355.4 1206.8,354.3 1207.5,353.2 1208.1,352.2 1208.8,351.1 1209.5,350.1 1210.2,349 1210.8,348 1211.6,347 1212.3,346 1213,345 1213.7,344 1214.5,343.1 1215.3,342.1 1216.1,341.2 1216.8,340.3 1217.7,339.4 1218.5,338.5 1219.3,337.7 1220.2,336.9 1221,336.1 1221.9,335.3 1222.8,334.6 1223.7,333.8 1224.7,333.1 1225.6,332.4 1226.6,331.8 1227.6,331.2 1228.6,330.6 1229.6,330 1230.6,329.5 1231.7,329 1232.7,328.5 1233.8,328.1 1234.9,327.7 1236,327.4 1237.1,327.1 1238.2,326.8 1239.3,326.5 1240.4,326.3 1241.5,326.2 1242.6,326.1 1243.7,326 1244.8,326 1245.9,326 1247,326 1248,326.1 1249.1,326.3 1250.1,326.5 1251.2,326.8 1252.2,327.1 1253.2,327.5 1254.2,327.9 1255.2,328.3 1256.2,328.8 1257.1,329.4 1258.1,330 1259,330.6 1259.9,331.3 1260.8,332 1261.7,332.7 1262.6,333.5 1263.4,334.3 1264.3,335.1 1265.1,336 1266,336.9 1266.8,337.8 1267.6,338.8 1268.4,339.7 1269.2,340.7 1270,341.7 1270.7,342.7 1271.5,343.7 1272.3,344.8 1273,345.8 1273.7,346.9 1274.5,348 1275.2,349.1 1275.9,350.1 1276.6,351.2 1277.3,352.3 1278,353.4 1278.7,354.5 1279.4,355.5 1280,356.6 1280.7,357.7 1281.4,358.7 1282,359.8 1282.7,360.9 1283.3,361.9 1283.9,363 1284.6,364 1285.2,365.1 1285.8,366.1 1286.5,367.2 1287.1,368.2 1287.7,369.3 1288.3,370.3 1288.9,371.4 1289.5,372.4 1290.1,373.4 1290.7,374.5 1291.3,375.5 1291.9,376.6 1292.5,377.6 1293,378.6 1293.6,379.7 1294.2,380.7 1294.8,381.7 1295.4,382.8 1295.9,383.8 1296.5,384.8 1297.1,385.9 1297.7,386.9 1298.2,387.9 1298.8,389 1299.4,390 1299.9,391 1300.5,392.1 1301.1,393.1 1301.6,394.1 1302.2,395.2 1302.8,396.2 1303.3,397.2 1303.9,398.3 1304.5,399.3 1305,400.4 1305.6,401.4 1306.2,402.4 1306.7,403.5 1307.3,404.5 1307.9,405.5 1308.4,406.6 1309,407.6 1309.6,408.7 1310.1,409.7 1310.7,410.7 1311.3,411.8 1311.8,412.8 1312.4,413.8 1313,414.9 1313.6,415.9 1314.1,417 1314.7,418 1315.3,419.1 1315.8,420.1 1316.4,421.1 1317,422.2 1317.6,423.2 1318.2,424.3 1318.7,425.3 1319.3,426.3 1319.9,427.4 1320.5,428.4 1321.1,429.5 1321.6,430.5 1322.2,431.6 1322.8,432.6 1323.4,433.6 1324,434.7 1324.6,435.7 1325.2,436.8 1325.8,437.8 1326.4,438.9 1327,439.9 1327.6,441 1328.2,442 1328.8,443 1329.4,444.1 1330,445.1 1330.6,446.2 1331.2,447.2 1331.9,448.3 1332.5,449.3 1333.1,450.4 1333.7,451.4 1334.4,452.5 1335,453.5 1335.6,454.6 1336.3,455.6 1336.9,456.7 1337.5,457.7 1338.2,458.7 1338.8,459.8 1339.5,460.8 1340.1,461.9 1340.8,462.9 1341.4,463.9 1342.1,465 1342.8,466 1343.4,467 1344.1,468.1 1344.8,469.1 1345.5,470.1 1346.1,471.1 1346.8,472.1 1347.5,473.2 1348.2,474.2 1348.9,475.2 1349.6,476.2 1350.3,477.2 1351,478.2 1351.8,479.2 1352.5,480.1 1353.2,481.1 1353.9,482.1 1354.7,483.1 1355.4,484 1356.1,485 1356.9,486 1357.6,486.9 1358.4,487.8 1359.2,488.8 1359.9,489.7 1360.7,490.6 1361.5,491.6 1362.3,492.5 1363.1,493.4 1363.9,494.3 1364.7,495.2 1365.5,496 1366.3,496.9 1367.1,497.8 1367.9,498.7 1368.7,499.5 1369.6,500.3 1370.4,501.2 1371.3,502 1372.1,502.8 1373,503.6 1373.8,504.4 1374.7,505.2 1375.6,506 1376.5,506.8 1377.4,507.5 1378.3,508.3 1379.2,509 1380.1,509.8 1381,510.5 1381.9,511.2 1382.9,511.9 1383.8,512.6 1384.7,513.3 1385.7,514 1386.6,514.6 1387.6,515.3 1388.6,515.9 1389.6,516.5 1390.5,517.2 1391.5,517.8 1392.5,518.4 1393.5,519 1394.5,519.6 1395.5,520.1 1396.6,520.7 1397.6,521.3 1398.6,521.8 1399.6,522.4 1400.7,522.9 1401.7,523.4 1402.8,523.9 1403.8,524.4 1404.9,524.9 1405.9,525.4 1407,525.9 1408.1,526.4 1409.2,526.9 1410.2,527.3 1411.3,527.8 1412.4,528.2 1413.5,528.7 1414.6,529.1 1415.7,529.5 1416.8,529.9 1417.9,530.3 1419.1,530.7 1420.2,531.1 1421.3,531.5 1422.4,531.9 1423.6,532.3 1424.7,532.6 1425.8,533 1427,533.3 1428.1,533.7 1429.3,534 1430.4,534.4 1431.6,534.7 1432.8,535 1433.9,535.3 1435.1,535.6 1436.3,535.9 1437.4,536.2 1438.6,536.5 1439.8,536.8 1441,537.1 1442.1,537.4 1443.3,537.6 1444.5,537.9 1445.7,538.2 1446.9,538.4 1448.1,538.7 1449.3,538.9 1450.5,539.2 1451.7,539.4 1452.9,539.6 1454.1,539.9 1455.3,540.1 1456.5,540.3 1457.7,540.5 1458.9,540.7 1460.1,541 1461.3,541.2 1462.5,541.4 1463.7,541.6 1465,541.7 1466.2,541.9 1467.4,542.1 1468.6,542.3 1469.8,542.5 1471.1,542.7 1472.3,542.8 1473.5,543 1474.7,543.2 1475.9,543.3 1477.2,543.5 1478.4,543.7 1479.6,543.8 1480.8,544 1482,544.1 1483.3,544.3 1484.5,544.4 1485.7,544.6 1486.9,544.7 1488.1,544.8 1489.4,545 1490.6,545.1 1491.8,545.3 1493,545.4 1494.2,545.5 1495.5,545.7 1496.7,545.8 1497.9,545.9 1499.1,546 1500.3,546.2 1501.5,546.3 1502.7,546.4 1503.9,546.5 1505.2,546.7 1506.4,546.8 1507.6,546.9 1508.8,547 1510,547.2 1511.2,547.3 1512.4,547.4 1513.6,547.5 1514.8,547.6 1515.9,547.8 1517.1,547.9 1518.3,548 1519.5,548.1 1520.7,548.2 1521.9,548.4 1523.1,548.5 1524.3,548.6 1525.4,548.7 1526.6,548.8 1527.8,548.9 1529,549 1530.2,549.2 1531.3,549.3 1532.5,549.4 1533.7,549.5 1534.9,549.6 1536.1,549.7 1537.2,549.8 1538.4,549.9 1539.6,550.1 1540.8,550.2 1541.9,550.3 1543.1,550.4 1544.3,550.5 1545.4,550.6 1546.6,550.7 1547.8,550.8 1549,550.9 1550.1,551 1551.3,551.1 1552.5,551.2 1553.7,551.3 1554.8,551.4 1556,551.5 1557.2,551.6 1558.3,551.7 1559.5,551.8 1560.7,551.9 1561.9,552 1563.1,552.1 1564.2,552.2 1565.4,552.3 1566.6,552.3 1567.8,552.4 1568.9,552.5 1570.1,552.6 1571.3,552.7 1572.5,552.8 1573.7,552.9 1574.9,552.9 1576,553 1577.2,553.1 1578.4,553.2 1579.6,553.3 1580.8,553.3 1582,553.4 1583.2,553.5 1584.4,553.6 1585.6,553.6 1586.8,553.7 1588,553.8 1589.2,553.9 1590.4,553.9 1591.6,554 1592.8,554.1 1594,554.1 1595.2,554.2 1596.4,554.2 1597.7,554.3 1598.9,554.4 1600.1,554.4 1601.3,554.5 1602.5,554.5 1603.8,554.6 1605,554.6 1606.2,554.7 1607.5,554.7 1608.7,554.8 1609.9,554.8 1611.2,554.9 1612.4,554.9 1613.7,555 1614.9,555 1616.2,555 1617.4,555.1 1618.7,555.1 1619.9,555.2 1621.2,555.2 1622,555.4" fill="none" stroke="#e00000" stroke-width="2.6" stroke-linejoin="round" stroke-linecap="round" clip-path="url(#cb)"/>
<path d="M989,5 989.2,6.2 989.3,7.4 989.4,8.6 989.5,9.8 989.5,11 989.6,12.2 989.7,13.4 989.8,14.6 989.9,15.8 990,17 990.1,18.2 990.2,19.4 990.2,20.6 990.3,21.8 990.4,23 990.5,24.2 990.6,25.4 990.7,26.6 990.8,27.8 990.9,29 990.9,30.2 991,31.3 991.1,32.5 991.2,33.7 991.3,34.9 991.4,36.1 991.5,37.3 991.5,38.5 991.6,39.7 991.7,40.9 991.8,42.1 991.9,43.3 992,44.5 992,45.7 992.1,46.9 992.2,48.1 992.3,49.3 992.4,50.5 992.5,51.7 992.6,52.9 992.6,54.1 992.7,55.3 992.8,56.5 992.9,57.7 993,58.9 993.1,60.1 993.2,61.3 993.2,62.5 993.3,63.7 993.4,64.9 993.5,66.1 993.6,67.3 993.7,68.5 993.7,69.7 993.8,70.9 993.9,72.1 994,73.3 994.1,74.5 994.2,75.7 994.3,76.9 994.3,78.1 994.4,79.3 994.5,80.5 994.6,81.7 994.7,82.9 994.8,84.1 994.9,85.3 994.9,86.5 995,87.7 995.1,88.9 995.2,90.1 995.3,91.3 995.4,92.5 995.5,93.7 995.6,94.9 995.6,96.1 995.7,97.3 995.8,98.5 995.9,99.7 996,100.9 996.1,102.1 996.2,103.3 996.3,104.5 996.3,105.7 996.4,106.9 996.5,108.1 996.6,109.3 996.7,110.5 996.8,111.7 996.9,112.9 997,114.1 997.1,115.3 997.2,116.5 997.3,117.7 997.3,118.9 997.4,120.1 997.5,121.3 997.6,122.5 997.7,123.7 997.8,124.8 997.9,126 998,127.2 998.1,128.4 998.2,129.6 998.3,130.8 998.4,132 998.5,133.2 998.6,134.4 998.7,135.6 998.8,136.8 998.9,138 998.9,139.2 999,140.4 999.1,141.6 999.2,142.8 999.3,144 999.4,145.2 999.5,146.4 999.6,147.6 999.7,148.8 999.8,150 999.9,151.2 1000,152.4 1000.1,153.6 1000.2,154.8 1000.3,156 1000.5,157.2 1000.6,158.4 1000.7,159.6 1000.8,160.8 1000.9,162 1001,163.2 1001.1,164.4 1001.2,165.6 1001.3,166.8 1001.4,168 1001.5,169.2 1001.6,170.4 1001.7,171.6 1001.8,172.7 1001.9,173.9 1002.1,175.1 1002.2,176.3 1002.3,177.5 1002.4,178.7 1002.5,179.9 1002.6,181.1 1002.7,182.3 1002.8,183.5 1003,184.7 1003.1,185.9 1003.2,187.1 1003.3,188.3 1003.4,189.5 1003.5,190.7 1003.7,191.9 1003.8,193.1 1003.9,194.3 1004,195.5 1004.1,196.7 1004.3,197.8 1004.4,199 1004.5,200.2 1004.6,201.4 1004.8,202.6 1004.9,203.8 1005,205 1005.1,206.2 1005.3,207.4 1005.4,208.6 1005.5,209.8 1005.6,211 1005.8,212.2 1005.9,213.4 1006,214.5 1006.2,215.7 1006.3,216.9 1006.4,218.1 1006.6,219.3 1006.7,220.5 1006.8,221.7 1007,222.9 1007.1,224.1 1007.2,225.3 1007.4,226.5 1007.5,227.7 1007.7,228.8 1007.8,230 1007.9,231.2 1008.1,232.4 1008.2,233.6 1008.4,234.8 1008.5,236 1008.7,237.2 1008.8,238.4 1009,239.6 1009.1,240.7 1009.3,241.9 1009.4,243.1 1009.6,244.3 1009.7,245.5 1009.9,246.7 1010,247.9 1010.2,249.1 1010.3,250.3 1010.5,251.4 1010.6,252.6 1010.8,253.8 1011,255 1011.2,256.2 1011.3,257.4 1011.5,258.6 1011.7,259.8 1011.9,261 1012.1,262.1 1012.4,263.3 1012.6,264.5 1012.8,265.7 1013.1,266.9 1013.3,268.1 1013.6,269.3 1013.9,270.5 1014.2,271.7 1014.5,272.9 1014.8,274.1 1015.1,275.3 1015.5,276.5 1015.8,277.7 1016.2,278.9 1016.6,280.2 1017,281.4 1017.5,282.6 1017.9,283.8 1018.4,285 1018.9,286.2 1019.4,287.4 1019.9,288.6 1020.4,289.8 1021,290.9 1021.5,292 1022.1,293.1 1022.7,294.2 1023.3,295.2 1023.9,296.2 1024.6,297.1 1025.2,298 1025.9,298.8 1026.5,299.6 1027.2,300.3 1027.9,300.9 1028.6,301.5 1029.3,302 1030,302.4 1030.8,302.7 1031.5,303 1032.2,303.1 1033,303.2 1033.7,303.1 1034.5,302.9 1035.3,302.7 1036,302.3 1036.8,301.8 1037.6,301.2 1038.4,300.6 1039.2,299.8 1039.9,298.9 1040.7,298 1041.5,297 1042.3,295.9 1043.1,294.8 1043.8,293.6 1044.6,292.4 1045.3,291.2 1046.1,289.9 1046.8,288.6 1047.6,287.3 1048.3,286 1049,284.7 1049.7,283.4 1050.4,282.1 1051,280.8 1051.7,279.6 1052.3,278.4 1052.9,277.2 1053.5,276 1054.1,275 1054.7,273.9 1055.3,272.9 1055.9,271.9 1056.5,271 1057.1,270 1057.8,269.1 1058.5,268.3 1059.3,267.5 1060.1,266.6 1060.9,265.9 1061.8,265.1 1062.8,264.4 1063.7,263.7 1064.7,263.1 1065.8,262.5 1066.8,262 1067.9,261.5 1069,261.1 1070,260.7 1071.1,260.4 1072.2,260.2 1073.2,260.1 1074.3,260.1 1075.3,260.1 1076.3,260.3 1077.3,260.5 1078.2,260.8 1079.2,261.2 1080.1,261.7 1080.9,262.3 1081.8,262.9 1082.6,263.6 1083.4,264.4 1084.2,265.2 1084.9,266.1 1085.7,267 1086.4,268 1087.1,269 1087.7,270.1 1088.4,271.2 1089,272.3 1089.6,273.5 1090.1,274.7 1090.7,275.9 1091.2,277.1 1091.7,278.3 1092.2,279.6 1092.7,280.8 1093.2,282.1 1093.6,283.4 1094,284.6 1094.4,285.9 1094.8,287.1 1095.1,288.3 1095.5,289.5 1095.8,290.7 1096.1,291.9 1096.4,293.1 1096.7,294.3 1096.9,295.5 1097.2,296.6 1097.4,297.8 1097.7,298.9 1097.9,300 1098.2,301.2 1098.4,302.3 1098.6,303.4 1098.8,304.6 1099,305.7 1099.2,306.8 1099.4,307.9 1099.7,309.1 1099.9,310.2 1100.1,311.3 1100.3,312.4 1100.5,313.6 1100.8,314.7 1101,315.8 1101.3,317 1101.5,318.1 1101.8,319.2 1102,320.4 1102.3,321.5 1102.6,322.7 1102.9,323.8 1103.2,325 1103.4,326.1 1103.7,327.3 1104,328.5 1104.3,329.6 1104.6,330.8 1104.9,332 1105.3,333.1 1105.6,334.3 1105.9,335.5 1106.2,336.6 1106.5,337.8 1106.9,339 1107.2,340.2 1107.5,341.3 1107.9,342.5 1108.2,343.7 1108.5,344.9 1108.9,346.1 1109.2,347.2 1109.6,348.4 1109.9,349.6 1110.2,350.8 1110.6,352 1110.9,353.1 1111.3,354.3 1111.6,355.5 1111.9,356.7 1112.3,357.9 1112.6,359 1113,360.2 1113.3,361.4 1113.7,362.6 1114,363.7 1114.3,364.9 1114.7,366.1 1115,367.3 1115.3,368.4 1115.6,369.6 1116,370.8 1116.3,371.9 1116.6,373.1 1116.9,374.3 1117.2,375.4 1117.5,376.6 1117.9,377.7 1118.2,378.9 1118.5,380.1 1118.8,381.2 1119.1,382.4 1119.3,383.5 1119.6,384.7 1119.9,385.8 1120.2,386.9 1120.5,388.1 1120.8,389.2 1121.1,390.4 1121.4,391.5 1121.6,392.6 1121.9,393.8 1122.2,394.9 1122.5,396.1 1122.8,397.2 1123.1,398.3 1123.3,399.5 1123.6,400.6 1123.9,401.7 1124.2,402.9 1124.5,404 1124.8,405.1 1125.1,406.3 1125.3,407.4 1125.6,408.6 1125.9,409.7 1126.2,410.8 1126.5,412 1126.8,413.1 1127.1,414.2 1127.5,415.4 1127.8,416.5 1128.1,417.6 1128.4,418.8 1128.7,419.9 1129.1,421.1 1129.4,422.2 1129.7,423.4 1130.1,424.5 1130.4,425.6 1130.8,426.8 1131.1,427.9 1131.5,429.1 1131.9,430.2 1132.2,431.4 1132.6,432.6 1133,433.7 1133.4,434.9 1133.8,436 1134.2,437.2 1134.6,438.4 1135,439.5 1135.4,440.7 1135.9,441.9 1136.3,443.1 1136.8,444.2 1137.2,445.4 1137.7,446.6 1138.2,447.8 1138.6,449 1139.1,450.2 1139.6,451.3 1140.1,452.5 1140.7,453.7 1141.2,454.9 1141.7,456 1142.3,457.2 1142.9,458.3 1143.4,459.5 1144,460.6 1144.6,461.7 1145.3,462.8 1145.9,463.8 1146.5,464.8 1147.2,465.9 1147.9,466.8 1148.6,467.8 1149.3,468.7 1150,469.6 1150.8,470.5 1151.5,471.3 1152.3,472.1 1153.1,472.9 1154,473.6 1154.8,474.3 1155.7,475 1156.6,475.5 1157.5,476.1 1158.4,476.6 1159.3,477.1 1160.3,477.5 1161.3,477.8 1162.3,478.1 1163.4,478.4 1164.4,478.5 1165.5,478.7 1166.6,478.7 1167.8,478.7 1168.9,478.7 1170.1,478.6 1171.3,478.4 1172.5,478.2 1173.7,477.9 1175,477.6 1176.2,477.2 1177.4,476.8 1178.6,476.3 1179.8,475.8 1181,475.3 1182.2,474.7 1183.3,474.1 1184.5,473.4 1185.6,472.8 1186.6,472.1 1187.6,471.3 1188.6,470.6 1189.6,469.8 1190.5,469.1 1191.4,468.3 1192.2,467.4 1193,466.6 1193.8,465.8 1194.5,464.9 1195.2,464 1195.9,463.1 1196.6,462.2 1197.3,461.3 1197.9,460.3 1198.5,459.4 1199.2,458.4 1199.8,457.4 1200.4,456.4 1201,455.4 1201.6,454.4 1202.2,453.4 1202.9,452.4 1203.5,451.3 1204.2,450.3 1204.8,449.2 1205.5,448.2 1206.2,447.1 1206.8,446 1207.5,445 1208.2,443.9 1209,442.9 1209.7,441.8 1210.4,440.7 1211.2,439.7 1211.9,438.7 1212.7,437.6 1213.5,436.6 1214.3,435.6 1215.1,434.6 1215.9,433.7 1216.7,432.7 1217.6,431.8 1218.4,430.9 1219.3,430 1220.2,429.1 1221.1,428.2 1222,427.4 1222.9,426.6 1223.9,425.8 1224.8,425.1 1225.8,424.4 1226.8,423.7 1227.8,423.1 1228.8,422.5 1229.8,421.9 1230.9,421.4 1231.9,420.9 1233,420.4 1234.1,420 1235.2,419.7 1236.3,419.3 1237.5,419.1 1238.6,418.8 1239.8,418.7 1241,418.5 1242.1,418.4 1243.3,418.4 1244.5,418.3 1245.7,418.4 1246.9,418.4 1248.1,418.5 1249.2,418.7 1250.4,418.8 1251.6,419 1252.7,419.3 1253.8,419.6 1254.9,419.9 1256,420.2 1257.1,420.6 1258.2,421 1259.2,421.4 1260.2,421.9 1261.3,422.4 1262.3,422.9 1263.2,423.5 1264.2,424.1 1265.1,424.7 1266.1,425.3 1267,426 1267.9,426.7 1268.8,427.4 1269.6,428.1 1270.5,428.9 1271.4,429.6 1272.2,430.4 1273,431.3 1273.8,432.1 1274.6,432.9 1275.4,433.8 1276.2,434.7 1277,435.6 1277.7,436.5 1278.5,437.5 1279.2,438.4 1279.9,439.4 1280.7,440.3 1281.4,441.3 1282.1,442.3 1282.8,443.3 1283.5,444.4 1284.2,445.4 1284.8,446.4 1285.5,447.5 1286.2,448.5 1286.8,449.6 1287.5,450.6 1288.1,451.7 1288.8,452.8 1289.4,453.8 1290.1,454.9 1290.7,456 1291.3,457.1 1292,458.2 1292.6,459.2 1293.2,460.3 1293.8,461.4 1294.5,462.5 1295.1,463.5 1295.7,464.6 1296.3,465.7 1296.9,466.8 1297.5,467.9 1298.2,468.9 1298.8,470 1299.4,471.1 1300,472.1 1300.6,473.2 1301.2,474.3 1301.8,475.3 1302.5,476.4 1303.1,477.4 1303.7,478.5 1304.3,479.5 1305,480.6 1305.6,481.6 1306.2,482.7 1306.8,483.7 1307.5,484.7 1308.1,485.7 1308.8,486.8 1309.4,487.8 1310.1,488.8 1310.7,489.8 1311.4,490.8 1312,491.8 1312.7,492.8 1313.4,493.8 1314.1,494.8 1314.7,495.7 1315.4,496.7 1316.1,497.7 1316.8,498.6 1317.5,499.6 1318.2,500.5 1319,501.4 1319.7,502.4 1320.4,503.3 1321.2,504.2 1321.9,505.1 1322.7,506 1323.4,506.9 1324.2,507.8 1325,508.7 1325.8,509.5 1326.6,510.4 1327.4,511.2 1328.2,512.1 1329.1,512.9 1329.9,513.7 1330.8,514.5 1331.6,515.3 1332.5,516.1 1333.4,516.9 1334.2,517.7 1335.1,518.5 1336,519.2 1336.9,520 1337.9,520.7 1338.8,521.4 1339.7,522.1 1340.7,522.9 1341.6,523.6 1342.6,524.3 1343.5,524.9 1344.5,525.6 1345.5,526.3 1346.5,526.9 1347.5,527.6 1348.5,528.2 1349.5,528.9 1350.5,529.5 1351.5,530.1 1352.6,530.7 1353.6,531.3 1354.6,531.9 1355.7,532.4 1356.7,533 1357.8,533.6 1358.8,534.1 1359.9,534.6 1361,535.2 1362.1,535.7 1363.2,536.2 1364.3,536.7 1365.3,537.2 1366.5,537.7 1367.6,538.1 1368.7,538.6 1369.8,539 1370.9,539.5 1372,539.9 1373.2,540.3 1374.3,540.8 1375.4,541.2 1376.6,541.6 1377.7,541.9 1378.9,542.3 1380,542.7 1381.2,543 1382.3,543.4 1383.5,543.7 1384.6,544.1 1385.8,544.4 1387,544.7 1388.2,545 1389.3,545.3 1390.5,545.6 1391.7,545.8 1392.9,546.1 1394.1,546.3 1395.2,546.6 1396.4,546.8 1397.6,547 1398.8,547.3 1400,547.5 1401.2,547.7 1402.4,547.8 1403.6,548 1404.8,548.2 1406,548.3 1407.2,548.5 1408.4,548.6 1409.6,548.8 1410.8,548.9 1412,549 1413.2,549.1 1414.4,549.2 1415.6,549.2 1416.8,549.3 1418,549.4 1419.2,549.4 1420.4,549.5 1421.6,549.5 1422.8,549.5 1424,549.5 1425.2,549.5 1426.4,549.5 1427.5,550.3L1427.5,550.3 1428.3,549.6 1429.5,549.6 1430.7,549.5 1431.9,549.5 1433.1,549.5 1434.3,549.5 1435.4,549.5 1436.6,549.5 1437.8,549.6 1439,549.6 1440.2,549.6 1441.4,549.6 1442.7,549.7 1443.9,549.7 1445.1,549.8 1446.3,549.8 1447.5,549.9 1448.7,550 1449.9,550 1451.1,550.1 1452.3,550.2 1453.5,550.2 1454.7,550.3 1456,550.4 1457.2,550.5 1458.4,550.6 1459.6,550.7 1460.8,550.8 1462,550.9 1463.2,551 1464.5,551.2 1465.7,551.3 1466.9,551.4 1468.1,551.5 1469.3,551.6 1470.6,551.8 1471.8,551.9 1473,552 1474.2,552.2 1475.4,552.3 1476.7,552.5 1477.9,552.6 1479.1,552.7 1480.3,552.9 1481.5,553 1482.8,553.2 1484,553.4 1485.2,553.5 1486.4,553.7 1487.6,553.8 1488.9,554 1490.1,554.1 1491.3,554.3 1492.5,554.5 1493.7,554.6 1495,554.8 1496.2,555 1497.4,555.1 1498.6,555.3 1499.8,555.5 1501,555.6 1502.2,555.8 1503.5,556 1504.7,556.1 1505.9,556.3 1507.1,556.5 1508.3,556.7 1509.5,556.8 1510.7,557 1511.9,557.2 1513.1,557.3 1514.3,557.5 1515.5,557.7 1516.8,557.8 1518,558 1519.2,558.1 1520.4,558.3 1521.6,558.5 1522.8,558.6 1524,558.8L1524,558.8 1524.1,557.2 1525,556.8 1525.9,556.4 1526.9,556.1 1527.9,555.8 1528.9,555.6 1529.9,555.4 1531,555.2 1532.1,555 1533.2,554.9 1534.3,554.8 1535.4,554.7 1536.6,554.7 1537.8,554.7 1538.9,554.6 1540.1,554.7 1541.3,554.7 1542.5,554.7 1543.8,554.8 1545,554.8 1546.2,554.9 1547.4,555 1548.7,555 1549.9,555.1 1551.2,555.2 1552.4,555.3 1553.6,555.4 1554.9,555.5 1556.1,555.5 1557.4,555.6 1558.6,555.7 1559.8,555.8 1561.1,555.9 1562.3,556 1563.6,556.1 1564.8,556.1 1566,556.2 1567.3,556.3 1568.5,556.4 1569.7,556.5 1571,556.5 1572.2,556.6 1573.4,556.7 1574.6,556.7 1575.9,556.8 1577.1,556.8 1578.3,556.9 1579.5,556.9 1580.7,557 1581.9,557 1583.2,557.1 1584.4,557.1 1585.6,557.1 1586.8,557.2 1588,557.2 1589.2,557.3 1590.4,557.3 1591.6,557.3 1592.8,557.4 1594,557.4 1595.2,557.4 1596.4,557.5 1597.6,557.5 1598.8,557.5 1600,557.6 1601.3,557.6 1602.5,557.7 1603.7,557.7 1604.9,557.8 1606.1,557.8 1607.3,557.8 1608.5,557.9 1609.7,558 1611,558 1612.2,558.1 1613.4,558.1 1614.6,558.2 1615.9,558.3 1617.1,558.3 1618.3,558.4 1619.6,558.5 1620.8,558.6 1622,558.6" fill="none" stroke="#1ee01e" stroke-width="2.6" stroke-linejoin="round" stroke-linecap="round" clip-path="url(#cb)"/>
<path d="M987.9,5 988.2,6 988.3,7.2 988.4,8.4 988.5,9.6 988.5,10.8 988.6,12.1 988.7,13.3 988.8,14.5 988.9,15.7 989,16.9 989.1,18.1 989.2,19.3 989.3,20.5 989.4,21.7 989.5,22.9 989.6,24.2 989.7,25.4 989.8,26.6 989.8,27.8 989.9,29 990,30.2 990.1,31.4 990.2,32.6 990.3,33.8 990.4,35 990.5,36.2 990.6,37.4 990.7,38.6 990.7,39.8 990.8,41 990.9,42.3 991,43.5 991.1,44.7 991.2,45.9 991.3,47.1 991.4,48.3 991.4,49.5 991.5,50.7 991.6,51.9 991.7,53.1 991.8,54.3 991.9,55.5 992,56.7 992.1,57.9 992.1,59.1 992.2,60.3 992.3,61.5 992.4,62.7 992.5,63.9 992.6,65.1 992.7,66.3 992.8,67.5 992.8,68.7 992.9,69.9 993,71.1 993.1,72.3 993.2,73.5 993.3,74.7 993.4,75.9 993.4,77.1 993.5,78.3 993.6,79.5 993.7,80.6 993.8,81.8 993.9,83 994,84.2 994,85.4 994.1,86.6 994.2,87.8 994.3,89 994.4,90.2 994.5,91.4 994.6,92.6 994.6,93.8 994.7,95 994.8,96.2 994.9,97.4 995,98.6 995.1,99.8 995.2,101 995.3,102.2 995.3,103.4 995.4,104.6 995.5,105.7 995.6,106.9 995.7,108.1 995.8,109.3 995.9,110.5 996,111.7 996,112.9 996.1,114.1 996.2,115.3 996.3,116.5 996.4,117.7 996.5,118.9 996.6,120.1 996.7,121.3 996.8,122.5 996.9,123.7 996.9,124.8 997,126 997.1,127.2 997.2,128.4 997.3,129.6 997.4,130.8 997.5,132 997.6,133.2 997.7,134.4 997.8,135.6 997.9,136.8 998,138 998,139.2 998.1,140.4 998.2,141.6 998.3,142.7 998.4,143.9 998.5,145.1 998.6,146.3 998.7,147.5 998.8,148.7 998.9,149.9 999,151.1 999.1,152.3 999.2,153.5 999.3,154.7 999.4,155.9 999.5,157.1 999.6,158.3 999.7,159.5 999.8,160.7 999.9,161.8 1000,163 1000.1,164.2 1000.2,165.4 1000.3,166.6 1000.4,167.8 1000.5,169 1000.6,170.2 1000.7,171.4 1000.8,172.6 1000.9,173.8 1001,175 1001.1,176.2 1001.2,177.4 1001.4,178.6 1001.5,179.8 1001.6,181 1001.7,182.2 1001.8,183.4 1001.9,184.6 1002,185.8 1002.1,187 1002.2,188.2 1002.3,189.4 1002.5,190.6 1002.6,191.8 1002.7,193 1002.8,194.2 1002.9,195.4 1003,196.6 1003.1,197.8 1003.3,199 1003.4,200.2 1003.5,201.4 1003.6,202.6 1003.7,203.8 1003.9,205 1004,206.2 1004.1,207.4 1004.2,208.6 1004.3,209.8 1004.5,211 1004.6,212.2 1004.7,213.4 1004.8,214.6 1005,215.8 1005.1,217 1005.2,218.2 1005.3,219.4 1005.5,220.6 1005.6,221.8 1005.7,223 1005.9,224.2 1006,225.4 1006.1,226.6 1006.3,227.8 1006.4,229 1006.5,230.2 1006.7,231.5 1006.8,232.7 1006.9,233.9 1007.1,235.1 1007.2,236.3 1007.3,237.5 1007.5,238.7 1007.6,239.9 1007.8,241.1 1007.9,242.3 1008.1,243.6 1008.2,244.8 1008.3,246 1008.5,247.2 1008.6,248.4 1008.8,249.6 1008.9,250.8 1009.1,252 1009.2,253.3 1009.4,254.5 1009.5,255.7 1009.7,256.9 1009.8,258.1 1010,259.3 1010.1,260.6 1010.3,261.8 1010.5,263 1010.6,264.2 1010.8,265.4 1011,266.6 1011.2,267.8 1011.3,269 1011.5,270.2 1011.7,271.4 1011.9,272.6 1012.2,273.8 1012.4,275 1012.6,276.2 1012.9,277.4 1013.1,278.6 1013.4,279.7 1013.7,280.9 1014,282.1 1014.3,283.2 1014.6,284.4 1015,285.5 1015.4,286.6 1015.7,287.7 1016.2,288.8 1016.6,289.9 1017,291 1017.5,292.1 1018,293.2 1018.5,294.2 1019,295.3 1019.6,296.3 1020.1,297.3 1020.7,298.4 1021.4,299.4 1022,300.3 1022.7,301.3 1023.4,302.2 1024.1,303.1 1024.8,303.9 1025.6,304.6 1026.3,305.4 1027.1,306 1027.9,306.6 1028.7,307 1029.5,307.4 1030.3,307.7 1031.1,307.9 1031.9,308 1032.7,308 1033.5,307.8 1034.3,307.5 1035.1,307.1 1035.9,306.6 1036.6,306 1037.4,305.2 1038.2,304.4 1038.9,303.5 1039.7,302.5 1040.4,301.4 1041.1,300.3 1041.8,299.1 1042.5,297.9 1043.1,296.7 1043.8,295.4 1044.4,294.2 1045,292.9 1045.5,291.6 1046.1,290.3 1046.6,289 1047.1,287.8 1047.5,286.5 1048,285.3 1048.4,284.1 1048.8,282.9 1049.2,281.6 1049.6,280.4 1049.9,279.3 1050.3,278.1 1050.6,276.9 1050.9,275.7 1051.2,274.6 1051.5,273.4 1051.8,272.3 1052.1,271.2 1052.3,270 1052.6,268.9 1052.9,267.8 1053.2,266.7 1053.6,265.5 1053.9,264.4 1054.2,263.3 1054.6,262.2 1055,261 1055.4,259.9 1055.9,258.8 1056.4,257.6 1056.9,256.5 1057.4,255.3 1058,254.2 1058.7,253 1059.3,251.9 1060,250.7 1060.7,249.6 1061.5,248.5 1062.3,247.4 1063.1,246.3 1063.9,245.3 1064.7,244.3 1065.6,243.4 1066.5,242.5 1067.3,241.7 1068.2,240.9 1069.1,240.2 1070,239.6 1070.9,239.1 1071.7,238.6 1072.6,238.3 1073.5,238 1074.3,237.8 1075.1,237.8 1076,237.8 1076.8,238 1077.5,238.3 1078.3,238.6 1079,239.1 1079.8,239.7 1080.5,240.3 1081.2,241 1081.9,241.8 1082.5,242.7 1083.2,243.6 1083.8,244.5 1084.4,245.6 1085,246.6 1085.6,247.7 1086.2,248.9 1086.8,250.1 1087.3,251.2 1087.9,252.4 1088.4,253.7 1088.9,254.9 1089.4,256.1 1089.9,257.3 1090.4,258.5 1090.9,259.8 1091.3,261 1091.8,262.2 1092.2,263.4 1092.6,264.6 1093.1,265.8 1093.5,267 1093.9,268.2 1094.3,269.4 1094.6,270.6 1095,271.7 1095.4,272.9 1095.7,274.1 1096.1,275.3 1096.4,276.5 1096.8,277.7 1097.1,278.8 1097.4,280 1097.7,281.2 1098,282.3 1098.3,283.5 1098.6,284.7 1098.9,285.9 1099.2,287 1099.5,288.2 1099.7,289.4 1100,290.5 1100.3,291.7 1100.5,292.8 1100.8,294 1101,295.2 1101.3,296.3 1101.5,297.5 1101.7,298.6 1102,299.8 1102.2,301 1102.4,302.1 1102.7,303.3 1102.9,304.4 1103.1,305.6 1103.3,306.8 1103.5,307.9 1103.7,309.1 1104,310.2 1104.2,311.4 1104.4,312.6 1104.6,313.7 1104.8,314.9 1105,316 1105.2,317.2 1105.4,318.4 1105.6,319.5 1105.8,320.7 1106,321.9 1106.3,323 1106.5,324.2 1106.7,325.4 1106.9,326.6 1107.1,327.7 1107.3,328.9 1107.5,330.1 1107.7,331.3 1108,332.4 1108.2,333.6 1108.4,334.8 1108.6,336 1108.8,337.2 1109,338.3 1109.2,339.5 1109.5,340.7 1109.7,341.9 1109.9,343.1 1110.1,344.2 1110.3,345.4 1110.6,346.6 1110.8,347.8 1111,349 1111.2,350.2 1111.5,351.4 1111.7,352.5 1111.9,353.7 1112.1,354.9 1112.4,356.1 1112.6,357.3 1112.8,358.5 1113,359.7 1113.3,360.8 1113.5,362 1113.7,363.2 1114,364.4 1114.2,365.6 1114.4,366.8 1114.7,368 1114.9,369.2 1115.2,370.4 1115.4,371.5 1115.6,372.7 1115.9,373.9 1116.1,375.1 1116.4,376.3 1116.6,377.5 1116.8,378.7 1117.1,379.9 1117.3,381 1117.6,382.2 1117.8,383.4 1118.1,384.6 1118.3,385.8 1118.6,387 1118.8,388.2 1119.1,389.3 1119.3,390.5 1119.6,391.7 1119.9,392.9 1120.1,394.1 1120.4,395.2 1120.6,396.4 1120.9,397.6 1121.2,398.8 1121.4,400 1121.7,401.1 1122,402.3 1122.2,403.5 1122.5,404.7 1122.8,405.8 1123,407 1123.3,408.2 1123.6,409.4 1123.9,410.5 1124.1,411.7 1124.4,412.9 1124.7,414 1125,415.2 1125.3,416.4 1125.5,417.5 1125.8,418.7 1126.1,419.9 1126.4,421 1126.7,422.2 1127,423.3 1127.3,424.5 1127.6,425.6 1127.9,426.8 1128.2,428 1128.5,429.1 1128.8,430.3 1129.1,431.4 1129.4,432.6 1129.7,433.7 1130,434.8 1130.3,436 1130.6,437.1 1130.9,438.3 1131.2,439.4 1131.5,440.5 1131.8,441.7 1132.1,442.8 1132.5,443.9 1132.8,445.1 1133.1,446.2 1133.4,447.3 1133.8,448.5 1134.1,449.6 1134.5,450.7 1134.8,451.8 1135.2,453 1135.5,454.1 1135.9,455.2 1136.3,456.4 1136.6,457.5 1137,458.6 1137.4,459.7 1137.8,460.9 1138.2,462 1138.6,463.1 1139,464.3 1139.5,465.4 1139.9,466.5 1140.3,467.7 1140.8,468.8 1141.3,470 1141.7,471.1 1142.2,472.2 1142.7,473.4 1143.2,474.5 1143.7,475.7 1144.3,476.8 1144.8,478 1145.4,479.2 1145.9,480.3 1146.5,481.5 1147.1,482.6 1147.7,483.8 1148.3,484.9 1149,486 1149.6,487.1 1150.3,488.2 1150.9,489.3 1151.6,490.4 1152.3,491.4 1153.1,492.4 1153.8,493.4 1154.6,494.4 1155.3,495.3 1156.1,496.2 1156.9,497.1 1157.8,497.9 1158.6,498.7 1159.5,499.5 1160.3,500.2 1161.2,500.8 1162.2,501.5 1163.1,502.1 1164.1,502.6 1165.1,503.1 1166.1,503.5 1167.1,503.9 1168.1,504.2 1169.2,504.5 1170.3,504.7 1171.4,504.8 1172.5,504.9 1173.6,505 1174.8,505 1175.9,504.9 1177.1,504.8 1178.3,504.7 1179.5,504.5 1180.6,504.3 1181.8,504 1183,503.7 1184.2,503.3 1185.3,502.9 1186.5,502.5 1187.6,502 1188.8,501.5 1189.9,501 1191,500.5 1192.1,499.9 1193.2,499.3 1194.2,498.7 1195.3,498 1196.3,497.4 1197.2,496.7 1198.2,496 1199.1,495.2 1200.1,494.5 1201,493.7 1201.9,492.9 1202.8,492.2 1203.6,491.3 1204.5,490.5 1205.4,489.7 1206.2,488.9 1207.1,488 1207.9,487.2 1208.8,486.3 1209.6,485.5 1210.5,484.6 1211.4,483.7 1212.2,482.8 1213.1,482 1214,481.1 1214.9,480.2 1215.8,479.4 1216.7,478.5 1217.6,477.7 1218.6,476.8 1219.5,476 1220.4,475.2 1221.4,474.4 1222.3,473.6 1223.3,472.9 1224.3,472.1 1225.3,471.4 1226.3,470.7 1227.3,470 1228.3,469.4 1229.3,468.8 1230.3,468.2 1231.4,467.7 1232.5,467.1 1233.5,466.7 1234.6,466.2 1235.7,465.8 1236.8,465.4 1237.9,465.1 1239.1,464.8 1240.2,464.6 1241.3,464.4 1242.5,464.2 1243.7,464.1 1244.8,464 1246,464 1247.2,463.9 1248.3,464 1249.5,464 1250.7,464.1 1251.8,464.2 1253,464.4 1254.2,464.6 1255.3,464.8 1256.5,465 1257.6,465.3 1258.8,465.7 1259.9,466 1261,466.4 1262.1,466.8 1263.2,467.2 1264.3,467.7 1265.4,468.2 1266.4,468.7 1267.5,469.3 1268.5,469.8 1269.5,470.4 1270.4,471.1 1271.4,471.7 1272.4,472.4 1273.3,473.1 1274.2,473.8 1275.1,474.5 1276,475.3 1276.9,476.1 1277.7,476.9 1278.6,477.7 1279.4,478.5 1280.2,479.4 1281.1,480.2 1281.9,481.1 1282.7,482 1283.5,482.9 1284.2,483.8 1285,484.8 1285.8,485.7 1286.5,486.6 1287.3,487.6 1288,488.6 1288.8,489.6 1289.5,490.6 1290.2,491.5 1291,492.5 1291.7,493.6 1292.4,494.6 1293.1,495.6 1293.8,496.6 1294.5,497.6 1295.3,498.6 1296,499.7 1296.7,500.7 1297.4,501.7 1298.1,502.7 1298.9,503.7 1299.6,504.7 1300.3,505.8 1301,506.8 1301.8,507.8 1302.5,508.8 1303.3,509.7 1304,510.7 1304.8,511.7 1305.5,512.7 1306.3,513.6 1307.1,514.5 1307.9,515.5 1308.7,516.4 1309.5,517.3 1310.3,518.2 1311.1,519.1 1311.9,520 1312.8,520.8 1313.6,521.7 1314.5,522.5 1315.3,523.3 1316.2,524.1 1317.1,525 1318,525.7 1318.9,526.5 1319.8,527.3 1320.7,528.1 1321.6,528.8 1322.5,529.6 1323.4,530.3 1324.4,531 1325.3,531.7 1326.3,532.4 1327.2,533.1 1328.2,533.8 1329.1,534.4 1330.1,535.1 1331.1,535.8 1332.1,536.4 1333.1,537 1334.1,537.6 1335.1,538.2 1336.1,538.8 1337.1,539.4 1338.1,540 1339.2,540.6 1340.2,541.1 1341.3,541.7 1342.3,542.2 1343.4,542.7 1344.4,543.2 1345.5,543.7 1346.5,544.2 1347.6,544.7 1348.7,545.2 1349.8,545.7 1350.9,546.1 1352,546.6 1353.1,547 1354.2,547.5 1355.3,547.9 1356.4,548.3 1357.5,548.7 1358.6,549.1 1359.7,549.5 1360.9,549.9 1362,550.2 1363.1,550.6 1364.3,551 1365.4,551.3 1366.5,551.6 1367.7,552 1368.8,552.3 1370,552.6 1371.2,552.9 1372.3,553.2 1373.5,553.5 1374.7,553.7 1375.8,554 1377,554.3 1378.2,554.5 1379.4,554.7 1380.5,555 1381.7,555.2 1382.9,555.4 1384.1,555.6 1385.3,555.8 1386.5,556 1387.7,556.2 1388.9,556.4 1390.1,556.6 1391.3,556.7 1392.5,556.9 1393.7,557 1394.9,557.2 1396.1,557.3 1397.3,557.4 1398.5,557.6 1399.7,557.7 1400.9,557.8 1402.1,557.9 1403.4,558 1404.6,558 1405.8,558.1 1407,558.2 1408.2,558.2 1409.4,558.3 1410.7,558.3 1411.9,558.4 1413.1,558.4 1414.3,558.4 1415.5,558.5 1416.7,558.5 1418,558.5 1419.2,558.5 1420.4,558.5 1421.6,558.5 1422.8,558.4 1424,558.4 1425.3,558.4 1426.5,558.4 1427.5,559L1427.5,559 1428.1,558 1429.3,558 1430.4,558 1431.6,558 1432.8,558 1433.9,558 1435.1,558 1436.3,558 1437.5,558 1438.7,558 1439.9,558.1 1441.1,558.1 1442.3,558.1 1443.5,558.2 1444.7,558.2 1445.9,558.2 1447.1,558.3 1448.3,558.3 1449.5,558.4 1450.7,558.4 1451.9,558.5 1453.1,558.6 1454.3,558.6 1455.5,558.7 1456.7,558.8 1458,558.8 1459.2,558.9 1460.4,559 1461.6,559.1 1462.8,559.1 1464.1,559.2 1465.3,559.3 1466.5,559.4 1467.7,559.5 1469,559.6 1470.2,559.7 1471.4,559.8 1472.6,559.9 1473.9,560 1475.1,560 1476.3,560.1 1477.6,560.2 1478.8,560.3 1480,560.5 1481.2,560.6 1482.5,560.7 1483.7,560.8 1484.9,560.9 1486.2,561 1487.4,561.1 1488.6,561.2 1489.9,561.3 1491.1,561.4 1492.3,561.5 1493.5,561.6 1494.8,561.7 1496,561.8 1497.2,562 1498.5,562.1 1499.7,562.2 1500.9,562.3 1502.1,562.4 1503.4,562.5 1504.6,562.6 1505.8,562.7 1507,562.8 1508.2,562.9 1509.4,563 1510.7,563.1 1511.9,563.2 1513.1,563.3 1514.3,563.4 1515.5,563.5 1516.7,563.6 1517.9,563.7 1519.1,563.8 1520.3,563.9 1521.5,564 1522.7,564.1 1524,564.3L1524,564.3 1524.2,562.7 1525.2,562.5 1526.2,562.2 1527.3,562 1528.4,561.8 1529.4,561.6 1530.5,561.5 1531.7,561.3 1532.8,561.2 1533.9,561.1 1535.1,561 1536.2,561 1537.4,560.9 1538.5,560.9 1539.7,560.8 1540.9,560.8 1542.1,560.8 1543.3,560.8 1544.5,560.8 1545.7,560.8 1546.9,560.9 1548.2,560.9 1549.4,560.9 1550.6,561 1551.9,561 1553.1,561 1554.3,561.1 1555.6,561.1 1556.8,561.2 1558,561.3 1559.3,561.3 1560.5,561.4 1561.8,561.4 1563,561.5 1564.3,561.6 1565.5,561.6 1566.7,561.7 1568,561.8 1569.2,561.8 1570.5,561.9 1571.7,561.9 1573,562 1574.2,562 1575.4,562.1 1576.7,562.1 1577.9,562.2 1579.1,562.2 1580.4,562.3 1581.6,562.3 1582.8,562.3 1584,562.4 1585.3,562.4 1586.5,562.4 1587.7,562.5 1589,562.5 1590.2,562.5 1591.4,562.6 1592.6,562.6 1593.9,562.6 1595.1,562.7 1596.3,562.7 1597.5,562.7 1598.7,562.7 1600,562.8 1601.2,562.8 1602.4,562.8 1603.6,562.8 1604.8,562.9 1606.1,562.9 1607.3,562.9 1608.5,562.9 1609.7,563 1611,563 1612.2,563 1613.4,563 1614.6,563.1 1615.8,563.1 1617.1,563.1 1618.3,563.2 1619.5,563.2 1620.7,563.2 1622,563.3" fill="none" stroke="#0000d8" stroke-width="2.6" stroke-linejoin="round" stroke-linecap="round" clip-path="url(#cb)"/>
<path d="M987.6,5 987.7,6.3 987.8,7.5 987.9,8.7 988.1,9.9 988.2,11.1 988.3,12.2 988.4,13.4 988.5,14.6 988.6,15.8 988.7,17 988.8,18.2 988.9,19.4 989,20.6 989.1,21.8 989.2,23 989.3,24.2 989.4,25.4 989.5,26.5 989.6,27.7 989.7,28.9 989.8,30.1 989.9,31.3 990,32.5 990,33.7 990.1,34.9 990.2,36.1 990.3,37.3 990.4,38.5 990.5,39.7 990.6,40.9 990.7,42.1 990.8,43.3 990.9,44.5 991,45.7 991.1,46.9 991.1,48.1 991.2,49.3 991.3,50.5 991.4,51.7 991.5,52.9 991.6,54.1 991.7,55.3 991.8,56.5 991.9,57.7 991.9,58.9 992,60.1 992.1,61.3 992.2,62.5 992.3,63.7 992.4,64.9 992.5,66.1 992.5,67.3 992.6,68.5 992.7,69.7 992.8,70.9 992.9,72.1 993,73.3 993.1,74.5 993.1,75.7 993.2,76.9 993.3,78.1 993.4,79.3 993.5,80.5 993.6,81.7 993.6,82.9 993.7,84.1 993.8,85.3 993.9,86.5 994,87.7 994.1,88.9 994.1,90.1 994.2,91.3 994.3,92.5 994.4,93.7 994.5,94.9 994.6,96.1 994.6,97.3 994.7,98.5 994.8,99.7 994.9,100.9 995,102.1 995.1,103.3 995.1,104.5 995.2,105.7 995.3,106.9 995.4,108.1 995.5,109.3 995.6,110.5 995.7,111.7 995.7,112.9 995.8,114.1 995.9,115.3 996,116.5 996.1,117.7 996.2,118.9 996.3,120.1 996.3,121.3 996.4,122.5 996.5,123.7 996.6,124.9 996.7,126.1 996.8,127.3 996.9,128.5 996.9,129.7 997,130.9 997.1,132.1 997.2,133.3 997.3,134.5 997.4,135.7 997.5,136.9 997.6,138.1 997.7,139.3 997.8,140.5 997.9,141.7 997.9,142.9 998,144.1 998.1,145.3 998.2,146.5 998.3,147.7 998.4,148.9 998.5,150.1 998.6,151.3 998.7,152.5 998.8,153.7 998.9,154.9 999,156.1 999.1,157.3 999.2,158.5 999.3,159.7 999.4,160.9 999.5,162.1 999.6,163.3 999.7,164.5 999.8,165.7 999.9,166.9 1000,168.1 1000.1,169.3 1000.2,170.5 1000.3,171.7 1000.4,172.9 1000.5,174.1 1000.6,175.3 1000.7,176.5 1000.8,177.7 1001,178.9 1001.1,180.1 1001.2,181.3 1001.3,182.5 1001.4,183.7 1001.5,184.9 1001.6,186.1 1001.7,187.3 1001.9,188.5 1002,189.7 1002.1,190.9 1002.2,192 1002.3,193.2 1002.4,194.4 1002.6,195.6 1002.7,196.8 1002.8,198 1002.9,199.2 1003.1,200.4 1003.2,201.6 1003.3,202.8 1003.4,204 1003.6,205.2 1003.7,206.4 1003.8,207.5 1003.9,208.7 1004.1,209.9 1004.2,211.1 1004.3,212.3 1004.5,213.5 1004.6,214.7 1004.7,215.9 1004.9,217.1 1005,218.2 1005.2,219.4 1005.3,220.6 1005.4,221.8 1005.6,223 1005.7,224.2 1005.9,225.4 1006,226.5 1006.2,227.7 1006.3,228.9 1006.5,230.1 1006.6,231.3 1006.8,232.5 1006.9,233.7 1007.1,234.8 1007.2,236 1007.4,237.2 1007.5,238.4 1007.7,239.6 1007.9,240.7 1008,241.9 1008.2,243.1 1008.3,244.3 1008.5,245.5 1008.7,246.6 1008.8,247.8 1009,249 1009.2,250.2 1009.4,251.4 1009.5,252.5 1009.7,253.7 1009.9,254.9 1010.1,256.1 1010.3,257.3 1010.5,258.5 1010.7,259.6 1010.9,260.8 1011.1,262 1011.4,263.2 1011.6,264.4 1011.8,265.6 1012.1,266.8 1012.3,268 1012.6,269.2 1012.9,270.4 1013.2,271.7 1013.5,272.9 1013.8,274.1 1014.1,275.3 1014.5,276.6 1014.8,277.8 1015.2,279 1015.5,280.3 1015.9,281.6 1016.3,282.8 1016.8,284.1 1017.2,285.3 1017.6,286.6 1018.1,287.8 1018.6,289.1 1019.1,290.3 1019.6,291.5 1020.2,292.6 1020.8,293.7 1021.4,294.7 1022,295.7 1022.6,296.6 1023.3,297.4 1024,298.2 1024.8,298.9 1025.5,299.5 1026.3,300 1027.2,300.4 1028,300.7 1028.9,300.8 1029.9,300.9 1030.9,300.8 1031.9,300.6 1032.9,300.3 1033.9,299.9 1034.9,299.4 1035.9,298.8 1036.8,298.1 1037.7,297.4 1038.6,296.6 1039.4,295.8 1040.1,294.9 1040.9,294 1041.5,293 1042.2,292 1042.8,290.9 1043.4,289.8 1043.9,288.7 1044.4,287.6 1044.9,286.4 1045.4,285.2 1045.9,284 1046.3,282.7 1046.8,281.5 1047.2,280.3 1047.6,279 1048,277.8 1048.4,276.5 1048.8,275.3 1049.2,274.1 1049.6,272.9 1050.1,271.7 1050.5,270.5 1050.9,269.4 1051.4,268.3 1051.9,267.2 1052.4,266.1 1052.9,265.1 1053.4,264.1 1053.9,263.1 1054.5,262.1 1055,261.2 1055.6,260.2 1056.1,259.2 1056.6,258.3 1057.1,257.3 1057.6,256.3 1058.1,255.2 1058.6,254.2 1059,253.1 1059.4,251.9 1059.8,250.7 1060.1,249.5 1060.5,248.2 1060.8,246.9 1061.1,245.6 1061.4,244.3 1061.7,243 1062,241.7 1062.3,240.4 1062.7,239.1 1063.1,237.8 1063.5,236.6 1063.9,235.4 1064.5,234.3 1065,233.2 1065.7,232.2 1066.4,231.2 1067.1,230.3 1068,229.5 1068.9,228.8 1069.8,228.2 1070.8,227.7 1071.8,227.2 1072.8,226.9 1073.8,226.6 1074.8,226.5 1075.8,226.4 1076.8,226.5 1077.8,226.7 1078.6,227 1079.5,227.4 1080.2,227.9 1081,228.5 1081.6,229.2 1082.3,230 1082.8,230.9 1083.4,231.8 1083.9,232.8 1084.4,233.9 1084.8,235 1085.3,236.2 1085.7,237.4 1086,238.6 1086.4,239.8 1086.8,241.1 1087.1,242.3 1087.5,243.6 1087.8,244.9 1088.1,246.1 1088.5,247.4 1088.8,248.6 1089.1,249.8 1089.5,251.1 1089.8,252.3 1090.1,253.5 1090.4,254.8 1090.7,256 1091,257.2 1091.3,258.4 1091.6,259.7 1091.9,260.9 1092.2,262.1 1092.5,263.3 1092.8,264.5 1093.1,265.7 1093.4,266.9 1093.7,268.1 1094,269.3 1094.2,270.5 1094.5,271.7 1094.8,272.8 1095.1,274 1095.3,275.2 1095.6,276.4 1095.9,277.6 1096.1,278.7 1096.4,279.9 1096.6,281.1 1096.9,282.3 1097.2,283.4 1097.4,284.6 1097.7,285.8 1097.9,286.9 1098.2,288.1 1098.4,289.3 1098.7,290.4 1098.9,291.6 1099.1,292.8 1099.4,293.9 1099.6,295.1 1099.9,296.2 1100.1,297.4 1100.3,298.6 1100.6,299.7 1100.8,300.9 1101,302 1101.3,303.2 1101.5,304.4 1101.7,305.5 1102,306.7 1102.2,307.8 1102.4,309 1102.7,310.1 1102.9,311.3 1103.1,312.5 1103.4,313.6 1103.6,314.8 1103.8,315.9 1104,317.1 1104.3,318.3 1104.5,319.4 1104.7,320.6 1105,321.8 1105.2,322.9 1105.4,324.1 1105.6,325.3 1105.9,326.4 1106.1,327.6 1106.3,328.8 1106.6,329.9 1106.8,331.1 1107,332.3 1107.2,333.5 1107.5,334.6 1107.7,335.8 1107.9,337 1108.2,338.2 1108.4,339.3 1108.6,340.5 1108.8,341.7 1109.1,342.9 1109.3,344 1109.5,345.2 1109.8,346.4 1110,347.6 1110.2,348.8 1110.4,349.9 1110.7,351.1 1110.9,352.3 1111.1,353.5 1111.4,354.7 1111.6,355.9 1111.8,357 1112.1,358.2 1112.3,359.4 1112.5,360.6 1112.7,361.8 1113,363 1113.2,364.1 1113.4,365.3 1113.7,366.5 1113.9,367.7 1114.1,368.9 1114.3,370.1 1114.6,371.3 1114.8,372.5 1115,373.6 1115.3,374.8 1115.5,376 1115.7,377.2 1115.9,378.4 1116.2,379.6 1116.4,380.8 1116.6,382 1116.9,383.1 1117.1,384.3 1117.3,385.5 1117.6,386.7 1117.8,387.9 1118,389.1 1118.2,390.3 1118.5,391.5 1118.7,392.7 1118.9,393.8 1119.2,395 1119.4,396.2 1119.6,397.4 1119.9,398.6 1120.1,399.8 1120.3,401 1120.5,402.2 1120.8,403.3 1121,404.5 1121.2,405.7 1121.5,406.9 1121.7,408.1 1121.9,409.3 1122.2,410.5 1122.4,411.6 1122.6,412.8 1122.8,414 1123.1,415.2 1123.3,416.4 1123.5,417.6 1123.8,418.7 1124,419.9 1124.2,421.1 1124.5,422.3 1124.7,423.5 1124.9,424.6 1125.2,425.8 1125.4,427 1125.6,428.2 1125.8,429.4 1126.1,430.5 1126.3,431.7 1126.5,432.9 1126.8,434.1 1127,435.2 1127.2,436.4 1127.5,437.6 1127.7,438.8 1127.9,439.9 1128.2,441.1 1128.4,442.3 1128.6,443.5 1128.9,444.6 1129.1,445.8 1129.3,447 1129.6,448.1 1129.8,449.3 1130.1,450.5 1130.3,451.6 1130.6,452.8 1130.8,453.9 1131.1,455.1 1131.4,456.3 1131.6,457.4 1131.9,458.6 1132.2,459.7 1132.5,460.9 1132.8,462 1133.1,463.2 1133.4,464.3 1133.7,465.5 1134,466.6 1134.4,467.8 1134.7,468.9 1135.1,470.1 1135.4,471.2 1135.8,472.3 1136.2,473.5 1136.6,474.6 1137,475.7 1137.4,476.9 1137.8,478 1138.3,479.1 1138.7,480.2 1139.2,481.4 1139.6,482.5 1140.1,483.6 1140.6,484.7 1141.1,485.8 1141.7,486.9 1142.2,488 1142.8,489.1 1143.3,490.3 1143.9,491.4 1144.5,492.4 1145.2,493.5 1145.8,494.6 1146.5,495.7 1147.1,496.8 1147.8,497.9 1148.5,498.9 1149.2,500 1149.9,501 1150.7,502.1 1151.4,503.1 1152.2,504.1 1153,505 1153.8,506 1154.6,506.9 1155.4,507.9 1156.3,508.8 1157.1,509.6 1158,510.5 1158.8,511.3 1159.7,512.1 1160.6,512.9 1161.5,513.6 1162.4,514.3 1163.4,515 1164.3,515.7 1165.3,516.3 1166.2,516.9 1167.2,517.4 1168.2,517.9 1169.1,518.4 1170.1,518.8 1171.2,519.2 1172.2,519.5 1173.2,519.8 1174.2,520 1175.3,520.2 1176.3,520.4 1177.4,520.5 1178.4,520.5 1179.5,520.5 1180.6,520.4 1181.6,520.3 1182.7,520.2 1183.8,520 1184.9,519.7 1186,519.4 1187.1,519.1 1188.3,518.8 1189.4,518.4 1190.5,518 1191.6,517.5 1192.8,517.1 1193.9,516.6 1195,516.1 1196.2,515.5 1197.3,515 1198.5,514.5 1199.6,513.9 1200.8,513.3 1201.9,512.7 1203.1,512.2 1204.2,511.6 1205.4,511 1206.6,510.4 1207.7,509.8 1208.9,509.2 1210,508.7 1211.2,508.1 1212.4,507.5 1213.5,506.9 1214.7,506.3 1215.8,505.8 1217,505.2 1218.2,504.7 1219.3,504.1 1220.5,503.6 1221.6,503 1222.8,502.5 1224,502 1225.1,501.5 1226.3,501 1227.4,500.5 1228.6,500 1229.7,499.6 1230.9,499.1 1232,498.7 1233.2,498.3 1234.3,497.9 1235.5,497.5 1236.6,497.2 1237.7,496.8 1238.9,496.5 1240,496.2 1241.1,495.9 1242.3,495.6 1243.4,495.4 1244.5,495.2 1245.6,495 1246.7,494.8 1247.9,494.7 1249,494.6 1250.1,494.5 1251.2,494.4 1252.3,494.4 1253.3,494.4 1254.4,494.4 1255.5,494.5 1256.6,494.6 1257.7,494.7 1258.7,494.9 1259.8,495 1260.8,495.3 1261.9,495.5 1262.9,495.8 1264,496.1 1265,496.5 1266.1,496.9 1267.1,497.3 1268.1,497.7 1269.1,498.2 1270.1,498.7 1271.2,499.2 1272.2,499.7 1273.2,500.3 1274.2,500.9 1275.2,501.5 1276.2,502.1 1277.1,502.8 1278.1,503.5 1279.1,504.1 1280.1,504.9 1281.1,505.6 1282.1,506.3 1283,507.1 1284,507.8 1285,508.6 1285.9,509.4 1286.9,510.2 1287.9,511 1288.8,511.9 1289.8,512.7 1290.7,513.5 1291.7,514.4 1292.7,515.2 1293.6,516.1 1294.6,516.9 1295.5,517.8 1296.5,518.6 1297.4,519.5 1298.4,520.4 1299.3,521.2 1300.3,522.1 1301.2,522.9 1302.2,523.8 1303.1,524.6 1304.1,525.5 1305.1,526.3 1306,527.2 1307,528 1307.9,528.8 1308.9,529.6 1309.8,530.4 1310.8,531.2 1311.7,531.9 1312.7,532.7 1313.7,533.4 1314.6,534.2 1315.6,534.9 1316.6,535.6 1317.5,536.3 1318.5,537 1319.5,537.7 1320.5,538.3 1321.5,539 1322.4,539.6 1323.4,540.3 1324.4,540.9 1325.4,541.5 1326.4,542.1 1327.4,542.7 1328.4,543.3 1329.4,543.8 1330.4,544.4 1331.4,544.9 1332.5,545.4 1333.5,545.9 1334.5,546.4 1335.5,546.9 1336.6,547.4 1337.6,547.9 1338.7,548.3 1339.7,548.7 1340.8,549.2 1341.8,549.6 1342.9,550 1344,550.4 1345,550.7 1346.1,551.1 1347.2,551.4 1348.3,551.8 1349.4,552.1 1350.5,552.4 1351.6,552.7 1352.7,553 1353.9,553.3 1355,553.5 1356.1,553.7 1357.3,554 1358.4,554.2 1359.6,554.4 1360.7,554.6 1361.9,554.7 1363.1,554.9 1364.3,555.1 1365.5,555.2 1366.7,555.3 1367.9,555.4 1369.1,555.5 1370.3,555.6 1371.5,555.7 1372.8,555.7 1374,555.8 1375.3,555.8 1376.5,555.9 1377.7,555.9 1379,555.9 1380.2,555.9 1381.5,556 1382.8,556 1384,556 1385.3,556 1386.5,556 1387.8,556 1389.1,556 1390.3,556 1391.6,555.9 1392.8,555.9 1394.1,555.9 1395.3,555.9 1396.6,555.9 1397.8,555.9 1399.1,555.9 1400.3,555.9 1401.6,555.9 1402.8,555.9 1404,555.9 1405.3,556 1406.5,556 1407.7,556 1408.9,556.1 1410.1,556.1 1411.3,556.2 1412.5,556.3 1413.7,556.3 1414.9,556.4 1416,556.5 1417.2,556.6 1418.3,556.8 1419.5,556.9 1420.6,557.1 1421.7,557.2 1422.8,557.4 1423.9,557.6 1425,557.8 1426.1,558 1427.5,558L1427.5,558 1428.1,557 1429.3,557 1430.4,557 1431.6,557 1432.8,557 1433.9,557 1435.1,557 1436.3,557 1437.5,557 1438.7,557 1439.9,557.1 1441.1,557.1 1442.3,557.1 1443.5,557.2 1444.7,557.2 1445.9,557.2 1447.1,557.3 1448.3,557.3 1449.5,557.4 1450.7,557.4 1451.9,557.5 1453.1,557.6 1454.3,557.6 1455.5,557.7 1456.7,557.8 1458,557.8 1459.2,557.9 1460.4,558 1461.6,558.1 1462.8,558.1 1464.1,558.2 1465.3,558.3 1466.5,558.4 1467.7,558.5 1469,558.6 1470.2,558.7 1471.4,558.8 1472.6,558.9 1473.9,559 1475.1,559 1476.3,559.1 1477.6,559.2 1478.8,559.3 1480,559.5 1481.2,559.6 1482.5,559.7 1483.7,559.8 1484.9,559.9 1486.2,560 1487.4,560.1 1488.6,560.2 1489.9,560.3 1491.1,560.4 1492.3,560.5 1493.5,560.6 1494.8,560.7 1496,560.8 1497.2,561 1498.5,561.1 1499.7,561.2 1500.9,561.3 1502.1,561.4 1503.4,561.5 1504.6,561.6 1505.8,561.7 1507,561.8 1508.2,561.9 1509.4,562 1510.7,562.1 1511.9,562.2 1513.1,562.3 1514.3,562.4 1515.5,562.5 1516.7,562.6 1517.9,562.7 1519.1,562.8 1520.3,562.9 1521.5,563 1522.7,563.1 1524,563.3L1524,563.3 1524.2,561.7 1525.2,561.5 1526.2,561.2 1527.3,561 1528.4,560.8 1529.4,560.6 1530.5,560.5 1531.7,560.3 1532.8,560.2 1533.9,560.1 1535.1,560 1536.2,560 1537.4,559.9 1538.5,559.9 1539.7,559.8 1540.9,559.8 1542.1,559.8 1543.3,559.8 1544.5,559.8 1545.7,559.8 1546.9,559.9 1548.2,559.9 1549.4,559.9 1550.6,560 1551.9,560 1553.1,560 1554.3,560.1 1555.6,560.1 1556.8,560.2 1558,560.3 1559.3,560.3 1560.5,560.4 1561.8,560.4 1563,560.5 1564.3,560.6 1565.5,560.6 1566.7,560.7 1568,560.8 1569.2,560.8 1570.5,560.9 1571.7,560.9 1573,561 1574.2,561 1575.4,561.1 1576.7,561.1 1577.9,561.2 1579.1,561.2 1580.4,561.3 1581.6,561.3 1582.8,561.3 1584,561.4 1585.3,561.4 1586.5,561.4 1587.7,561.5 1589,561.5 1590.2,561.5 1591.4,561.6 1592.6,561.6 1593.9,561.6 1595.1,561.7 1596.3,561.7 1597.5,561.7 1598.7,561.7 1600,561.8 1601.2,561.8 1602.4,561.8 1603.6,561.8 1604.8,561.9 1606.1,561.9 1607.3,561.9 1608.5,561.9 1609.7,562 1611,562 1612.2,562 1613.4,562 1614.6,562.1 1615.8,562.1 1617.1,562.1 1618.3,562.2 1619.5,562.2 1620.7,562.2 1622,562.3" fill="none" stroke="#22e6e6" stroke-width="2.6" stroke-linejoin="round" stroke-linecap="round" clip-path="url(#cb)"/>
<rect x="971.4" y="15" width="650" height="563" fill="none" stroke="#000" stroke-width="2.6"/>
<line x1="960.9" y1="563.9" x2="971.4" y2="563.9" stroke="#000" stroke-width="2.6"/>
<line x1="960.9" y1="426.7" x2="971.4" y2="426.7" stroke="#000" stroke-width="2.6"/>
<line x1="960.9" y1="289.4" x2="971.4" y2="289.4" stroke="#000" stroke-width="2.6"/>
<line x1="960.9" y1="152.2" x2="971.4" y2="152.2" stroke="#000" stroke-width="2.6"/>
<line x1="960.9" y1="15" x2="971.4" y2="15" stroke="#000" stroke-width="2.6"/>
<line x1="965.9" y1="495.3" x2="971.4" y2="495.3" stroke="#000" stroke-width="2.6"/>
<line x1="965.9" y1="358.1" x2="971.4" y2="358.1" stroke="#000" stroke-width="2.6"/>
<line x1="965.9" y1="220.8" x2="971.4" y2="220.8" stroke="#000" stroke-width="2.6"/>
<line x1="965.9" y1="83.6" x2="971.4" y2="83.6" stroke="#000" stroke-width="2.6"/>
<line x1="971.3" y1="578" x2="971.3" y2="589" stroke="#000" stroke-width="2.6"/>
<line x1="1133.8" y1="578" x2="1133.8" y2="589" stroke="#000" stroke-width="2.6"/>
<line x1="1296.3" y1="578" x2="1296.3" y2="589" stroke="#000" stroke-width="2.6"/>
<line x1="1458.8" y1="578" x2="1458.8" y2="589" stroke="#000" stroke-width="2.6"/>
<line x1="1621.3" y1="578" x2="1621.3" y2="589" stroke="#000" stroke-width="2.6"/>
<line x1="1052.5" y1="578" x2="1052.5" y2="584" stroke="#000" stroke-width="2.6"/>
<line x1="1215" y1="578" x2="1215" y2="584" stroke="#000" stroke-width="2.6"/>
<line x1="1377.5" y1="578" x2="1377.5" y2="584" stroke="#000" stroke-width="2.6"/>
<line x1="1540" y1="578" x2="1540" y2="584" stroke="#000" stroke-width="2.6"/>
<text transform="translate(954.8 579.7) scale(1 1.06)" font-size="33.7" text-anchor="end">0.0</text>
<text transform="translate(954.8 442.5) scale(1 1.06)" font-size="33.7" text-anchor="end">0.5</text>
<text transform="translate(954.8 305.2) scale(1 1.06)" font-size="33.7" text-anchor="end">1.0</text>
<text transform="translate(954.8 168) scale(1 1.06)" font-size="33.7" text-anchor="end">1.5</text>
<text transform="translate(954.8 30.8) scale(1 1.06)" font-size="33.7" text-anchor="end">2.0</text>
<text transform="translate(971.3 630) scale(1 1.06)" font-size="33.7" text-anchor="middle">200</text>
<text transform="translate(1133.8 630) scale(1 1.06)" font-size="33.7" text-anchor="middle">250</text>
<text transform="translate(1296.3 630) scale(1 1.06)" font-size="33.7" text-anchor="middle">300</text>
<text transform="translate(1458.8 630) scale(1 1.06)" font-size="33.7" text-anchor="middle">350</text>
<text transform="translate(1621.3 630) scale(1 1.06)" font-size="33.7" text-anchor="middle">400</text>
<text transform="translate(1297 684.7) scale(1 1.035)" font-size="38.9" text-anchor="middle">Wavelength (nm)</text>
<text transform="translate(879.7 297.6) rotate(-90) scale(1 1.03)" font-size="38.9" text-anchor="middle">Absorption</text>
<text x="822.65 835.6 859.4" y="44.2" font-size="38">(b)</text>
<text x="1016" y="65.1" font-size="33.7" text-anchor="start">Au@hmC-FeCo/GCs</text>
<line x1="1467.7" y1="53.6" x2="1528.1" y2="53.6" stroke="#000000" stroke-width="2.6"/>
<text x="1537.5" y="63.8" font-size="29.2" text-anchor="start">0 min</text>
<line x1="1467.7" y1="87.8" x2="1528.1" y2="87.8" stroke="#e00000" stroke-width="2.6"/>
<text x="1537.5" y="98" font-size="29.2" text-anchor="start">1</text>
<line x1="1467.7" y1="122" x2="1528.1" y2="122" stroke="#1ee01e" stroke-width="2.6"/>
<text x="1537.5" y="132.2" font-size="29.2" text-anchor="start">2</text>
<line x1="1467.7" y1="156.2" x2="1528.1" y2="156.2" stroke="#0000d8" stroke-width="2.6"/>
<text x="1537.5" y="166.4" font-size="29.2" text-anchor="start">3</text>
<line x1="1467.7" y1="190.4" x2="1528.1" y2="190.4" stroke="#22e6e6" stroke-width="2.6"/>
<text x="1537.5" y="200.6" font-size="29.2" text-anchor="start">4</text>
<polyline points="148.5,781.3 744,1210.6" fill="none" stroke="#dc0000" stroke-width="2.8" stroke-linejoin="round" clip-path="url(#cc)"/>
<polyline points="148.5,781.8 527.5,1171.5" fill="none" stroke="#0000e6" stroke-width="2.8" stroke-linejoin="round" clip-path="url(#cc)"/>
<polyline points="148.5,783 582,1190.9" fill="none" stroke="#000" stroke-width="2.8" stroke-linejoin="round" clip-path="url(#cc)"/>
<ellipse cx="202.8" cy="818.7" rx="4.6" ry="5.8" fill="#ff0000" stroke="#d40000" stroke-width="0.8"/>
<ellipse cx="256.4" cy="858.7" rx="4.6" ry="5.8" fill="#ff0000" stroke="#d40000" stroke-width="0.8"/>
<ellipse cx="310.9" cy="896.8" rx="4.6" ry="5.8" fill="#ff0000" stroke="#d40000" stroke-width="0.8"/>
<ellipse cx="365" cy="935.6" rx="4.6" ry="5.8" fill="#ff0000" stroke="#d40000" stroke-width="0.8"/>
<ellipse cx="419" cy="979.5" rx="4.6" ry="5.8" fill="#ff0000" stroke="#d40000" stroke-width="0.8"/>
<ellipse cx="473.3" cy="1017.3" rx="4.6" ry="5.8" fill="#ff0000" stroke="#d40000" stroke-width="0.8"/>
<ellipse cx="527.4" cy="1053.6" rx="4.6" ry="5.8" fill="#ff0000" stroke="#d40000" stroke-width="0.8"/>
<ellipse cx="581.9" cy="1096.7" rx="4.6" ry="5.8" fill="#ff0000" stroke="#d40000" stroke-width="0.8"/>
<ellipse cx="636" cy="1134.6" rx="4.6" ry="5.8" fill="#ff0000" stroke="#d40000" stroke-width="0.8"/>
<ellipse cx="690.1" cy="1169.9" rx="4.6" ry="5.8" fill="#ff0000" stroke="#d40000" stroke-width="0.8"/>
<ellipse cx="744" cy="1210.1" rx="4.6" ry="5.8" fill="#ff0000" stroke="#d40000" stroke-width="0.8"/>
<g clip-path="url(#cc)">
<rect x="143.6" y="775" width="9.6" height="10.5" fill="#0000ff"/>
</g>
<rect x="197" y="832" width="9.6" height="10.5" fill="#0000ff"/>
<rect x="251.6" y="887.9" width="9.6" height="10.5" fill="#0000ff"/>
<rect x="306.1" y="941.4" width="9.6" height="10.5" fill="#0000ff"/>
<rect x="359.8" y="1000" width="9.6" height="10.5" fill="#0000ff"/>
<rect x="414.4" y="1052" width="9.6" height="10.5" fill="#0000ff"/>
<rect x="468.5" y="1106.2" width="9.6" height="10.5" fill="#0000ff"/>
<rect x="522.7" y="1173.7" width="9.6" height="10.5" fill="#0000ff"/>
<polygon points="202,826.2 195.6,838.8 208.4,838.8" fill="#000"/>
<polygon points="256.4,875.2 249.9,887.8 262.8,887.8" fill="#000"/>
<polygon points="310.9,926.2 304.4,938.8 317.3,938.8" fill="#000"/>
<polygon points="364.9,977.2 358.4,989.8 371.3,989.8" fill="#000"/>
<polygon points="419.4,1037.8 412.9,1050.3 425.8,1050.3" fill="#000"/>
<polygon points="473.3,1080.8 466.9,1093.2 479.8,1093.2" fill="#000"/>
<polygon points="527.4,1130.2 520.9,1142.8 533.9,1142.8" fill="#000"/>
<polygon points="581.7,1182 575.2,1194.5 588.2,1194.5" fill="#000"/>
<rect x="148.3" y="733.4" width="650.2" height="563.2" fill="none" stroke="#000" stroke-width="2.6"/>
<line x1="137.8" y1="780.3" x2="148.3" y2="780.3" stroke="#000" stroke-width="2.6"/>
<line x1="137.8" y1="874.2" x2="148.3" y2="874.2" stroke="#000" stroke-width="2.6"/>
<line x1="137.8" y1="968.1" x2="148.3" y2="968.1" stroke="#000" stroke-width="2.6"/>
<line x1="137.8" y1="1061.9" x2="148.3" y2="1061.9" stroke="#000" stroke-width="2.6"/>
<line x1="137.8" y1="1155.8" x2="148.3" y2="1155.8" stroke="#000" stroke-width="2.6"/>
<line x1="137.8" y1="1249.7" x2="148.3" y2="1249.7" stroke="#000" stroke-width="2.6"/>
<line x1="142.8" y1="733.4" x2="148.3" y2="733.4" stroke="#000" stroke-width="2.6"/>
<line x1="142.8" y1="827.2" x2="148.3" y2="827.2" stroke="#000" stroke-width="2.6"/>
<line x1="142.8" y1="921.1" x2="148.3" y2="921.1" stroke="#000" stroke-width="2.6"/>
<line x1="142.8" y1="1015" x2="148.3" y2="1015" stroke="#000" stroke-width="2.6"/>
<line x1="142.8" y1="1108.9" x2="148.3" y2="1108.9" stroke="#000" stroke-width="2.6"/>
<line x1="142.8" y1="1202.8" x2="148.3" y2="1202.8" stroke="#000" stroke-width="2.6"/>
<line x1="142.8" y1="1296.6" x2="148.3" y2="1296.6" stroke="#000" stroke-width="2.6"/>
<line x1="148.3" y1="1296.6" x2="148.3" y2="1307.6" stroke="#000" stroke-width="2.6"/>
<line x1="256.7" y1="1296.6" x2="256.7" y2="1307.6" stroke="#000" stroke-width="2.6"/>
<line x1="365" y1="1296.6" x2="365" y2="1307.6" stroke="#000" stroke-width="2.6"/>
<line x1="473.4" y1="1296.6" x2="473.4" y2="1307.6" stroke="#000" stroke-width="2.6"/>
<line x1="581.7" y1="1296.6" x2="581.7" y2="1307.6" stroke="#000" stroke-width="2.6"/>
<line x1="690.1" y1="1296.6" x2="690.1" y2="1307.6" stroke="#000" stroke-width="2.6"/>
<line x1="798.5" y1="1296.6" x2="798.5" y2="1307.6" stroke="#000" stroke-width="2.6"/>
<line x1="202.5" y1="1296.6" x2="202.5" y2="1302.6" stroke="#000" stroke-width="2.6"/>
<line x1="310.8" y1="1296.6" x2="310.8" y2="1302.6" stroke="#000" stroke-width="2.6"/>
<line x1="419.2" y1="1296.6" x2="419.2" y2="1302.6" stroke="#000" stroke-width="2.6"/>
<line x1="527.6" y1="1296.6" x2="527.6" y2="1302.6" stroke="#000" stroke-width="2.6"/>
<line x1="635.9" y1="1296.6" x2="635.9" y2="1302.6" stroke="#000" stroke-width="2.6"/>
<line x1="744.3" y1="1296.6" x2="744.3" y2="1302.6" stroke="#000" stroke-width="2.6"/>
<text transform="translate(131.2 792.4) scale(1 1.06)" font-size="33.7" text-anchor="end">0.0</text>
<text transform="translate(131.2 886.3) scale(1 1.06)" font-size="33.7" text-anchor="end">-1.0</text>
<text transform="translate(131.2 980.2) scale(1 1.06)" font-size="33.7" text-anchor="end">-2.0</text>
<text transform="translate(131.2 1074) scale(1 1.06)" font-size="33.7" text-anchor="end">-3.0</text>
<text transform="translate(131.2 1167.9) scale(1 1.06)" font-size="33.7" text-anchor="end">-4.0</text>
<text transform="translate(131.2 1261.8) scale(1 1.06)" font-size="33.7" text-anchor="end">-5.0</text>
<text transform="translate(148.3 1347.3) scale(1 1.06)" font-size="33.7" text-anchor="middle">0</text>
<text transform="translate(256.7 1347.3) scale(1 1.06)" font-size="33.7" text-anchor="middle">2</text>
<text transform="translate(365 1347.3) scale(1 1.06)" font-size="33.7" text-anchor="middle">4</text>
<text transform="translate(473.4 1347.3) scale(1 1.06)" font-size="33.7" text-anchor="middle">6</text>
<text transform="translate(581.7 1347.3) scale(1 1.06)" font-size="33.7" text-anchor="middle">8</text>
<text transform="translate(690.1 1347.3) scale(1 1.06)" font-size="33.7" text-anchor="middle">10</text>
<text transform="translate(798.5 1347.3) scale(1 1.06)" font-size="33.7" text-anchor="middle">12</text>
<text transform="translate(466.5 1403) scale(1 1.035)" font-size="39" text-anchor="middle">Time (min)</text>
<text x="57.5" y="1014.8" font-size="38.3" text-anchor="middle" transform="rotate(-90 57.5 1014.8)">ln(<tspan font-style="italic">C</tspan><tspan font-size="26" dy="8">t</tspan><tspan dy="-8">/</tspan><tspan font-style="italic">C</tspan><tspan font-size="26" dy="8">0</tspan><tspan dy="-8">)</tspan></text>
<text x="0.25 12.56 34.4" y="762.6" font-size="38">(c)</text>
<ellipse cx="462" cy="776" rx="5" ry="5.8" fill="#ff0000" stroke="#d40000" stroke-width="0.8"/>
<text x="477.6" y="784.8" font-size="29" text-anchor="start">Au NPs</text>
<rect x="457" y="804.3" width="10" height="10.6" fill="#0000ff"/>
<text x="477.6" y="818.7" font-size="29" text-anchor="start">Au@hmCs</text>
<polygon points="462,835.2 455.6,848.2 468.4,848.2" fill="#000"/>
<text x="477.6" y="852.4" font-size="29" text-anchor="start">Au@hmC-FeCo/GCs</text>
<polyline points="974.5,767 1584.8,1081.7" fill="none" stroke="#dc0000" stroke-width="2.8" stroke-linejoin="round" clip-path="url(#cd)"/>
<polyline points="974.5,786 1054.8,962.5" fill="none" stroke="#0000e6" stroke-width="2.8" stroke-linejoin="round" clip-path="url(#cd)"/>
<polyline points="974.5,781.5 1096.2,1034" fill="none" stroke="#000" stroke-width="2.8" stroke-linejoin="round" clip-path="url(#cd)"/>
<ellipse cx="1015" cy="799.1" rx="4.6" ry="5.8" fill="#ff0000" stroke="#d40000" stroke-width="0.8"/>
<ellipse cx="1055.5" cy="814.6" rx="4.6" ry="5.8" fill="#ff0000" stroke="#d40000" stroke-width="0.8"/>
<ellipse cx="1096.2" cy="829" rx="4.6" ry="5.8" fill="#ff0000" stroke="#d40000" stroke-width="0.8"/>
<ellipse cx="1136.8" cy="846.5" rx="4.6" ry="5.8" fill="#ff0000" stroke="#d40000" stroke-width="0.8"/>
<ellipse cx="1177.3" cy="863.3" rx="4.6" ry="5.8" fill="#ff0000" stroke="#d40000" stroke-width="0.8"/>
<ellipse cx="1218" cy="880.1" rx="4.6" ry="5.8" fill="#ff0000" stroke="#d40000" stroke-width="0.8"/>
<ellipse cx="1258.5" cy="901.2" rx="4.6" ry="5.8" fill="#ff0000" stroke="#d40000" stroke-width="0.8"/>
<ellipse cx="1299.2" cy="921.8" rx="4.6" ry="5.8" fill="#ff0000" stroke="#d40000" stroke-width="0.8"/>
<ellipse cx="1339.8" cy="941.5" rx="4.6" ry="5.8" fill="#ff0000" stroke="#d40000" stroke-width="0.8"/>
<ellipse cx="1380.3" cy="964" rx="4.6" ry="5.8" fill="#ff0000" stroke="#d40000" stroke-width="0.8"/>
<ellipse cx="1421" cy="986.5" rx="4.6" ry="5.8" fill="#ff0000" stroke="#d40000" stroke-width="0.8"/>
<ellipse cx="1461.6" cy="1025.5" rx="4.6" ry="5.8" fill="#ff0000" stroke="#d40000" stroke-width="0.8"/>
<ellipse cx="1502.2" cy="1046.2" rx="4.6" ry="5.8" fill="#ff0000" stroke="#d40000" stroke-width="0.8"/>
<ellipse cx="1542.8" cy="1072.6" rx="4.6" ry="5.8" fill="#ff0000" stroke="#d40000" stroke-width="0.8"/>
<ellipse cx="1583.3" cy="1102.1" rx="4.6" ry="5.8" fill="#ff0000" stroke="#d40000" stroke-width="0.8"/>
<g clip-path="url(#cd)">
<rect x="969.6" y="785.2" width="9.6" height="10.5" fill="#0000ff"/>
</g>
<rect x="1010.1" y="864.4" width="9.6" height="10.5" fill="#0000ff"/>
<rect x="1050.9" y="962.8" width="9.6" height="10.5" fill="#0000ff"/>
<polygon points="1014.9,847.8 1008.4,860.2 1021.4,860.2" fill="#000"/>
<polygon points="1056,933.2 1049.5,945.8 1062.5,945.8" fill="#000"/>
<polygon points="1096.2,1034 1089.8,1046.5 1102.7,1046.5" fill="#000"/>
<rect x="974.4" y="734.3" width="649.5" height="563.8" fill="none" stroke="#000" stroke-width="2.6"/>
<line x1="963.9" y1="790.7" x2="974.4" y2="790.7" stroke="#000" stroke-width="2.6"/>
<line x1="963.9" y1="903.5" x2="974.4" y2="903.5" stroke="#000" stroke-width="2.6"/>
<line x1="963.9" y1="1016.2" x2="974.4" y2="1016.2" stroke="#000" stroke-width="2.6"/>
<line x1="963.9" y1="1129" x2="974.4" y2="1129" stroke="#000" stroke-width="2.6"/>
<line x1="963.9" y1="1241.7" x2="974.4" y2="1241.7" stroke="#000" stroke-width="2.6"/>
<line x1="968.9" y1="734.3" x2="974.4" y2="734.3" stroke="#000" stroke-width="2.6"/>
<line x1="968.9" y1="847.1" x2="974.4" y2="847.1" stroke="#000" stroke-width="2.6"/>
<line x1="968.9" y1="959.8" x2="974.4" y2="959.8" stroke="#000" stroke-width="2.6"/>
<line x1="968.9" y1="1072.6" x2="974.4" y2="1072.6" stroke="#000" stroke-width="2.6"/>
<line x1="968.9" y1="1185.3" x2="974.4" y2="1185.3" stroke="#000" stroke-width="2.6"/>
<line x1="968.9" y1="1298.1" x2="974.4" y2="1298.1" stroke="#000" stroke-width="2.6"/>
<line x1="974.4" y1="1298.1" x2="974.4" y2="1309.1" stroke="#000" stroke-width="2.6"/>
<line x1="1055.5" y1="1298.1" x2="1055.5" y2="1309.1" stroke="#000" stroke-width="2.6"/>
<line x1="1136.8" y1="1298.1" x2="1136.8" y2="1309.1" stroke="#000" stroke-width="2.6"/>
<line x1="1218" y1="1298.1" x2="1218" y2="1309.1" stroke="#000" stroke-width="2.6"/>
<line x1="1299.2" y1="1298.1" x2="1299.2" y2="1309.1" stroke="#000" stroke-width="2.6"/>
<line x1="1380.3" y1="1298.1" x2="1380.3" y2="1309.1" stroke="#000" stroke-width="2.6"/>
<line x1="1461.6" y1="1298.1" x2="1461.6" y2="1309.1" stroke="#000" stroke-width="2.6"/>
<line x1="1542.8" y1="1298.1" x2="1542.8" y2="1309.1" stroke="#000" stroke-width="2.6"/>
<line x1="1624" y1="1298.1" x2="1624" y2="1309.1" stroke="#000" stroke-width="2.6"/>
<line x1="1015" y1="1298.1" x2="1015" y2="1304.1" stroke="#000" stroke-width="2.6"/>
<line x1="1096.2" y1="1298.1" x2="1096.2" y2="1304.1" stroke="#000" stroke-width="2.6"/>
<line x1="1177.3" y1="1298.1" x2="1177.3" y2="1304.1" stroke="#000" stroke-width="2.6"/>
<line x1="1258.5" y1="1298.1" x2="1258.5" y2="1304.1" stroke="#000" stroke-width="2.6"/>
<line x1="1339.8" y1="1298.1" x2="1339.8" y2="1304.1" stroke="#000" stroke-width="2.6"/>
<line x1="1421" y1="1298.1" x2="1421" y2="1304.1" stroke="#000" stroke-width="2.6"/>
<line x1="1502.2" y1="1298.1" x2="1502.2" y2="1304.1" stroke="#000" stroke-width="2.6"/>
<line x1="1583.3" y1="1298.1" x2="1583.3" y2="1304.1" stroke="#000" stroke-width="2.6"/>
<text transform="translate(953.4 802.8) scale(1 1.06)" font-size="33.7" text-anchor="end">0.0</text>
<text transform="translate(953.4 915.6) scale(1 1.06)" font-size="33.7" text-anchor="end">-1.0</text>
<text transform="translate(953.4 1028.3) scale(1 1.06)" font-size="33.7" text-anchor="end">-2.0</text>
<text transform="translate(953.4 1141) scale(1 1.06)" font-size="33.7" text-anchor="end">-3.0</text>
<text transform="translate(953.4 1253.8) scale(1 1.06)" font-size="33.7" text-anchor="end">-4.0</text>
<text transform="translate(974.4 1347.3) scale(1 1.06)" font-size="33.7" text-anchor="middle">0</text>
<text transform="translate(1055.5 1347.3) scale(1 1.06)" font-size="33.7" text-anchor="middle">2</text>
<text transform="translate(1136.8 1347.3) scale(1 1.06)" font-size="33.7" text-anchor="middle">4</text>
<text transform="translate(1218 1347.3) scale(1 1.06)" font-size="33.7" text-anchor="middle">6</text>
<text transform="translate(1299.2 1347.3) scale(1 1.06)" font-size="33.7" text-anchor="middle">8</text>
<text transform="translate(1380.3 1347.3) scale(1 1.06)" font-size="33.7" text-anchor="middle">10</text>
<text transform="translate(1461.6 1347.3) scale(1 1.06)" font-size="33.7" text-anchor="middle">12</text>
<text transform="translate(1542.8 1347.3) scale(1 1.06)" font-size="33.7" text-anchor="middle">14</text>
<text transform="translate(1624 1347.3) scale(1 1.06)" font-size="33.7" text-anchor="middle">16</text>
<text transform="translate(1299 1403) scale(1 1.035)" font-size="39" text-anchor="middle">Time (min)</text>
<text x="880" y="1015.2" font-size="38.3" text-anchor="middle" transform="rotate(-90 880 1015.2)">ln(<tspan font-style="italic">C</tspan><tspan font-size="26" dy="8">t</tspan><tspan dy="-8">/</tspan><tspan font-style="italic">C</tspan><tspan font-size="26" dy="8">0</tspan><tspan dy="-8">)</tspan></text>
<text x="822.65 835.56 859.4" y="763.8" font-size="38">(d)</text>
<ellipse cx="1298.5" cy="778.3" rx="5" ry="5.8" fill="#ff0000" stroke="#d40000" stroke-width="0.8"/>
<text x="1316.2" y="785.2" font-size="29" text-anchor="start">Au NPs</text>
<rect x="1293.6" y="807.2" width="10" height="10.6" fill="#0000ff"/>
<text x="1316.2" y="819.2" font-size="29" text-anchor="start">Au@hmCs</text>
<polygon points="1298.5,838.8 1292,851.2 1305,851.2" fill="#000"/>
<text x="1316.2" y="853.2" font-size="29" text-anchor="start">Au@hmC-FeCo/GCs</text>
</g></svg>
</body></html>
